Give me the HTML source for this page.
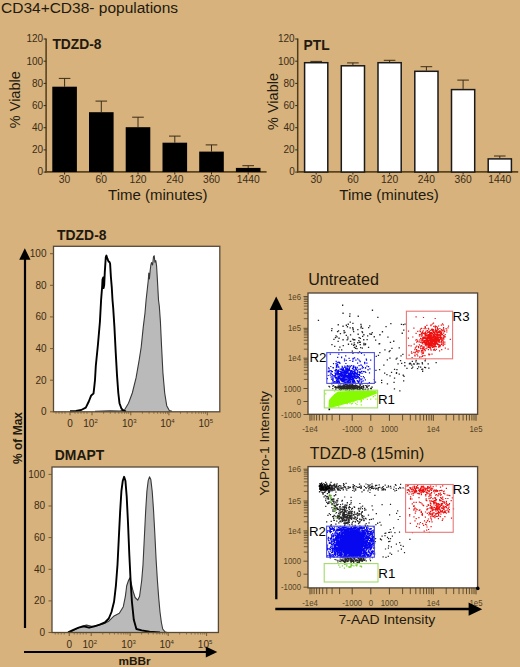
<!DOCTYPE html>
<html><head><meta charset="utf-8"><style>
html,body{margin:0;padding:0;background:#d7b27c;}
body{width:520px;height:667px;overflow:hidden;font-family:"Liberation Sans",sans-serif;}
svg{display:block;}
</style></head><body>
<svg width="520" height="667" viewBox="0 0 520 667">
<rect width="520" height="667" fill="#d7b27c"/>
<text x="1" y="12.6" font-family="Liberation Sans, sans-serif" font-size="15.5" fill="#22190f">CD34+CD38- populations</text>
<line x1="46.1" y1="38.5" x2="46.1" y2="172.6" stroke="#4e3c1c" stroke-width="1.5"/>
<line x1="45.4" y1="171.9" x2="266.6" y2="171.9" stroke="#5a4520" stroke-width="1.7"/>
<line x1="43.6" y1="172.1" x2="46.1" y2="172.1" stroke="#3a2c18" stroke-width="1"/>
<text x="43.1" y="175.4" font-family="Liberation Sans, sans-serif" font-size="10" fill="#3a2c18" text-anchor="end">0</text>
<line x1="43.6" y1="149.9" x2="46.1" y2="149.9" stroke="#3a2c18" stroke-width="1"/>
<text x="43.1" y="153.2" font-family="Liberation Sans, sans-serif" font-size="10" fill="#3a2c18" text-anchor="end">20</text>
<line x1="43.6" y1="127.7" x2="46.1" y2="127.7" stroke="#3a2c18" stroke-width="1"/>
<text x="43.1" y="131.0" font-family="Liberation Sans, sans-serif" font-size="10" fill="#3a2c18" text-anchor="end">40</text>
<line x1="43.6" y1="105.6" x2="46.1" y2="105.6" stroke="#3a2c18" stroke-width="1"/>
<text x="43.1" y="108.9" font-family="Liberation Sans, sans-serif" font-size="10" fill="#3a2c18" text-anchor="end">60</text>
<line x1="43.6" y1="83.4" x2="46.1" y2="83.4" stroke="#3a2c18" stroke-width="1"/>
<text x="43.1" y="86.7" font-family="Liberation Sans, sans-serif" font-size="10" fill="#3a2c18" text-anchor="end">80</text>
<line x1="43.6" y1="61.2" x2="46.1" y2="61.2" stroke="#3a2c18" stroke-width="1"/>
<text x="43.1" y="64.5" font-family="Liberation Sans, sans-serif" font-size="10" fill="#3a2c18" text-anchor="end">100</text>
<line x1="43.6" y1="39.0" x2="46.1" y2="39.0" stroke="#3a2c18" stroke-width="1"/>
<text x="43.1" y="42.3" font-family="Liberation Sans, sans-serif" font-size="10" fill="#3a2c18" text-anchor="end">120</text>
<text x="52.4" y="49" font-family="Liberation Sans, sans-serif" font-size="13.8" font-weight="bold" fill="#22190f">TDZD-8</text>
<line x1="64.6" y1="78.4" x2="64.6" y2="86.7" stroke="#3a2c18" stroke-width="1"/>
<line x1="58.8" y1="78.4" x2="70.4" y2="78.4" stroke="#3a2c18" stroke-width="1"/>
<rect x="52.3" y="86.7" width="24.6" height="85.3" fill="#000"/>
<line x1="64.6" y1="172" x2="64.6" y2="174.5" stroke="#3a2c18" stroke-width="1"/>
<text x="64.6" y="183.4" font-family="Liberation Sans, sans-serif" font-size="10.3" fill="#3a2c18" text-anchor="middle">30</text>
<line x1="101.3" y1="101.1" x2="101.3" y2="112.2" stroke="#3a2c18" stroke-width="1"/>
<line x1="95.5" y1="101.1" x2="107.1" y2="101.1" stroke="#3a2c18" stroke-width="1"/>
<rect x="89.0" y="112.2" width="24.6" height="59.8" fill="#000"/>
<line x1="101.3" y1="172" x2="101.3" y2="174.5" stroke="#3a2c18" stroke-width="1"/>
<text x="101.3" y="183.4" font-family="Liberation Sans, sans-serif" font-size="10.3" fill="#3a2c18" text-anchor="middle">60</text>
<line x1="138.0" y1="117.2" x2="138.0" y2="127.2" stroke="#3a2c18" stroke-width="1"/>
<line x1="132.2" y1="117.2" x2="143.8" y2="117.2" stroke="#3a2c18" stroke-width="1"/>
<rect x="125.7" y="127.2" width="24.6" height="44.8" fill="#000"/>
<line x1="138.0" y1="172" x2="138.0" y2="174.5" stroke="#3a2c18" stroke-width="1"/>
<text x="138.0" y="183.4" font-family="Liberation Sans, sans-serif" font-size="10.3" fill="#3a2c18" text-anchor="middle">120</text>
<line x1="174.8" y1="136.1" x2="174.8" y2="142.7" stroke="#3a2c18" stroke-width="1"/>
<line x1="169.0" y1="136.1" x2="180.6" y2="136.1" stroke="#3a2c18" stroke-width="1"/>
<rect x="162.5" y="142.7" width="24.6" height="29.3" fill="#000"/>
<line x1="174.8" y1="172" x2="174.8" y2="174.5" stroke="#3a2c18" stroke-width="1"/>
<text x="174.8" y="183.4" font-family="Liberation Sans, sans-serif" font-size="10.3" fill="#3a2c18" text-anchor="middle">240</text>
<line x1="211.5" y1="144.9" x2="211.5" y2="151.6" stroke="#3a2c18" stroke-width="1"/>
<line x1="205.7" y1="144.9" x2="217.3" y2="144.9" stroke="#3a2c18" stroke-width="1"/>
<rect x="199.2" y="151.6" width="24.6" height="20.4" fill="#000"/>
<line x1="211.5" y1="172" x2="211.5" y2="174.5" stroke="#3a2c18" stroke-width="1"/>
<text x="211.5" y="183.4" font-family="Liberation Sans, sans-serif" font-size="10.3" fill="#3a2c18" text-anchor="middle">360</text>
<line x1="248.2" y1="165.7" x2="248.2" y2="167.9" stroke="#3a2c18" stroke-width="1"/>
<line x1="242.4" y1="165.7" x2="254.0" y2="165.7" stroke="#3a2c18" stroke-width="1"/>
<rect x="235.9" y="167.9" width="24.6" height="4.1" fill="#000"/>
<line x1="248.2" y1="172" x2="248.2" y2="174.5" stroke="#3a2c18" stroke-width="1"/>
<text x="248.2" y="183.4" font-family="Liberation Sans, sans-serif" font-size="10.3" fill="#3a2c18" text-anchor="middle">1440</text>
<text x="157.8" y="200.3" font-family="Liberation Sans, sans-serif" font-size="15" fill="#22190f" text-anchor="middle">Time (minutes)</text>
<text transform="translate(20.2,99.7) rotate(-90)" x="0" y="0" font-family="Liberation Sans, sans-serif" font-size="14.5" fill="#22190f" text-anchor="middle">% Viable</text>
<line x1="297.7" y1="38.5" x2="297.7" y2="172.6" stroke="#4e3c1c" stroke-width="1.5"/>
<line x1="297.0" y1="171.9" x2="518.2" y2="171.9" stroke="#5a4520" stroke-width="1.7"/>
<line x1="295.2" y1="172.1" x2="297.7" y2="172.1" stroke="#3a2c18" stroke-width="1"/>
<text x="294.7" y="175.4" font-family="Liberation Sans, sans-serif" font-size="10" fill="#3a2c18" text-anchor="end">0</text>
<line x1="295.2" y1="149.9" x2="297.7" y2="149.9" stroke="#3a2c18" stroke-width="1"/>
<text x="294.7" y="153.2" font-family="Liberation Sans, sans-serif" font-size="10" fill="#3a2c18" text-anchor="end">20</text>
<line x1="295.2" y1="127.7" x2="297.7" y2="127.7" stroke="#3a2c18" stroke-width="1"/>
<text x="294.7" y="131.0" font-family="Liberation Sans, sans-serif" font-size="10" fill="#3a2c18" text-anchor="end">40</text>
<line x1="295.2" y1="105.6" x2="297.7" y2="105.6" stroke="#3a2c18" stroke-width="1"/>
<text x="294.7" y="108.9" font-family="Liberation Sans, sans-serif" font-size="10" fill="#3a2c18" text-anchor="end">60</text>
<line x1="295.2" y1="83.4" x2="297.7" y2="83.4" stroke="#3a2c18" stroke-width="1"/>
<text x="294.7" y="86.7" font-family="Liberation Sans, sans-serif" font-size="10" fill="#3a2c18" text-anchor="end">80</text>
<line x1="295.2" y1="61.2" x2="297.7" y2="61.2" stroke="#3a2c18" stroke-width="1"/>
<text x="294.7" y="64.5" font-family="Liberation Sans, sans-serif" font-size="10" fill="#3a2c18" text-anchor="end">100</text>
<line x1="295.2" y1="39.0" x2="297.7" y2="39.0" stroke="#3a2c18" stroke-width="1"/>
<text x="294.7" y="42.3" font-family="Liberation Sans, sans-serif" font-size="10" fill="#3a2c18" text-anchor="end">120</text>
<text x="303.6" y="50.4" font-family="Liberation Sans, sans-serif" font-size="13.8" font-weight="bold" fill="#22190f">PTL</text>
<line x1="316.2" y1="61.4" x2="316.2" y2="62.0" stroke="#3a2c18" stroke-width="1"/>
<line x1="310.4" y1="61.4" x2="322.0" y2="61.4" stroke="#3a2c18" stroke-width="1"/>
<rect x="304.6" y="62.7" width="23.200000000000003" height="109.3" fill="#fff" stroke="#1a1a1a" stroke-width="1.5"/>
<line x1="316.2" y1="172" x2="316.2" y2="174.5" stroke="#3a2c18" stroke-width="1"/>
<text x="316.2" y="183.4" font-family="Liberation Sans, sans-serif" font-size="10.3" fill="#3a2c18" text-anchor="middle">30</text>
<line x1="352.9" y1="62.9" x2="352.9" y2="65.1" stroke="#3a2c18" stroke-width="1"/>
<line x1="347.1" y1="62.9" x2="358.7" y2="62.9" stroke="#3a2c18" stroke-width="1"/>
<rect x="341.3" y="65.8" width="23.200000000000003" height="106.2" fill="#fff" stroke="#1a1a1a" stroke-width="1.5"/>
<line x1="352.9" y1="172" x2="352.9" y2="174.5" stroke="#3a2c18" stroke-width="1"/>
<text x="352.9" y="183.4" font-family="Liberation Sans, sans-serif" font-size="10.3" fill="#3a2c18" text-anchor="middle">60</text>
<line x1="389.6" y1="60.3" x2="389.6" y2="62.0" stroke="#3a2c18" stroke-width="1"/>
<line x1="383.8" y1="60.3" x2="395.4" y2="60.3" stroke="#3a2c18" stroke-width="1"/>
<rect x="378.0" y="62.7" width="23.200000000000003" height="109.3" fill="#fff" stroke="#1a1a1a" stroke-width="1.5"/>
<line x1="389.6" y1="172" x2="389.6" y2="174.5" stroke="#3a2c18" stroke-width="1"/>
<text x="389.6" y="183.4" font-family="Liberation Sans, sans-serif" font-size="10.3" fill="#3a2c18" text-anchor="middle">120</text>
<line x1="426.4" y1="66.7" x2="426.4" y2="70.6" stroke="#3a2c18" stroke-width="1"/>
<line x1="420.6" y1="66.7" x2="432.2" y2="66.7" stroke="#3a2c18" stroke-width="1"/>
<rect x="414.8" y="71.3" width="23.200000000000003" height="100.7" fill="#fff" stroke="#1a1a1a" stroke-width="1.5"/>
<line x1="426.4" y1="172" x2="426.4" y2="174.5" stroke="#3a2c18" stroke-width="1"/>
<text x="426.4" y="183.4" font-family="Liberation Sans, sans-serif" font-size="10.3" fill="#3a2c18" text-anchor="middle">240</text>
<line x1="463.1" y1="80.1" x2="463.1" y2="88.9" stroke="#3a2c18" stroke-width="1"/>
<line x1="457.3" y1="80.1" x2="468.9" y2="80.1" stroke="#3a2c18" stroke-width="1"/>
<rect x="451.5" y="89.6" width="23.200000000000003" height="82.4" fill="#fff" stroke="#1a1a1a" stroke-width="1.5"/>
<line x1="463.1" y1="172" x2="463.1" y2="174.5" stroke="#3a2c18" stroke-width="1"/>
<text x="463.1" y="183.4" font-family="Liberation Sans, sans-serif" font-size="10.3" fill="#3a2c18" text-anchor="middle">360</text>
<line x1="499.8" y1="156.0" x2="499.8" y2="158.2" stroke="#3a2c18" stroke-width="1"/>
<line x1="494.0" y1="156.0" x2="505.6" y2="156.0" stroke="#3a2c18" stroke-width="1"/>
<rect x="488.2" y="158.9" width="23.200000000000003" height="13.1" fill="#fff" stroke="#1a1a1a" stroke-width="1.5"/>
<line x1="499.8" y1="172" x2="499.8" y2="174.5" stroke="#3a2c18" stroke-width="1"/>
<text x="499.8" y="183.4" font-family="Liberation Sans, sans-serif" font-size="10.3" fill="#3a2c18" text-anchor="middle">1440</text>
<text x="389.1" y="200.3" font-family="Liberation Sans, sans-serif" font-size="15" fill="#22190f" text-anchor="middle">Time (minutes)</text>
<text transform="translate(277.6,101.5) rotate(-90)" x="0" y="0" font-family="Liberation Sans, sans-serif" font-size="14.5" fill="#22190f" text-anchor="middle">% Viable</text>
<rect x="53.5" y="246.3" width="166.3" height="165.5" fill="#fff"/>
<polygon points="95.0,411.3 110.0,410.8 120.0,411.0 124.6,409.8 128.5,403.2 132.3,393.0 136.1,377.7 139.2,359.8 141.2,347.0 143.3,326.6 145.0,313.0 146.1,300.0 148.2,281.0 148.8,273.0 149.4,279.0 150.2,270.2 150.9,264.8 151.5,262.6 152.6,265.0 153.5,256.7 154.2,255.8 154.9,262.1 155.8,260.6 156.6,266.2 157.6,283.6 158.5,300.0 159.3,306.0 160.4,321.5 161.6,347.0 162.9,372.6 164.7,393.0 166.7,405.7 169.3,410.6 172.0,411.3 172.0,411.8 95.0,411.8" fill="#bababa" stroke="none"/>
<polyline points="95.0,411.3 110.0,410.8 120.0,411.0 124.6,409.8 128.5,403.2 132.3,393.0 136.1,377.7 139.2,359.8 141.2,347.0 143.3,326.6 145.0,313.0 146.1,300.0 148.2,281.0 148.8,273.0 149.4,279.0 150.2,270.2 150.9,264.8 151.5,262.6 152.6,265.0 153.5,256.7 154.2,255.8 154.9,262.1 155.8,260.6 156.6,266.2 157.6,283.6 158.5,300.0 159.3,306.0 160.4,321.5 161.6,347.0 162.9,372.6 164.7,393.0 166.7,405.7 169.3,410.6 172.0,411.3" fill="none" stroke="#383838" stroke-width="1.1" stroke-linejoin="round"/>
<polyline points="70.0,411.3 76.0,411.0 81.2,410.0 85.8,407.7 88.8,401.5 91.2,395.4 93.5,393.6 94.2,387.7 95.0,380.0 95.8,366.0 97.9,345.0 99.9,322.0 101.1,300.0 102.2,286.0 102.5,279.5 103.2,277.5 103.6,288.0 104.2,285.0 104.8,272.0 105.8,257.0 106.4,255.6 107.4,258.7 108.5,261.4 109.5,262.1 110.1,263.5 110.9,277.0 111.8,287.7 112.5,300.0 113.2,308.0 114.4,326.6 115.7,352.1 117.0,375.1 118.3,393.0 119.5,403.2 121.3,408.3 123.4,410.6 126.0,411.3" fill="none" stroke="#000" stroke-width="1.9" stroke-linejoin="round"/>
<rect x="53.5" y="246.3" width="166.3" height="165.5" fill="none" stroke="#55493a" stroke-width="1.3"/>
<line x1="50.0" y1="411.8" x2="53.5" y2="411.8" stroke="#6a5430" stroke-width="0.9"/>
<text x="46.5" y="415.2" font-family="Liberation Sans, sans-serif" font-size="10" fill="#3a2c18" text-anchor="end">0</text>
<line x1="50.0" y1="380.2" x2="53.5" y2="380.2" stroke="#6a5430" stroke-width="0.9"/>
<text x="46.5" y="383.6" font-family="Liberation Sans, sans-serif" font-size="10" fill="#3a2c18" text-anchor="end">20</text>
<line x1="50.0" y1="348.6" x2="53.5" y2="348.6" stroke="#6a5430" stroke-width="0.9"/>
<text x="46.5" y="352.0" font-family="Liberation Sans, sans-serif" font-size="10" fill="#3a2c18" text-anchor="end">40</text>
<line x1="50.0" y1="316.9" x2="53.5" y2="316.9" stroke="#6a5430" stroke-width="0.9"/>
<text x="46.5" y="320.3" font-family="Liberation Sans, sans-serif" font-size="10" fill="#3a2c18" text-anchor="end">60</text>
<line x1="50.0" y1="285.3" x2="53.5" y2="285.3" stroke="#6a5430" stroke-width="0.9"/>
<text x="46.5" y="288.7" font-family="Liberation Sans, sans-serif" font-size="10" fill="#3a2c18" text-anchor="end">80</text>
<line x1="50.0" y1="253.7" x2="53.5" y2="253.7" stroke="#6a5430" stroke-width="0.9"/>
<text x="46.5" y="257.1" font-family="Liberation Sans, sans-serif" font-size="10" fill="#3a2c18" text-anchor="end">100</text>
<line x1="70.0" y1="411.8" x2="70.0" y2="415.3" stroke="#6a5430" stroke-width="0.9"/>
<line x1="92.0" y1="411.8" x2="92.0" y2="415.3" stroke="#6a5430" stroke-width="0.9"/>
<line x1="103.6" y1="411.8" x2="103.6" y2="413.8" stroke="#6a5430" stroke-width="0.7"/>
<line x1="110.3" y1="411.8" x2="110.3" y2="413.8" stroke="#6a5430" stroke-width="0.7"/>
<line x1="115.1" y1="411.8" x2="115.1" y2="413.8" stroke="#6a5430" stroke-width="0.7"/>
<line x1="118.8" y1="411.8" x2="118.8" y2="413.8" stroke="#6a5430" stroke-width="0.7"/>
<line x1="121.9" y1="411.8" x2="121.9" y2="413.8" stroke="#6a5430" stroke-width="0.7"/>
<line x1="124.5" y1="411.8" x2="124.5" y2="413.8" stroke="#6a5430" stroke-width="0.7"/>
<line x1="126.7" y1="411.8" x2="126.7" y2="413.8" stroke="#6a5430" stroke-width="0.7"/>
<line x1="128.6" y1="411.8" x2="128.6" y2="413.8" stroke="#6a5430" stroke-width="0.7"/>
<line x1="130.8" y1="411.8" x2="130.8" y2="415.3" stroke="#6a5430" stroke-width="0.9"/>
<line x1="142.4" y1="411.8" x2="142.4" y2="413.8" stroke="#6a5430" stroke-width="0.7"/>
<line x1="149.1" y1="411.8" x2="149.1" y2="413.8" stroke="#6a5430" stroke-width="0.7"/>
<line x1="153.9" y1="411.8" x2="153.9" y2="413.8" stroke="#6a5430" stroke-width="0.7"/>
<line x1="157.6" y1="411.8" x2="157.6" y2="413.8" stroke="#6a5430" stroke-width="0.7"/>
<line x1="160.7" y1="411.8" x2="160.7" y2="413.8" stroke="#6a5430" stroke-width="0.7"/>
<line x1="163.3" y1="411.8" x2="163.3" y2="413.8" stroke="#6a5430" stroke-width="0.7"/>
<line x1="165.5" y1="411.8" x2="165.5" y2="413.8" stroke="#6a5430" stroke-width="0.7"/>
<line x1="167.4" y1="411.8" x2="167.4" y2="413.8" stroke="#6a5430" stroke-width="0.7"/>
<line x1="168.9" y1="411.8" x2="168.9" y2="415.3" stroke="#6a5430" stroke-width="0.9"/>
<line x1="180.5" y1="411.8" x2="180.5" y2="413.8" stroke="#6a5430" stroke-width="0.7"/>
<line x1="187.2" y1="411.8" x2="187.2" y2="413.8" stroke="#6a5430" stroke-width="0.7"/>
<line x1="192.0" y1="411.8" x2="192.0" y2="413.8" stroke="#6a5430" stroke-width="0.7"/>
<line x1="195.7" y1="411.8" x2="195.7" y2="413.8" stroke="#6a5430" stroke-width="0.7"/>
<line x1="198.8" y1="411.8" x2="198.8" y2="413.8" stroke="#6a5430" stroke-width="0.7"/>
<line x1="201.4" y1="411.8" x2="201.4" y2="413.8" stroke="#6a5430" stroke-width="0.7"/>
<line x1="203.6" y1="411.8" x2="203.6" y2="413.8" stroke="#6a5430" stroke-width="0.7"/>
<line x1="205.5" y1="411.8" x2="205.5" y2="413.8" stroke="#6a5430" stroke-width="0.7"/>
<line x1="207.3" y1="411.8" x2="207.3" y2="415.3" stroke="#6a5430" stroke-width="0.9"/>
<line x1="56.0" y1="411.8" x2="56.0" y2="413.8" stroke="#6a5430" stroke-width="0.7"/>
<line x1="59.0" y1="411.8" x2="59.0" y2="413.8" stroke="#6a5430" stroke-width="0.7"/>
<line x1="62.0" y1="411.8" x2="62.0" y2="413.8" stroke="#6a5430" stroke-width="0.7"/>
<line x1="65.0" y1="411.8" x2="65.0" y2="413.8" stroke="#6a5430" stroke-width="0.7"/>
<line x1="75.0" y1="411.8" x2="75.0" y2="413.8" stroke="#6a5430" stroke-width="0.7"/>
<line x1="78.0" y1="411.8" x2="78.0" y2="413.8" stroke="#6a5430" stroke-width="0.7"/>
<line x1="81.0" y1="411.8" x2="81.0" y2="413.8" stroke="#6a5430" stroke-width="0.7"/>
<line x1="84.0" y1="411.8" x2="84.0" y2="413.8" stroke="#6a5430" stroke-width="0.7"/>
<line x1="87.0" y1="411.8" x2="87.0" y2="413.8" stroke="#6a5430" stroke-width="0.7"/>
<text x="70.0" y="427.0" font-family="Liberation Sans, sans-serif" font-size="10" fill="#3a2c18" text-anchor="middle">0</text>
<text x="90.5" y="427.0" font-family="Liberation Sans, sans-serif" font-size="10" fill="#3a2c18" text-anchor="middle">10<tspan font-size="6" dy="-4">2</tspan></text>
<text x="129.3" y="427.0" font-family="Liberation Sans, sans-serif" font-size="10" fill="#3a2c18" text-anchor="middle">10<tspan font-size="6" dy="-4">3</tspan></text>
<text x="167.4" y="427.0" font-family="Liberation Sans, sans-serif" font-size="10" fill="#3a2c18" text-anchor="middle">10<tspan font-size="6" dy="-4">4</tspan></text>
<text x="205.8" y="427.0" font-family="Liberation Sans, sans-serif" font-size="10" fill="#3a2c18" text-anchor="middle">10<tspan font-size="6" dy="-4">5</tspan></text>
<text x="57.1" y="240.0" font-family="Liberation Sans, sans-serif" font-size="13.9" font-weight="bold" fill="#22190f">TDZD-8</text>
<rect x="52" y="467" width="166.4" height="165.5" fill="#fff"/>
<polygon points="69.4,632.4 76.0,629.0 81.3,626.4 86.5,625.1 91.8,626.4 97.0,625.6 103.6,623.8 108.8,621.2 114.1,615.9 119.3,613.3 123.3,606.7 125.4,596.2 126.7,585.7 128.5,580.5 129.8,577.9 131.2,583.1 133.0,591.0 135.1,597.5 137.7,600.2 139.6,596.2 141.7,580.5 143.0,564.7 144.3,538.5 145.6,512.2 146.9,491.2 148.2,480.7 149.5,476.8 150.8,479.4 152.2,491.2 153.5,509.6 154.8,533.2 156.1,559.5 157.4,580.5 158.8,598.9 160.0,612.0 161.4,622.5 162.7,629.0 164.8,631.7 167.0,632.4 167.0,632.5 69.4,632.5" fill="#bababa" stroke="none"/>
<polyline points="69.4,632.4 76.0,629.0 81.3,626.4 86.5,625.1 91.8,626.4 97.0,625.6 103.6,623.8 108.8,621.2 114.1,615.9 119.3,613.3 123.3,606.7 125.4,596.2 126.7,585.7 128.5,580.5 129.8,577.9 131.2,583.1 133.0,591.0 135.1,597.5 137.7,600.2 139.6,596.2 141.7,580.5 143.0,564.7 144.3,538.5 145.6,512.2 146.9,491.2 148.2,480.7 149.5,476.8 150.8,479.4 152.2,491.2 153.5,509.6 154.8,533.2 156.1,559.5 157.4,580.5 158.8,598.9 160.0,612.0 161.4,622.5 162.7,629.0 164.8,631.7 167.0,632.4" fill="none" stroke="#383838" stroke-width="1.1" stroke-linejoin="round"/>
<polyline points="68.1,632.4 73.4,629.8 78.6,627.7 83.9,626.4 89.1,627.7 94.4,626.4 99.6,624.6 104.9,622.5 108.8,618.5 111.5,612.0 114.1,601.5 115.9,585.7 117.5,564.7 118.8,538.5 120.1,512.2 121.4,491.2 122.8,480.7 124.1,476.8 125.4,480.7 126.7,496.5 128.0,522.7 129.3,554.2 130.6,580.5 131.9,601.5 133.8,619.8 136.4,629.0 141.7,630.4 149.5,631.7 160.0,632.4" fill="none" stroke="#000" stroke-width="1.9" stroke-linejoin="round"/>
<rect x="52" y="467" width="166.4" height="165.5" fill="none" stroke="#55493a" stroke-width="1.3"/>
<line x1="48.5" y1="632.5" x2="52" y2="632.5" stroke="#6a5430" stroke-width="0.9"/>
<text x="45" y="635.9" font-family="Liberation Sans, sans-serif" font-size="10" fill="#3a2c18" text-anchor="end">0</text>
<line x1="48.5" y1="600.9" x2="52" y2="600.9" stroke="#6a5430" stroke-width="0.9"/>
<text x="45" y="604.3" font-family="Liberation Sans, sans-serif" font-size="10" fill="#3a2c18" text-anchor="end">20</text>
<line x1="48.5" y1="569.3" x2="52" y2="569.3" stroke="#6a5430" stroke-width="0.9"/>
<text x="45" y="572.7" font-family="Liberation Sans, sans-serif" font-size="10" fill="#3a2c18" text-anchor="end">40</text>
<line x1="48.5" y1="537.6" x2="52" y2="537.6" stroke="#6a5430" stroke-width="0.9"/>
<text x="45" y="541.0" font-family="Liberation Sans, sans-serif" font-size="10" fill="#3a2c18" text-anchor="end">60</text>
<line x1="48.5" y1="506.0" x2="52" y2="506.0" stroke="#6a5430" stroke-width="0.9"/>
<text x="45" y="509.4" font-family="Liberation Sans, sans-serif" font-size="10" fill="#3a2c18" text-anchor="end">80</text>
<line x1="48.5" y1="474.4" x2="52" y2="474.4" stroke="#6a5430" stroke-width="0.9"/>
<text x="45" y="477.8" font-family="Liberation Sans, sans-serif" font-size="10" fill="#3a2c18" text-anchor="end">100</text>
<line x1="69.25" y1="632.5" x2="69.25" y2="636.0" stroke="#6a5430" stroke-width="0.9"/>
<line x1="91.2" y1="632.5" x2="91.2" y2="636.0" stroke="#6a5430" stroke-width="0.9"/>
<line x1="102.8" y1="632.5" x2="102.8" y2="634.5" stroke="#6a5430" stroke-width="0.7"/>
<line x1="109.6" y1="632.5" x2="109.6" y2="634.5" stroke="#6a5430" stroke-width="0.7"/>
<line x1="114.4" y1="632.5" x2="114.4" y2="634.5" stroke="#6a5430" stroke-width="0.7"/>
<line x1="118.1" y1="632.5" x2="118.1" y2="634.5" stroke="#6a5430" stroke-width="0.7"/>
<line x1="121.1" y1="632.5" x2="121.1" y2="634.5" stroke="#6a5430" stroke-width="0.7"/>
<line x1="123.7" y1="632.5" x2="123.7" y2="634.5" stroke="#6a5430" stroke-width="0.7"/>
<line x1="125.9" y1="632.5" x2="125.9" y2="634.5" stroke="#6a5430" stroke-width="0.7"/>
<line x1="127.9" y1="632.5" x2="127.9" y2="634.5" stroke="#6a5430" stroke-width="0.7"/>
<line x1="130.1" y1="632.5" x2="130.1" y2="636.0" stroke="#6a5430" stroke-width="0.9"/>
<line x1="141.6" y1="632.5" x2="141.6" y2="634.5" stroke="#6a5430" stroke-width="0.7"/>
<line x1="148.4" y1="632.5" x2="148.4" y2="634.5" stroke="#6a5430" stroke-width="0.7"/>
<line x1="153.2" y1="632.5" x2="153.2" y2="634.5" stroke="#6a5430" stroke-width="0.7"/>
<line x1="156.9" y1="632.5" x2="156.9" y2="634.5" stroke="#6a5430" stroke-width="0.7"/>
<line x1="159.9" y1="632.5" x2="159.9" y2="634.5" stroke="#6a5430" stroke-width="0.7"/>
<line x1="162.5" y1="632.5" x2="162.5" y2="634.5" stroke="#6a5430" stroke-width="0.7"/>
<line x1="164.7" y1="632.5" x2="164.7" y2="634.5" stroke="#6a5430" stroke-width="0.7"/>
<line x1="166.7" y1="632.5" x2="166.7" y2="634.5" stroke="#6a5430" stroke-width="0.7"/>
<line x1="168.2" y1="632.5" x2="168.2" y2="636.0" stroke="#6a5430" stroke-width="0.9"/>
<line x1="179.7" y1="632.5" x2="179.7" y2="634.5" stroke="#6a5430" stroke-width="0.7"/>
<line x1="186.5" y1="632.5" x2="186.5" y2="634.5" stroke="#6a5430" stroke-width="0.7"/>
<line x1="191.3" y1="632.5" x2="191.3" y2="634.5" stroke="#6a5430" stroke-width="0.7"/>
<line x1="195.0" y1="632.5" x2="195.0" y2="634.5" stroke="#6a5430" stroke-width="0.7"/>
<line x1="198.0" y1="632.5" x2="198.0" y2="634.5" stroke="#6a5430" stroke-width="0.7"/>
<line x1="200.6" y1="632.5" x2="200.6" y2="634.5" stroke="#6a5430" stroke-width="0.7"/>
<line x1="202.8" y1="632.5" x2="202.8" y2="634.5" stroke="#6a5430" stroke-width="0.7"/>
<line x1="204.8" y1="632.5" x2="204.8" y2="634.5" stroke="#6a5430" stroke-width="0.7"/>
<line x1="206.6" y1="632.5" x2="206.6" y2="636.0" stroke="#6a5430" stroke-width="0.9"/>
<line x1="55.2" y1="632.5" x2="55.2" y2="634.5" stroke="#6a5430" stroke-width="0.7"/>
<line x1="58.2" y1="632.5" x2="58.2" y2="634.5" stroke="#6a5430" stroke-width="0.7"/>
<line x1="61.2" y1="632.5" x2="61.2" y2="634.5" stroke="#6a5430" stroke-width="0.7"/>
<line x1="64.2" y1="632.5" x2="64.2" y2="634.5" stroke="#6a5430" stroke-width="0.7"/>
<line x1="74.2" y1="632.5" x2="74.2" y2="634.5" stroke="#6a5430" stroke-width="0.7"/>
<line x1="77.2" y1="632.5" x2="77.2" y2="634.5" stroke="#6a5430" stroke-width="0.7"/>
<line x1="80.2" y1="632.5" x2="80.2" y2="634.5" stroke="#6a5430" stroke-width="0.7"/>
<line x1="83.2" y1="632.5" x2="83.2" y2="634.5" stroke="#6a5430" stroke-width="0.7"/>
<line x1="86.2" y1="632.5" x2="86.2" y2="634.5" stroke="#6a5430" stroke-width="0.7"/>
<text x="69.25" y="647.7" font-family="Liberation Sans, sans-serif" font-size="10" fill="#3a2c18" text-anchor="middle">0</text>
<text x="89.8" y="647.7" font-family="Liberation Sans, sans-serif" font-size="10" fill="#3a2c18" text-anchor="middle">10<tspan font-size="6" dy="-4">2</tspan></text>
<text x="128.6" y="647.7" font-family="Liberation Sans, sans-serif" font-size="10" fill="#3a2c18" text-anchor="middle">10<tspan font-size="6" dy="-4">3</tspan></text>
<text x="166.7" y="647.7" font-family="Liberation Sans, sans-serif" font-size="10" fill="#3a2c18" text-anchor="middle">10<tspan font-size="6" dy="-4">4</tspan></text>
<text x="205.1" y="647.7" font-family="Liberation Sans, sans-serif" font-size="10" fill="#3a2c18" text-anchor="middle">10<tspan font-size="6" dy="-4">5</tspan></text>
<text x="54.8" y="459.7" font-family="Liberation Sans, sans-serif" font-size="13.9" font-weight="bold" fill="#22190f">DMAPT</text>
<line x1="25" y1="258" x2="25" y2="628" stroke="#000" stroke-width="2.2"/>
<polygon points="24.8,248.3 19.2,259.8 30.5,259.8" fill="#000"/>
<line x1="24" y1="652" x2="207" y2="652" stroke="#000" stroke-width="2.2"/>
<polygon points="217.3,652 205.8,646.4 205.8,657.4" fill="#000"/>
<text transform="translate(21.9,438) rotate(-90)" font-family="Liberation Sans, sans-serif" font-size="12" font-weight="bold" fill="#22190f" text-anchor="middle">% of Max</text>
<text x="134.6" y="664.7" font-family="Liberation Sans, sans-serif" font-size="11.8" font-weight="bold" fill="#22190f" text-anchor="middle">mBBr</text>
<rect x="308" y="293" width="169.60000000000002" height="121.3" fill="#fff"/>
<path d="M337.5 340.8h1.3v1.3h-1.3zM361.9 331.9h1.3v1.3h-1.3zM336.4 336.3h1.3v1.3h-1.3zM356.3 348.0h1.3v1.3h-1.3zM337.6 324.1h1.3v1.3h-1.3zM358.8 341.7h1.3v1.3h-1.3zM367.9 346.8h1.3v1.3h-1.3zM349.9 334.3h1.3v1.3h-1.3zM379.3 334.1h1.3v1.3h-1.3zM342.4 325.6h1.3v1.3h-1.3zM352.1 338.5h1.3v1.3h-1.3zM347.2 336.4h1.3v1.3h-1.3zM354.0 343.9h1.3v1.3h-1.3zM363.1 339.1h1.3v1.3h-1.3zM331.3 344.0h1.3v1.3h-1.3zM335.4 335.3h1.3v1.3h-1.3zM334.8 337.0h1.3v1.3h-1.3zM342.4 339.1h1.3v1.3h-1.3zM387.3 336.5h1.3v1.3h-1.3zM360.3 323.8h1.3v1.3h-1.3zM347.8 343.6h1.3v1.3h-1.3zM350.0 340.7h1.3v1.3h-1.3zM352.1 326.9h1.3v1.3h-1.3zM357.2 328.9h1.3v1.3h-1.3zM371.6 331.9h1.3v1.3h-1.3zM358.5 337.0h1.3v1.3h-1.3zM361.5 331.0h1.3v1.3h-1.3zM362.0 335.8h1.3v1.3h-1.3zM364.9 343.2h1.3v1.3h-1.3zM352.6 329.2h1.3v1.3h-1.3zM359.4 341.7h1.3v1.3h-1.3zM369.1 333.2h1.3v1.3h-1.3zM357.1 342.1h1.3v1.3h-1.3zM354.1 339.1h1.3v1.3h-1.3zM353.0 331.0h1.3v1.3h-1.3zM339.8 333.0h1.3v1.3h-1.3zM357.5 352.1h1.3v1.3h-1.3zM361.7 347.5h1.3v1.3h-1.3zM359.6 344.0h1.3v1.3h-1.3zM353.0 344.7h1.3v1.3h-1.3zM370.5 333.7h1.3v1.3h-1.3zM353.7 346.7h1.3v1.3h-1.3zM360.6 325.6h1.3v1.3h-1.3zM377.8 354.8h1.3v1.3h-1.3zM352.9 344.5h1.3v1.3h-1.3zM352.4 328.2h1.3v1.3h-1.3zM349.8 340.7h1.3v1.3h-1.3zM363.3 344.1h1.3v1.3h-1.3zM351.7 350.5h1.3v1.3h-1.3zM342.6 344.9h1.3v1.3h-1.3zM363.2 334.1h1.3v1.3h-1.3zM331.3 327.9h1.3v1.3h-1.3zM353.6 342.3h1.3v1.3h-1.3zM368.0 327.0h1.3v1.3h-1.3zM351.0 343.5h1.3v1.3h-1.3zM349.3 313.3h1.3v1.3h-1.3zM362.0 327.8h1.3v1.3h-1.3zM346.5 339.2h1.3v1.3h-1.3zM378.4 343.2h1.3v1.3h-1.3zM352.3 352.6h1.3v1.3h-1.3zM343.5 332.3h1.3v1.3h-1.3zM358.9 351.2h1.3v1.3h-1.3zM358.2 340.0h1.3v1.3h-1.3zM331.0 329.9h1.3v1.3h-1.3zM344.3 331.7h1.3v1.3h-1.3zM357.5 333.6h1.3v1.3h-1.3zM359.7 337.8h1.3v1.3h-1.3zM347.3 338.2h1.3v1.3h-1.3zM355.7 345.6h1.3v1.3h-1.3zM345.7 334.7h1.3v1.3h-1.3zM367.0 335.2h1.3v1.3h-1.3zM345.7 324.6h1.3v1.3h-1.3zM352.9 339.1h1.3v1.3h-1.3zM375.0 339.5h1.3v1.3h-1.3zM342.4 312.6h1.3v1.3h-1.3zM366.5 338.9h1.3v1.3h-1.3zM333.3 338.8h1.3v1.3h-1.3zM363.3 342.7h1.3v1.3h-1.3zM349.1 315.6h1.3v1.3h-1.3zM349.6 321.5h1.3v1.3h-1.3zM357.6 315.6h1.3v1.3h-1.3zM341.0 349.2h1.3v1.3h-1.3zM369.1 325.2h1.3v1.3h-1.3zM334.1 345.8h1.3v1.3h-1.3zM360.4 327.1h1.3v1.3h-1.3zM343.4 330.1h1.3v1.3h-1.3zM337.9 330.2h1.3v1.3h-1.3zM364.8 343.9h1.3v1.3h-1.3zM373.6 336.1h1.3v1.3h-1.3zM349.5 327.2h1.3v1.3h-1.3z" fill="#262626"/>
<path d="M352.3 322.7h1.3v1.3h-1.3zM315.9 356.8h1.3v1.3h-1.3zM386.7 359.2h1.3v1.3h-1.3zM384.3 349.3h1.3v1.3h-1.3zM339.2 346.5h1.3v1.3h-1.3zM346.8 326.1h1.3v1.3h-1.3zM317.8 319.8h1.3v1.3h-1.3zM354.9 347.6h1.3v1.3h-1.3zM381.8 331.1h1.3v1.3h-1.3zM371.8 309.6h1.3v1.3h-1.3zM370.8 333.6h1.3v1.3h-1.3zM338.4 337.6h1.3v1.3h-1.3zM377.2 316.8h1.3v1.3h-1.3zM342.0 304.6h1.3v1.3h-1.3zM338.2 349.2h1.3v1.3h-1.3zM336.9 330.9h1.3v1.3h-1.3zM379.0 342.9h1.3v1.3h-1.3zM360.0 346.9h1.3v1.3h-1.3zM359.5 341.5h1.3v1.3h-1.3zM347.6 323.6h1.3v1.3h-1.3z" fill="#262626"/>
<path d="M375.6 355.7h1.3v1.3h-1.3zM388.6 351.0h1.3v1.3h-1.3zM399.9 360.0h1.3v1.3h-1.3zM379.2 352.0h1.3v1.3h-1.3zM393.9 368.8h1.3v1.3h-1.3zM393.9 377.5h1.3v1.3h-1.3zM399.2 390.3h1.3v1.3h-1.3zM395.5 358.4h1.3v1.3h-1.3zM389.3 357.5h1.3v1.3h-1.3zM375.3 369.8h1.3v1.3h-1.3zM396.4 357.5h1.3v1.3h-1.3zM383.2 364.5h1.3v1.3h-1.3zM395.9 371.9h1.3v1.3h-1.3zM393.4 381.8h1.3v1.3h-1.3zM386.8 383.3h1.3v1.3h-1.3zM402.2 353.7h1.3v1.3h-1.3zM403.0 380.3h1.3v1.3h-1.3zM378.9 369.0h1.3v1.3h-1.3zM393.8 388.2h1.3v1.3h-1.3zM386.3 373.9h1.3v1.3h-1.3z" fill="#262626"/>
<path d="M390.9 371.7h1.3v1.3h-1.3zM404.1 362.0h1.3v1.3h-1.3zM403.4 375.7h1.3v1.3h-1.3zM415.5 359.8h1.3v1.3h-1.3zM398.6 373.4h1.3v1.3h-1.3zM404.2 365.1h1.3v1.3h-1.3zM384.0 372.4h1.3v1.3h-1.3zM402.6 374.6h1.3v1.3h-1.3zM381.0 382.0h1.3v1.3h-1.3zM389.4 375.2h1.3v1.3h-1.3zM374.8 381.5h1.3v1.3h-1.3zM400.4 355.2h1.3v1.3h-1.3zM395.8 372.7h1.3v1.3h-1.3zM381.0 379.7h1.3v1.3h-1.3zM397.4 363.3h1.3v1.3h-1.3zM401.0 362.8h1.3v1.3h-1.3zM396.3 369.0h1.3v1.3h-1.3z" fill="#262626"/>
<path d="M422.0 370.6h1.3v1.3h-1.3zM427.6 363.2h1.3v1.3h-1.3zM413.2 363.0h1.3v1.3h-1.3zM408.8 363.1h1.3v1.3h-1.3zM416.5 363.5h1.3v1.3h-1.3zM427.5 363.2h1.3v1.3h-1.3zM406.3 367.7h1.3v1.3h-1.3zM409.4 362.4h1.3v1.3h-1.3zM416.9 362.8h1.3v1.3h-1.3zM410.0 363.1h1.3v1.3h-1.3zM435.5 361.9h1.3v1.3h-1.3zM416.9 367.9h1.3v1.3h-1.3zM424.0 366.7h1.3v1.3h-1.3zM411.1 364.4h1.3v1.3h-1.3zM422.0 368.5h1.3v1.3h-1.3zM421.8 363.2h1.3v1.3h-1.3zM418.3 363.3h1.3v1.3h-1.3zM420.0 366.4h1.3v1.3h-1.3zM415.3 361.2h1.3v1.3h-1.3zM411.2 367.8h1.3v1.3h-1.3zM428.2 367.5h1.3v1.3h-1.3zM424.9 366.9h1.3v1.3h-1.3zM418.0 366.3h1.3v1.3h-1.3zM409.6 363.3h1.3v1.3h-1.3zM412.1 366.5h1.3v1.3h-1.3zM413.4 363.6h1.3v1.3h-1.3zM421.2 368.7h1.3v1.3h-1.3zM411.7 360.7h1.3v1.3h-1.3zM424.5 360.1h1.3v1.3h-1.3zM421.6 362.0h1.3v1.3h-1.3z" fill="#262626"/>
<path d="M403.1 329.5h1.3v1.3h-1.3zM391.3 347.7h1.3v1.3h-1.3zM389.4 350.0h1.3v1.3h-1.3zM402.8 324.0h1.3v1.3h-1.3zM389.8 341.8h1.3v1.3h-1.3zM390.2 322.9h1.3v1.3h-1.3zM401.6 332.6h1.3v1.3h-1.3zM400.8 323.8h1.3v1.3h-1.3zM393.1 340.6h1.3v1.3h-1.3zM385.4 326.0h1.3v1.3h-1.3zM398.6 347.3h1.3v1.3h-1.3zM404.4 323.5h1.3v1.3h-1.3z" fill="#262626"/>
<path d="M334.8 386.7h1.2v1.2h-1.2zM336.3 386.8h1.2v1.2h-1.2zM351.3 387.3h1.2v1.2h-1.2zM352.0 387.1h1.2v1.2h-1.2zM339.7 386.2h1.2v1.2h-1.2zM345.4 386.4h1.2v1.2h-1.2zM352.4 387.7h1.2v1.2h-1.2zM353.6 386.5h1.2v1.2h-1.2zM370.5 388.2h1.2v1.2h-1.2zM335.1 387.4h1.2v1.2h-1.2zM345.3 388.3h1.2v1.2h-1.2zM340.5 386.6h1.2v1.2h-1.2zM348.8 386.7h1.2v1.2h-1.2zM344.7 384.0h1.2v1.2h-1.2zM354.1 388.3h1.2v1.2h-1.2zM349.4 385.3h1.2v1.2h-1.2zM351.8 387.6h1.2v1.2h-1.2zM348.4 386.8h1.2v1.2h-1.2zM362.7 385.1h1.2v1.2h-1.2zM345.0 383.9h1.2v1.2h-1.2zM343.7 385.7h1.2v1.2h-1.2zM341.4 385.8h1.2v1.2h-1.2zM366.2 386.5h1.2v1.2h-1.2zM349.5 384.2h1.2v1.2h-1.2zM353.6 385.4h1.2v1.2h-1.2zM364.7 384.9h1.2v1.2h-1.2zM344.8 384.4h1.2v1.2h-1.2zM350.9 385.3h1.2v1.2h-1.2zM349.4 386.2h1.2v1.2h-1.2zM344.5 388.2h1.2v1.2h-1.2zM358.4 386.9h1.2v1.2h-1.2zM341.9 385.2h1.2v1.2h-1.2zM345.9 385.6h1.2v1.2h-1.2zM343.7 385.2h1.2v1.2h-1.2zM341.2 386.5h1.2v1.2h-1.2zM362.9 386.8h1.2v1.2h-1.2zM345.4 384.4h1.2v1.2h-1.2zM351.9 386.8h1.2v1.2h-1.2zM339.0 385.2h1.2v1.2h-1.2zM349.6 388.3h1.2v1.2h-1.2zM355.6 387.1h1.2v1.2h-1.2zM347.1 387.3h1.2v1.2h-1.2zM339.8 386.2h1.2v1.2h-1.2zM361.4 386.4h1.2v1.2h-1.2zM362.8 386.7h1.2v1.2h-1.2zM351.3 386.2h1.2v1.2h-1.2zM337.6 385.3h1.2v1.2h-1.2zM369.9 387.8h1.2v1.2h-1.2zM355.5 388.2h1.2v1.2h-1.2zM355.1 388.3h1.2v1.2h-1.2zM347.6 386.5h1.2v1.2h-1.2zM358.9 386.3h1.2v1.2h-1.2zM338.0 386.5h1.2v1.2h-1.2zM345.1 387.7h1.2v1.2h-1.2zM343.5 385.2h1.2v1.2h-1.2zM347.0 389.1h1.2v1.2h-1.2zM349.6 387.0h1.2v1.2h-1.2zM350.1 387.2h1.2v1.2h-1.2zM358.4 388.9h1.2v1.2h-1.2zM335.2 388.8h1.2v1.2h-1.2zM350.0 386.3h1.2v1.2h-1.2zM371.6 386.5h1.2v1.2h-1.2zM367.5 388.3h1.2v1.2h-1.2zM340.7 387.5h1.2v1.2h-1.2zM356.6 386.6h1.2v1.2h-1.2zM329.0 386.3h1.2v1.2h-1.2zM348.3 385.1h1.2v1.2h-1.2zM366.4 386.4h1.2v1.2h-1.2zM346.5 386.4h1.2v1.2h-1.2zM342.9 385.6h1.2v1.2h-1.2zM350.8 387.3h1.2v1.2h-1.2zM345.4 386.7h1.2v1.2h-1.2zM337.5 387.6h1.2v1.2h-1.2zM343.3 387.1h1.2v1.2h-1.2zM341.8 386.0h1.2v1.2h-1.2zM351.9 385.0h1.2v1.2h-1.2zM349.3 385.7h1.2v1.2h-1.2zM364.4 388.9h1.2v1.2h-1.2zM352.7 384.7h1.2v1.2h-1.2zM345.5 387.7h1.2v1.2h-1.2zM345.4 385.0h1.2v1.2h-1.2zM339.3 385.6h1.2v1.2h-1.2zM350.1 385.8h1.2v1.2h-1.2zM366.0 385.2h1.2v1.2h-1.2zM353.1 386.9h1.2v1.2h-1.2zM348.8 388.4h1.2v1.2h-1.2zM347.0 386.3h1.2v1.2h-1.2zM346.6 386.6h1.2v1.2h-1.2zM361.6 388.0h1.2v1.2h-1.2zM337.9 386.1h1.2v1.2h-1.2zM342.8 388.0h1.2v1.2h-1.2zM352.0 388.1h1.2v1.2h-1.2zM349.4 383.9h1.2v1.2h-1.2zM354.1 387.1h1.2v1.2h-1.2zM354.6 384.8h1.2v1.2h-1.2zM350.7 385.8h1.2v1.2h-1.2zM343.8 387.3h1.2v1.2h-1.2zM353.2 385.5h1.2v1.2h-1.2zM344.8 388.5h1.2v1.2h-1.2zM342.2 387.4h1.2v1.2h-1.2zM365.1 388.6h1.2v1.2h-1.2zM353.3 387.1h1.2v1.2h-1.2zM340.5 386.1h1.2v1.2h-1.2zM347.0 385.6h1.2v1.2h-1.2zM350.6 386.2h1.2v1.2h-1.2zM353.0 389.0h1.2v1.2h-1.2zM356.7 387.4h1.2v1.2h-1.2zM347.8 384.5h1.2v1.2h-1.2zM349.0 387.6h1.2v1.2h-1.2zM340.9 388.7h1.2v1.2h-1.2zM347.0 387.4h1.2v1.2h-1.2zM347.0 384.9h1.2v1.2h-1.2zM368.6 385.1h1.2v1.2h-1.2zM358.3 386.0h1.2v1.2h-1.2zM352.5 385.6h1.2v1.2h-1.2zM346.3 388.2h1.2v1.2h-1.2zM367.5 385.5h1.2v1.2h-1.2zM350.1 388.2h1.2v1.2h-1.2zM344.3 387.9h1.2v1.2h-1.2zM342.9 387.7h1.2v1.2h-1.2zM353.9 388.6h1.2v1.2h-1.2zM353.3 385.0h1.2v1.2h-1.2zM356.0 385.1h1.2v1.2h-1.2zM356.8 389.1h1.2v1.2h-1.2zM355.4 386.0h1.2v1.2h-1.2zM360.7 387.1h1.2v1.2h-1.2zM338.8 386.3h1.2v1.2h-1.2zM362.8 386.3h1.2v1.2h-1.2zM351.1 386.3h1.2v1.2h-1.2zM334.8 386.0h1.2v1.2h-1.2zM353.2 387.1h1.2v1.2h-1.2zM361.0 387.9h1.2v1.2h-1.2zM359.2 388.8h1.2v1.2h-1.2zM346.0 385.9h1.2v1.2h-1.2zM352.8 389.3h1.2v1.2h-1.2zM334.8 386.5h1.2v1.2h-1.2zM343.6 387.6h1.2v1.2h-1.2zM363.2 386.4h1.2v1.2h-1.2zM338.8 386.9h1.2v1.2h-1.2zM347.4 384.5h1.2v1.2h-1.2zM358.0 386.0h1.2v1.2h-1.2zM356.1 384.8h1.2v1.2h-1.2zM359.9 384.6h1.2v1.2h-1.2zM359.5 384.1h1.2v1.2h-1.2zM362.4 386.2h1.2v1.2h-1.2zM336.0 386.4h1.2v1.2h-1.2zM353.0 385.3h1.2v1.2h-1.2zM345.6 387.2h1.2v1.2h-1.2zM346.1 387.4h1.2v1.2h-1.2zM352.7 388.3h1.2v1.2h-1.2zM357.2 387.3h1.2v1.2h-1.2zM359.8 388.2h1.2v1.2h-1.2zM350.9 385.9h1.2v1.2h-1.2zM359.2 387.4h1.2v1.2h-1.2zM333.0 385.1h1.2v1.2h-1.2zM354.2 387.0h1.2v1.2h-1.2zM352.5 387.8h1.2v1.2h-1.2zM351.3 389.2h1.2v1.2h-1.2zM344.7 386.2h1.2v1.2h-1.2zM352.9 387.9h1.2v1.2h-1.2zM357.1 389.0h1.2v1.2h-1.2zM345.7 388.6h1.2v1.2h-1.2zM354.2 385.2h1.2v1.2h-1.2zM348.8 389.9h1.2v1.2h-1.2zM357.1 386.1h1.2v1.2h-1.2zM328.4 385.7h1.2v1.2h-1.2zM343.7 386.9h1.2v1.2h-1.2zM370.8 387.9h1.2v1.2h-1.2zM352.8 385.4h1.2v1.2h-1.2zM339.3 386.5h1.2v1.2h-1.2zM346.4 385.9h1.2v1.2h-1.2zM360.2 386.9h1.2v1.2h-1.2zM338.9 388.7h1.2v1.2h-1.2zM347.2 384.8h1.2v1.2h-1.2zM352.9 387.5h1.2v1.2h-1.2zM347.0 387.8h1.2v1.2h-1.2zM357.4 385.5h1.2v1.2h-1.2zM348.8 388.6h1.2v1.2h-1.2zM359.0 388.9h1.2v1.2h-1.2zM366.7 386.8h1.2v1.2h-1.2zM359.5 384.5h1.2v1.2h-1.2zM356.2 387.4h1.2v1.2h-1.2zM349.2 386.1h1.2v1.2h-1.2zM340.0 387.0h1.2v1.2h-1.2zM361.5 386.2h1.2v1.2h-1.2zM354.8 385.8h1.2v1.2h-1.2zM352.3 385.3h1.2v1.2h-1.2zM353.4 386.5h1.2v1.2h-1.2zM352.8 385.9h1.2v1.2h-1.2zM339.4 386.3h1.2v1.2h-1.2zM359.3 389.2h1.2v1.2h-1.2zM347.1 388.0h1.2v1.2h-1.2zM356.8 387.4h1.2v1.2h-1.2zM336.0 387.3h1.2v1.2h-1.2zM341.3 388.6h1.2v1.2h-1.2zM357.1 387.7h1.2v1.2h-1.2zM356.3 384.9h1.2v1.2h-1.2zM358.7 386.9h1.2v1.2h-1.2zM348.4 385.7h1.2v1.2h-1.2zM340.8 386.1h1.2v1.2h-1.2zM351.9 385.8h1.2v1.2h-1.2zM344.4 386.0h1.2v1.2h-1.2zM342.0 388.1h1.2v1.2h-1.2zM347.6 388.1h1.2v1.2h-1.2zM339.6 388.2h1.2v1.2h-1.2zM349.8 387.8h1.2v1.2h-1.2zM349.1 385.5h1.2v1.2h-1.2zM360.9 386.1h1.2v1.2h-1.2zM348.7 385.5h1.2v1.2h-1.2zM351.8 386.2h1.2v1.2h-1.2zM352.5 387.3h1.2v1.2h-1.2zM343.8 384.7h1.2v1.2h-1.2zM353.9 388.2h1.2v1.2h-1.2zM356.3 385.1h1.2v1.2h-1.2zM355.4 387.4h1.2v1.2h-1.2zM352.6 387.4h1.2v1.2h-1.2zM347.1 387.1h1.2v1.2h-1.2zM358.3 386.0h1.2v1.2h-1.2zM337.0 386.6h1.2v1.2h-1.2zM351.8 384.0h1.2v1.2h-1.2zM343.9 387.7h1.2v1.2h-1.2zM348.6 386.9h1.2v1.2h-1.2zM338.7 388.2h1.2v1.2h-1.2zM365.8 386.5h1.2v1.2h-1.2zM343.4 385.1h1.2v1.2h-1.2zM358.0 387.0h1.2v1.2h-1.2zM342.9 388.6h1.2v1.2h-1.2zM356.9 387.7h1.2v1.2h-1.2zM334.2 386.6h1.2v1.2h-1.2zM355.6 385.0h1.2v1.2h-1.2zM358.4 388.9h1.2v1.2h-1.2zM359.3 385.7h1.2v1.2h-1.2zM343.6 388.2h1.2v1.2h-1.2zM358.9 388.6h1.2v1.2h-1.2zM360.8 386.7h1.2v1.2h-1.2zM346.3 384.0h1.2v1.2h-1.2zM345.8 386.1h1.2v1.2h-1.2zM355.8 387.4h1.2v1.2h-1.2zM337.7 385.7h1.2v1.2h-1.2zM340.1 389.8h1.2v1.2h-1.2zM343.5 388.1h1.2v1.2h-1.2zM367.3 389.6h1.2v1.2h-1.2zM362.8 389.2h1.2v1.2h-1.2zM338.9 386.3h1.2v1.2h-1.2zM343.4 386.4h1.2v1.2h-1.2zM355.0 384.9h1.2v1.2h-1.2zM362.0 388.7h1.2v1.2h-1.2zM345.4 389.9h1.2v1.2h-1.2zM350.7 388.8h1.2v1.2h-1.2zM352.8 386.0h1.2v1.2h-1.2zM346.6 386.6h1.2v1.2h-1.2zM355.6 387.0h1.2v1.2h-1.2zM371.2 386.5h1.2v1.2h-1.2zM345.8 385.7h1.2v1.2h-1.2zM343.0 384.6h1.2v1.2h-1.2zM341.1 388.2h1.2v1.2h-1.2zM350.5 386.5h1.2v1.2h-1.2zM353.2 388.4h1.2v1.2h-1.2zM355.5 388.0h1.2v1.2h-1.2zM345.0 386.4h1.2v1.2h-1.2zM343.0 386.7h1.2v1.2h-1.2zM342.6 386.2h1.2v1.2h-1.2zM348.4 386.5h1.2v1.2h-1.2zM347.6 386.1h1.2v1.2h-1.2zM361.8 386.3h1.2v1.2h-1.2zM340.9 387.1h1.2v1.2h-1.2zM340.2 385.2h1.2v1.2h-1.2zM350.8 384.3h1.2v1.2h-1.2zM359.3 384.3h1.2v1.2h-1.2zM341.9 387.7h1.2v1.2h-1.2zM332.1 385.5h1.2v1.2h-1.2zM339.2 386.5h1.2v1.2h-1.2zM332.2 388.1h1.2v1.2h-1.2zM348.7 387.3h1.2v1.2h-1.2zM348.6 384.8h1.2v1.2h-1.2zM350.1 385.5h1.2v1.2h-1.2zM347.1 386.5h1.2v1.2h-1.2zM357.0 388.0h1.2v1.2h-1.2zM341.0 386.8h1.2v1.2h-1.2zM363.1 387.5h1.2v1.2h-1.2zM343.4 386.6h1.2v1.2h-1.2z" fill="#262626"/>
<path d="M343.0 380.2h1.2v1.2h-1.2zM346.3 377.1h1.2v1.2h-1.2zM364.8 367.4h1.2v1.2h-1.2zM337.4 365.5h1.2v1.2h-1.2zM332.5 379.7h1.2v1.2h-1.2zM329.2 370.2h1.2v1.2h-1.2zM358.3 380.7h1.2v1.2h-1.2zM353.5 379.8h1.2v1.2h-1.2zM346.3 374.9h1.2v1.2h-1.2zM346.3 379.6h1.2v1.2h-1.2zM344.6 376.8h1.2v1.2h-1.2zM358.4 368.8h1.2v1.2h-1.2zM339.6 378.1h1.2v1.2h-1.2zM343.8 374.1h1.2v1.2h-1.2zM363.8 377.3h1.2v1.2h-1.2zM342.5 381.0h1.2v1.2h-1.2zM367.4 368.9h1.2v1.2h-1.2zM340.3 375.6h1.2v1.2h-1.2zM350.5 372.8h1.2v1.2h-1.2zM350.2 370.6h1.2v1.2h-1.2zM340.9 375.6h1.2v1.2h-1.2zM366.3 362.6h1.2v1.2h-1.2zM349.6 382.4h1.2v1.2h-1.2zM349.8 375.8h1.2v1.2h-1.2zM344.9 370.3h1.2v1.2h-1.2zM359.9 368.5h1.2v1.2h-1.2zM344.9 372.1h1.2v1.2h-1.2zM339.3 362.8h1.2v1.2h-1.2zM342.8 375.8h1.2v1.2h-1.2zM347.2 379.6h1.2v1.2h-1.2zM344.6 371.5h1.2v1.2h-1.2zM348.6 378.7h1.2v1.2h-1.2zM338.3 366.6h1.2v1.2h-1.2zM337.3 380.8h1.2v1.2h-1.2zM354.5 370.1h1.2v1.2h-1.2zM346.9 379.6h1.2v1.2h-1.2zM357.3 371.4h1.2v1.2h-1.2zM344.0 382.7h1.2v1.2h-1.2zM336.3 377.5h1.2v1.2h-1.2zM343.5 374.7h1.2v1.2h-1.2zM340.4 372.4h1.2v1.2h-1.2zM351.9 377.3h1.2v1.2h-1.2zM346.2 370.9h1.2v1.2h-1.2zM344.1 381.8h1.2v1.2h-1.2zM348.2 374.9h1.2v1.2h-1.2zM332.2 377.2h1.2v1.2h-1.2zM331.3 383.4h1.2v1.2h-1.2zM340.6 375.0h1.2v1.2h-1.2zM334.5 372.3h1.2v1.2h-1.2zM338.1 381.2h1.2v1.2h-1.2zM348.1 368.5h1.2v1.2h-1.2zM329.6 374.6h1.2v1.2h-1.2zM341.9 368.9h1.2v1.2h-1.2zM351.0 374.0h1.2v1.2h-1.2zM346.9 371.8h1.2v1.2h-1.2zM341.2 372.5h1.2v1.2h-1.2zM332.4 378.5h1.2v1.2h-1.2zM349.4 365.5h1.2v1.2h-1.2zM346.9 381.3h1.2v1.2h-1.2zM348.0 382.1h1.2v1.2h-1.2zM343.7 375.0h1.2v1.2h-1.2zM335.0 370.0h1.2v1.2h-1.2zM330.5 370.1h1.2v1.2h-1.2zM348.1 377.9h1.2v1.2h-1.2zM355.9 375.7h1.2v1.2h-1.2zM337.6 377.4h1.2v1.2h-1.2zM362.6 380.3h1.2v1.2h-1.2zM336.3 372.1h1.2v1.2h-1.2zM347.6 371.1h1.2v1.2h-1.2zM350.5 378.8h1.2v1.2h-1.2zM353.1 376.3h1.2v1.2h-1.2zM338.5 370.4h1.2v1.2h-1.2zM345.0 382.3h1.2v1.2h-1.2zM359.4 380.4h1.2v1.2h-1.2zM349.1 378.7h1.2v1.2h-1.2zM353.0 382.1h1.2v1.2h-1.2zM353.3 366.6h1.2v1.2h-1.2zM354.1 377.1h1.2v1.2h-1.2zM342.1 377.9h1.2v1.2h-1.2zM348.5 374.7h1.2v1.2h-1.2zM331.6 375.6h1.2v1.2h-1.2zM350.7 374.7h1.2v1.2h-1.2zM332.5 377.5h1.2v1.2h-1.2zM352.1 376.0h1.2v1.2h-1.2zM349.6 373.1h1.2v1.2h-1.2zM340.4 377.9h1.2v1.2h-1.2zM343.0 376.0h1.2v1.2h-1.2zM373.7 378.9h1.2v1.2h-1.2zM347.2 366.1h1.2v1.2h-1.2zM346.8 379.2h1.2v1.2h-1.2zM340.0 373.7h1.2v1.2h-1.2zM326.8 378.1h1.2v1.2h-1.2zM340.9 378.8h1.2v1.2h-1.2zM357.6 374.1h1.2v1.2h-1.2zM354.4 376.4h1.2v1.2h-1.2zM344.3 373.5h1.2v1.2h-1.2zM338.8 382.1h1.2v1.2h-1.2zM353.5 369.5h1.2v1.2h-1.2zM353.2 371.0h1.2v1.2h-1.2zM333.2 381.6h1.2v1.2h-1.2zM335.1 381.5h1.2v1.2h-1.2zM347.7 380.0h1.2v1.2h-1.2zM350.3 381.4h1.2v1.2h-1.2zM349.0 378.2h1.2v1.2h-1.2zM348.1 381.0h1.2v1.2h-1.2zM342.7 380.6h1.2v1.2h-1.2zM358.8 374.7h1.2v1.2h-1.2zM349.7 372.2h1.2v1.2h-1.2zM343.5 376.4h1.2v1.2h-1.2zM343.1 370.1h1.2v1.2h-1.2zM345.7 376.1h1.2v1.2h-1.2zM348.7 378.9h1.2v1.2h-1.2zM330.9 382.8h1.2v1.2h-1.2zM344.5 370.8h1.2v1.2h-1.2zM342.8 377.4h1.2v1.2h-1.2zM353.4 373.0h1.2v1.2h-1.2zM347.3 366.2h1.2v1.2h-1.2zM347.4 374.4h1.2v1.2h-1.2zM342.3 379.9h1.2v1.2h-1.2zM361.2 380.7h1.2v1.2h-1.2zM343.2 374.8h1.2v1.2h-1.2zM341.1 377.5h1.2v1.2h-1.2zM350.7 375.8h1.2v1.2h-1.2zM344.2 374.2h1.2v1.2h-1.2zM342.6 380.3h1.2v1.2h-1.2zM341.6 374.2h1.2v1.2h-1.2zM344.2 370.9h1.2v1.2h-1.2zM344.1 366.9h1.2v1.2h-1.2zM349.5 378.0h1.2v1.2h-1.2zM339.0 378.0h1.2v1.2h-1.2zM350.1 372.1h1.2v1.2h-1.2zM344.0 379.9h1.2v1.2h-1.2zM346.5 376.5h1.2v1.2h-1.2zM357.9 376.2h1.2v1.2h-1.2zM331.8 371.0h1.2v1.2h-1.2zM353.1 374.3h1.2v1.2h-1.2zM336.9 364.2h1.2v1.2h-1.2zM348.7 383.2h1.2v1.2h-1.2zM335.4 363.1h1.2v1.2h-1.2zM350.2 372.0h1.2v1.2h-1.2zM343.5 373.2h1.2v1.2h-1.2zM338.4 377.4h1.2v1.2h-1.2zM353.8 377.0h1.2v1.2h-1.2zM341.3 380.7h1.2v1.2h-1.2zM345.1 378.2h1.2v1.2h-1.2zM338.1 378.6h1.2v1.2h-1.2zM352.3 382.0h1.2v1.2h-1.2zM346.2 377.4h1.2v1.2h-1.2zM341.1 379.8h1.2v1.2h-1.2zM352.6 380.9h1.2v1.2h-1.2zM342.8 368.3h1.2v1.2h-1.2zM345.4 373.9h1.2v1.2h-1.2zM339.7 378.3h1.2v1.2h-1.2zM354.0 377.2h1.2v1.2h-1.2zM355.4 377.2h1.2v1.2h-1.2zM337.8 371.8h1.2v1.2h-1.2zM343.0 378.7h1.2v1.2h-1.2zM353.8 375.7h1.2v1.2h-1.2zM354.5 370.5h1.2v1.2h-1.2zM345.1 383.1h1.2v1.2h-1.2zM349.7 380.7h1.2v1.2h-1.2zM330.2 365.9h1.2v1.2h-1.2zM338.8 380.5h1.2v1.2h-1.2zM359.7 371.7h1.2v1.2h-1.2zM337.8 369.5h1.2v1.2h-1.2zM338.5 378.0h1.2v1.2h-1.2zM352.1 371.3h1.2v1.2h-1.2zM348.0 374.2h1.2v1.2h-1.2zM352.6 379.9h1.2v1.2h-1.2zM343.1 379.9h1.2v1.2h-1.2zM350.8 374.5h1.2v1.2h-1.2zM348.2 378.7h1.2v1.2h-1.2zM343.4 371.4h1.2v1.2h-1.2zM356.6 375.0h1.2v1.2h-1.2zM341.1 377.5h1.2v1.2h-1.2zM333.7 375.3h1.2v1.2h-1.2zM334.6 372.7h1.2v1.2h-1.2zM331.1 371.1h1.2v1.2h-1.2zM353.5 374.0h1.2v1.2h-1.2zM340.8 383.0h1.2v1.2h-1.2zM341.6 367.1h1.2v1.2h-1.2zM361.4 372.7h1.2v1.2h-1.2zM352.4 381.5h1.2v1.2h-1.2zM335.1 375.4h1.2v1.2h-1.2zM341.2 378.3h1.2v1.2h-1.2zM345.9 368.2h1.2v1.2h-1.2zM346.5 379.2h1.2v1.2h-1.2zM343.6 378.1h1.2v1.2h-1.2zM341.6 374.8h1.2v1.2h-1.2zM349.0 375.8h1.2v1.2h-1.2zM356.6 380.1h1.2v1.2h-1.2zM353.1 378.9h1.2v1.2h-1.2zM347.3 368.8h1.2v1.2h-1.2zM347.9 373.7h1.2v1.2h-1.2zM345.8 381.5h1.2v1.2h-1.2zM348.4 369.7h1.2v1.2h-1.2zM344.6 370.9h1.2v1.2h-1.2zM344.4 370.2h1.2v1.2h-1.2zM338.8 383.0h1.2v1.2h-1.2zM354.8 366.4h1.2v1.2h-1.2zM337.9 372.6h1.2v1.2h-1.2zM342.8 367.6h1.2v1.2h-1.2zM353.4 366.4h1.2v1.2h-1.2zM351.8 378.8h1.2v1.2h-1.2zM343.0 371.5h1.2v1.2h-1.2zM346.6 375.8h1.2v1.2h-1.2zM328.6 368.3h1.2v1.2h-1.2zM350.5 374.5h1.2v1.2h-1.2zM342.6 369.7h1.2v1.2h-1.2zM340.2 370.9h1.2v1.2h-1.2zM369.3 368.3h1.2v1.2h-1.2zM358.8 377.6h1.2v1.2h-1.2zM347.8 376.1h1.2v1.2h-1.2zM350.3 374.9h1.2v1.2h-1.2zM345.1 376.1h1.2v1.2h-1.2zM336.6 373.3h1.2v1.2h-1.2zM340.9 378.4h1.2v1.2h-1.2zM351.1 365.0h1.2v1.2h-1.2zM344.2 380.4h1.2v1.2h-1.2zM335.3 368.7h1.2v1.2h-1.2zM354.4 374.3h1.2v1.2h-1.2zM342.3 368.5h1.2v1.2h-1.2zM347.5 372.1h1.2v1.2h-1.2zM347.8 377.3h1.2v1.2h-1.2zM351.9 373.3h1.2v1.2h-1.2zM341.7 375.2h1.2v1.2h-1.2zM345.3 376.0h1.2v1.2h-1.2zM341.7 373.8h1.2v1.2h-1.2zM341.2 371.9h1.2v1.2h-1.2zM347.4 381.2h1.2v1.2h-1.2zM341.6 378.2h1.2v1.2h-1.2zM348.9 375.6h1.2v1.2h-1.2zM351.7 372.0h1.2v1.2h-1.2zM350.8 376.7h1.2v1.2h-1.2zM337.2 375.6h1.2v1.2h-1.2zM349.0 369.8h1.2v1.2h-1.2zM356.1 377.5h1.2v1.2h-1.2zM339.4 368.6h1.2v1.2h-1.2zM364.0 361.7h1.2v1.2h-1.2zM330.9 378.6h1.2v1.2h-1.2zM345.2 371.6h1.2v1.2h-1.2zM351.1 375.6h1.2v1.2h-1.2zM348.5 376.5h1.2v1.2h-1.2zM337.0 382.1h1.2v1.2h-1.2zM342.2 381.1h1.2v1.2h-1.2zM351.8 375.2h1.2v1.2h-1.2zM347.2 374.8h1.2v1.2h-1.2zM330.7 373.3h1.2v1.2h-1.2zM349.6 366.3h1.2v1.2h-1.2zM333.6 380.9h1.2v1.2h-1.2zM352.8 366.7h1.2v1.2h-1.2zM349.9 374.8h1.2v1.2h-1.2zM354.2 373.3h1.2v1.2h-1.2zM344.2 371.0h1.2v1.2h-1.2zM347.6 374.4h1.2v1.2h-1.2zM340.6 373.2h1.2v1.2h-1.2zM339.8 378.4h1.2v1.2h-1.2zM337.4 366.6h1.2v1.2h-1.2zM338.0 380.9h1.2v1.2h-1.2zM341.8 378.5h1.2v1.2h-1.2zM352.2 372.3h1.2v1.2h-1.2zM352.4 377.8h1.2v1.2h-1.2zM345.7 371.2h1.2v1.2h-1.2zM345.5 368.1h1.2v1.2h-1.2zM343.7 371.9h1.2v1.2h-1.2zM349.7 376.9h1.2v1.2h-1.2zM340.7 379.7h1.2v1.2h-1.2zM356.0 375.4h1.2v1.2h-1.2zM339.9 377.8h1.2v1.2h-1.2zM339.9 383.3h1.2v1.2h-1.2zM347.7 380.5h1.2v1.2h-1.2zM344.5 371.7h1.2v1.2h-1.2zM344.1 383.2h1.2v1.2h-1.2zM353.1 373.4h1.2v1.2h-1.2zM349.2 379.7h1.2v1.2h-1.2zM350.8 374.8h1.2v1.2h-1.2zM340.5 371.0h1.2v1.2h-1.2zM342.4 372.0h1.2v1.2h-1.2zM332.8 367.3h1.2v1.2h-1.2zM353.4 368.9h1.2v1.2h-1.2zM335.0 374.8h1.2v1.2h-1.2zM358.2 381.9h1.2v1.2h-1.2zM342.6 369.4h1.2v1.2h-1.2zM341.5 370.1h1.2v1.2h-1.2zM341.4 377.6h1.2v1.2h-1.2zM337.1 370.8h1.2v1.2h-1.2zM343.8 374.9h1.2v1.2h-1.2zM339.6 370.7h1.2v1.2h-1.2zM336.5 370.9h1.2v1.2h-1.2zM350.4 373.7h1.2v1.2h-1.2zM345.4 370.2h1.2v1.2h-1.2zM343.9 358.5h1.2v1.2h-1.2zM332.0 381.4h1.2v1.2h-1.2zM339.8 375.2h1.2v1.2h-1.2zM352.6 368.3h1.2v1.2h-1.2zM360.8 371.1h1.2v1.2h-1.2zM349.0 368.7h1.2v1.2h-1.2zM349.1 374.9h1.2v1.2h-1.2zM355.2 368.7h1.2v1.2h-1.2zM335.9 376.9h1.2v1.2h-1.2zM349.7 372.3h1.2v1.2h-1.2zM343.7 382.8h1.2v1.2h-1.2zM355.7 378.1h1.2v1.2h-1.2zM348.3 368.8h1.2v1.2h-1.2zM354.9 367.5h1.2v1.2h-1.2zM328.4 371.4h1.2v1.2h-1.2zM347.4 372.0h1.2v1.2h-1.2zM343.4 376.9h1.2v1.2h-1.2zM353.6 376.2h1.2v1.2h-1.2zM356.6 367.2h1.2v1.2h-1.2zM350.0 377.3h1.2v1.2h-1.2zM333.4 381.9h1.2v1.2h-1.2zM332.4 367.0h1.2v1.2h-1.2zM368.7 382.1h1.2v1.2h-1.2zM349.2 382.5h1.2v1.2h-1.2zM355.8 368.8h1.2v1.2h-1.2zM350.1 382.7h1.2v1.2h-1.2zM344.6 375.4h1.2v1.2h-1.2zM342.1 379.0h1.2v1.2h-1.2zM341.3 371.8h1.2v1.2h-1.2zM335.6 369.9h1.2v1.2h-1.2zM347.9 377.6h1.2v1.2h-1.2zM342.7 369.2h1.2v1.2h-1.2zM348.9 377.0h1.2v1.2h-1.2zM356.9 372.3h1.2v1.2h-1.2zM342.5 377.8h1.2v1.2h-1.2zM359.0 374.7h1.2v1.2h-1.2zM345.3 369.8h1.2v1.2h-1.2zM342.8 380.2h1.2v1.2h-1.2zM353.3 381.2h1.2v1.2h-1.2zM332.0 379.6h1.2v1.2h-1.2zM338.1 378.3h1.2v1.2h-1.2zM338.5 382.1h1.2v1.2h-1.2zM347.0 382.2h1.2v1.2h-1.2zM341.8 369.6h1.2v1.2h-1.2zM353.7 372.8h1.2v1.2h-1.2zM345.5 367.5h1.2v1.2h-1.2zM343.1 375.6h1.2v1.2h-1.2zM340.0 377.2h1.2v1.2h-1.2zM342.5 383.2h1.2v1.2h-1.2zM343.0 371.4h1.2v1.2h-1.2zM342.2 376.5h1.2v1.2h-1.2zM351.1 372.4h1.2v1.2h-1.2zM339.2 377.4h1.2v1.2h-1.2zM353.1 365.3h1.2v1.2h-1.2zM337.0 371.3h1.2v1.2h-1.2zM360.7 381.9h1.2v1.2h-1.2zM352.9 377.8h1.2v1.2h-1.2zM336.4 381.3h1.2v1.2h-1.2zM342.2 370.6h1.2v1.2h-1.2zM362.7 367.0h1.2v1.2h-1.2zM357.9 376.1h1.2v1.2h-1.2zM338.1 376.0h1.2v1.2h-1.2zM338.8 376.1h1.2v1.2h-1.2zM340.5 368.4h1.2v1.2h-1.2zM368.9 372.2h1.2v1.2h-1.2zM354.5 374.7h1.2v1.2h-1.2zM351.8 368.0h1.2v1.2h-1.2zM337.1 356.8h1.2v1.2h-1.2zM354.7 377.5h1.2v1.2h-1.2zM335.9 379.7h1.2v1.2h-1.2zM348.1 380.1h1.2v1.2h-1.2zM351.3 379.3h1.2v1.2h-1.2zM345.8 372.7h1.2v1.2h-1.2zM352.1 381.9h1.2v1.2h-1.2zM336.0 368.7h1.2v1.2h-1.2zM344.2 365.6h1.2v1.2h-1.2zM353.0 379.2h1.2v1.2h-1.2zM362.8 376.1h1.2v1.2h-1.2zM363.0 371.0h1.2v1.2h-1.2zM353.8 375.8h1.2v1.2h-1.2zM335.8 373.5h1.2v1.2h-1.2zM357.5 381.2h1.2v1.2h-1.2zM342.8 381.2h1.2v1.2h-1.2zM353.8 380.0h1.2v1.2h-1.2zM348.5 376.7h1.2v1.2h-1.2zM338.9 374.6h1.2v1.2h-1.2zM347.1 370.9h1.2v1.2h-1.2zM343.6 375.9h1.2v1.2h-1.2zM347.9 380.9h1.2v1.2h-1.2zM337.2 372.8h1.2v1.2h-1.2zM348.4 372.9h1.2v1.2h-1.2zM348.9 372.4h1.2v1.2h-1.2zM356.2 373.8h1.2v1.2h-1.2zM336.3 379.2h1.2v1.2h-1.2zM360.4 364.3h1.2v1.2h-1.2zM344.9 375.4h1.2v1.2h-1.2zM354.9 383.4h1.2v1.2h-1.2zM344.7 366.4h1.2v1.2h-1.2zM351.8 380.6h1.2v1.2h-1.2zM350.0 375.5h1.2v1.2h-1.2zM335.7 366.7h1.2v1.2h-1.2zM354.5 376.6h1.2v1.2h-1.2zM351.8 377.0h1.2v1.2h-1.2zM360.5 383.0h1.2v1.2h-1.2zM341.3 380.6h1.2v1.2h-1.2zM335.9 365.5h1.2v1.2h-1.2zM356.4 372.6h1.2v1.2h-1.2zM327.6 374.9h1.2v1.2h-1.2zM340.4 377.9h1.2v1.2h-1.2zM345.6 370.8h1.2v1.2h-1.2zM339.9 379.3h1.2v1.2h-1.2zM338.1 375.8h1.2v1.2h-1.2zM337.6 377.5h1.2v1.2h-1.2zM361.4 378.2h1.2v1.2h-1.2zM355.6 377.5h1.2v1.2h-1.2zM337.8 373.4h1.2v1.2h-1.2zM346.7 377.5h1.2v1.2h-1.2zM340.9 378.4h1.2v1.2h-1.2zM339.9 375.4h1.2v1.2h-1.2zM346.0 368.6h1.2v1.2h-1.2zM354.7 375.3h1.2v1.2h-1.2zM347.0 374.9h1.2v1.2h-1.2zM328.0 367.3h1.2v1.2h-1.2zM338.4 380.6h1.2v1.2h-1.2zM341.1 378.4h1.2v1.2h-1.2zM337.2 370.4h1.2v1.2h-1.2zM342.0 380.9h1.2v1.2h-1.2zM331.8 374.1h1.2v1.2h-1.2zM349.5 375.8h1.2v1.2h-1.2zM345.9 379.4h1.2v1.2h-1.2zM348.5 369.4h1.2v1.2h-1.2zM351.5 370.7h1.2v1.2h-1.2zM343.1 383.1h1.2v1.2h-1.2zM367.0 383.1h1.2v1.2h-1.2zM349.7 370.7h1.2v1.2h-1.2zM348.9 367.3h1.2v1.2h-1.2zM359.5 378.3h1.2v1.2h-1.2zM357.4 377.3h1.2v1.2h-1.2zM327.6 371.0h1.2v1.2h-1.2zM344.8 374.1h1.2v1.2h-1.2zM359.0 371.3h1.2v1.2h-1.2zM345.2 374.7h1.2v1.2h-1.2zM345.3 369.3h1.2v1.2h-1.2zM335.6 360.7h1.2v1.2h-1.2zM348.9 373.9h1.2v1.2h-1.2zM347.8 369.2h1.2v1.2h-1.2zM346.1 369.6h1.2v1.2h-1.2zM337.4 376.9h1.2v1.2h-1.2zM351.5 378.3h1.2v1.2h-1.2zM345.7 372.9h1.2v1.2h-1.2zM358.0 381.9h1.2v1.2h-1.2zM340.6 369.0h1.2v1.2h-1.2zM349.2 376.8h1.2v1.2h-1.2zM328.1 370.4h1.2v1.2h-1.2zM348.1 380.5h1.2v1.2h-1.2zM330.2 372.6h1.2v1.2h-1.2zM358.4 382.8h1.2v1.2h-1.2zM343.9 375.2h1.2v1.2h-1.2zM338.5 377.2h1.2v1.2h-1.2zM337.1 363.8h1.2v1.2h-1.2zM333.0 375.3h1.2v1.2h-1.2zM334.7 381.2h1.2v1.2h-1.2zM357.0 380.6h1.2v1.2h-1.2zM351.7 381.3h1.2v1.2h-1.2zM348.3 379.8h1.2v1.2h-1.2zM350.1 379.4h1.2v1.2h-1.2zM337.4 371.4h1.2v1.2h-1.2zM337.5 379.6h1.2v1.2h-1.2zM350.4 370.7h1.2v1.2h-1.2zM337.6 371.8h1.2v1.2h-1.2zM353.5 374.4h1.2v1.2h-1.2zM344.0 371.2h1.2v1.2h-1.2zM340.2 373.1h1.2v1.2h-1.2zM360.6 379.0h1.2v1.2h-1.2zM336.3 381.1h1.2v1.2h-1.2zM335.3 378.1h1.2v1.2h-1.2zM353.9 371.7h1.2v1.2h-1.2zM339.9 375.3h1.2v1.2h-1.2zM346.1 372.4h1.2v1.2h-1.2zM358.8 376.9h1.2v1.2h-1.2zM336.2 372.1h1.2v1.2h-1.2zM343.6 377.7h1.2v1.2h-1.2zM359.8 372.2h1.2v1.2h-1.2zM347.3 372.7h1.2v1.2h-1.2zM347.3 371.2h1.2v1.2h-1.2zM349.3 381.5h1.2v1.2h-1.2zM342.7 373.2h1.2v1.2h-1.2zM347.0 367.8h1.2v1.2h-1.2zM361.6 367.6h1.2v1.2h-1.2zM343.0 370.1h1.2v1.2h-1.2zM358.9 372.3h1.2v1.2h-1.2zM345.0 370.7h1.2v1.2h-1.2zM346.0 376.1h1.2v1.2h-1.2zM339.7 374.0h1.2v1.2h-1.2zM344.3 379.0h1.2v1.2h-1.2zM352.6 379.7h1.2v1.2h-1.2zM345.0 379.5h1.2v1.2h-1.2zM344.3 381.5h1.2v1.2h-1.2zM349.5 372.7h1.2v1.2h-1.2zM356.6 366.7h1.2v1.2h-1.2zM337.8 370.6h1.2v1.2h-1.2zM344.9 368.2h1.2v1.2h-1.2zM335.8 364.6h1.2v1.2h-1.2zM347.0 370.8h1.2v1.2h-1.2zM364.8 379.3h1.2v1.2h-1.2zM336.3 382.4h1.2v1.2h-1.2zM347.0 381.0h1.2v1.2h-1.2zM336.6 381.5h1.2v1.2h-1.2zM355.5 372.7h1.2v1.2h-1.2zM338.8 372.9h1.2v1.2h-1.2zM361.5 383.3h1.2v1.2h-1.2zM344.2 373.2h1.2v1.2h-1.2zM349.2 373.5h1.2v1.2h-1.2zM342.1 373.9h1.2v1.2h-1.2zM353.3 374.7h1.2v1.2h-1.2zM348.1 373.6h1.2v1.2h-1.2zM344.4 373.2h1.2v1.2h-1.2zM356.9 376.3h1.2v1.2h-1.2zM358.8 374.1h1.2v1.2h-1.2zM355.2 367.4h1.2v1.2h-1.2zM342.6 374.7h1.2v1.2h-1.2zM340.6 374.4h1.2v1.2h-1.2zM338.2 374.1h1.2v1.2h-1.2zM340.4 375.0h1.2v1.2h-1.2zM343.5 369.5h1.2v1.2h-1.2zM342.6 375.2h1.2v1.2h-1.2zM335.2 375.6h1.2v1.2h-1.2zM356.8 373.8h1.2v1.2h-1.2zM350.8 378.5h1.2v1.2h-1.2zM339.2 382.4h1.2v1.2h-1.2zM367.5 369.4h1.2v1.2h-1.2zM364.4 371.1h1.2v1.2h-1.2zM358.5 365.0h1.2v1.2h-1.2zM355.8 375.8h1.2v1.2h-1.2zM335.1 370.5h1.2v1.2h-1.2zM337.1 370.1h1.2v1.2h-1.2zM349.3 374.0h1.2v1.2h-1.2zM350.1 375.5h1.2v1.2h-1.2zM360.5 364.9h1.2v1.2h-1.2zM348.1 375.2h1.2v1.2h-1.2zM352.2 367.6h1.2v1.2h-1.2zM334.9 374.1h1.2v1.2h-1.2zM346.7 365.0h1.2v1.2h-1.2zM349.2 375.0h1.2v1.2h-1.2zM352.3 360.6h1.2v1.2h-1.2zM350.4 370.1h1.2v1.2h-1.2zM342.0 379.4h1.2v1.2h-1.2zM360.5 375.9h1.2v1.2h-1.2zM345.1 382.3h1.2v1.2h-1.2zM338.4 374.2h1.2v1.2h-1.2zM341.7 369.6h1.2v1.2h-1.2zM348.2 377.8h1.2v1.2h-1.2zM345.8 381.3h1.2v1.2h-1.2zM347.6 370.2h1.2v1.2h-1.2zM346.9 383.0h1.2v1.2h-1.2zM345.3 381.7h1.2v1.2h-1.2zM348.5 378.7h1.2v1.2h-1.2zM343.6 379.7h1.2v1.2h-1.2zM344.1 366.9h1.2v1.2h-1.2zM348.7 368.4h1.2v1.2h-1.2zM358.7 379.4h1.2v1.2h-1.2zM346.2 378.9h1.2v1.2h-1.2zM340.5 378.7h1.2v1.2h-1.2zM368.0 366.1h1.2v1.2h-1.2zM342.5 376.9h1.2v1.2h-1.2zM349.7 365.7h1.2v1.2h-1.2zM338.1 383.3h1.2v1.2h-1.2zM340.9 378.1h1.2v1.2h-1.2zM334.4 370.0h1.2v1.2h-1.2zM330.5 376.5h1.2v1.2h-1.2zM356.0 375.6h1.2v1.2h-1.2zM343.7 376.4h1.2v1.2h-1.2zM350.1 373.4h1.2v1.2h-1.2zM365.1 371.9h1.2v1.2h-1.2zM354.5 381.8h1.2v1.2h-1.2zM351.2 373.8h1.2v1.2h-1.2zM354.4 381.2h1.2v1.2h-1.2zM356.1 369.0h1.2v1.2h-1.2zM354.9 373.1h1.2v1.2h-1.2zM343.0 377.0h1.2v1.2h-1.2zM350.9 376.5h1.2v1.2h-1.2zM344.4 376.4h1.2v1.2h-1.2zM344.1 378.3h1.2v1.2h-1.2zM353.5 379.7h1.2v1.2h-1.2zM335.3 373.2h1.2v1.2h-1.2zM346.8 368.3h1.2v1.2h-1.2zM349.3 374.3h1.2v1.2h-1.2zM346.6 377.2h1.2v1.2h-1.2zM354.9 372.0h1.2v1.2h-1.2zM350.1 379.2h1.2v1.2h-1.2zM339.5 373.1h1.2v1.2h-1.2zM352.1 360.8h1.2v1.2h-1.2zM334.8 376.9h1.2v1.2h-1.2zM351.4 369.9h1.2v1.2h-1.2zM347.9 374.8h1.2v1.2h-1.2zM346.7 369.5h1.2v1.2h-1.2zM350.8 376.1h1.2v1.2h-1.2zM352.5 383.0h1.2v1.2h-1.2zM346.4 376.1h1.2v1.2h-1.2zM333.6 375.0h1.2v1.2h-1.2zM340.7 375.8h1.2v1.2h-1.2zM353.2 375.4h1.2v1.2h-1.2zM352.4 376.1h1.2v1.2h-1.2zM340.0 371.4h1.2v1.2h-1.2zM334.3 376.3h1.2v1.2h-1.2zM342.7 379.7h1.2v1.2h-1.2zM354.4 370.2h1.2v1.2h-1.2zM336.8 378.4h1.2v1.2h-1.2zM338.6 376.2h1.2v1.2h-1.2zM351.3 372.9h1.2v1.2h-1.2zM361.3 370.8h1.2v1.2h-1.2z" fill="#0808f0"/>
<path d="M355.3 359.6h1.2v1.2h-1.2zM348.2 365.6h1.2v1.2h-1.2zM348.5 357.7h1.2v1.2h-1.2zM343.9 360.2h1.2v1.2h-1.2zM359.3 360.4h1.2v1.2h-1.2zM365.0 367.2h1.2v1.2h-1.2zM341.2 368.3h1.2v1.2h-1.2zM338.3 361.5h1.2v1.2h-1.2zM364.1 362.1h1.2v1.2h-1.2zM348.1 369.8h1.2v1.2h-1.2zM341.0 357.1h1.2v1.2h-1.2zM361.9 365.8h1.2v1.2h-1.2zM332.9 363.0h1.2v1.2h-1.2zM359.6 361.1h1.2v1.2h-1.2zM345.3 362.9h1.2v1.2h-1.2zM352.7 357.8h1.2v1.2h-1.2zM349.2 375.0h1.2v1.2h-1.2zM337.4 361.8h1.2v1.2h-1.2zM336.3 362.4h1.2v1.2h-1.2zM344.2 373.1h1.2v1.2h-1.2zM339.0 361.9h1.2v1.2h-1.2zM352.8 365.9h1.2v1.2h-1.2zM360.9 352.7h1.2v1.2h-1.2zM352.4 358.5h1.2v1.2h-1.2zM354.0 357.3h1.2v1.2h-1.2zM351.0 375.5h1.2v1.2h-1.2zM364.2 363.0h1.2v1.2h-1.2zM338.3 370.9h1.2v1.2h-1.2zM329.7 353.6h1.2v1.2h-1.2zM365.7 358.5h1.2v1.2h-1.2zM366.4 365.5h1.2v1.2h-1.2zM357.1 358.3h1.2v1.2h-1.2zM357.2 370.5h1.2v1.2h-1.2zM345.6 359.8h1.2v1.2h-1.2zM349.4 359.9h1.2v1.2h-1.2zM363.8 354.4h1.2v1.2h-1.2zM341.0 356.6h1.2v1.2h-1.2zM341.6 365.7h1.2v1.2h-1.2zM357.0 362.5h1.2v1.2h-1.2zM352.4 357.9h1.2v1.2h-1.2zM338.2 353.5h1.2v1.2h-1.2zM345.1 355.2h1.2v1.2h-1.2zM346.1 366.4h1.2v1.2h-1.2zM356.7 370.0h1.2v1.2h-1.2zM336.7 374.0h1.2v1.2h-1.2zM358.4 359.4h1.2v1.2h-1.2zM365.9 359.5h1.2v1.2h-1.2zM370.1 359.6h1.2v1.2h-1.2z" fill="#0808f0"/>
<polygon points="328.5,407.5 329,400 331.5,397 334.5,394 338,391.6 350,391 376.5,390.9 377,393.5 370,396.2 362,399.2 350,402.6 340,405.6 332,407.6" fill="#86fa00"/>
<path d="M347.1 399.5h1.2v1.2h-1.2zM338.3 396.4h1.2v1.2h-1.2zM375.3 398.5h1.2v1.2h-1.2zM338.8 396.1h1.2v1.2h-1.2zM351.7 394.3h1.2v1.2h-1.2zM357.0 401.4h1.2v1.2h-1.2zM352.6 400.1h1.2v1.2h-1.2zM355.6 397.5h1.2v1.2h-1.2zM343.0 400.4h1.2v1.2h-1.2zM368.3 395.4h1.2v1.2h-1.2zM341.5 398.8h1.2v1.2h-1.2zM353.2 401.0h1.2v1.2h-1.2zM357.9 396.5h1.2v1.2h-1.2zM335.3 399.2h1.2v1.2h-1.2zM353.2 392.6h1.2v1.2h-1.2zM334.1 390.6h1.2v1.2h-1.2zM359.5 395.5h1.2v1.2h-1.2zM344.3 396.6h1.2v1.2h-1.2zM352.4 395.8h1.2v1.2h-1.2zM360.9 400.6h1.2v1.2h-1.2zM349.3 402.5h1.2v1.2h-1.2zM350.5 394.0h1.2v1.2h-1.2zM353.8 392.0h1.2v1.2h-1.2zM348.4 393.3h1.2v1.2h-1.2zM346.8 397.7h1.2v1.2h-1.2zM355.1 396.2h1.2v1.2h-1.2zM360.6 398.2h1.2v1.2h-1.2zM347.6 393.5h1.2v1.2h-1.2zM360.8 399.7h1.2v1.2h-1.2zM334.2 394.4h1.2v1.2h-1.2zM337.7 399.9h1.2v1.2h-1.2zM345.1 392.6h1.2v1.2h-1.2zM370.1 398.6h1.2v1.2h-1.2zM354.8 397.8h1.2v1.2h-1.2zM349.8 397.1h1.2v1.2h-1.2zM362.7 398.5h1.2v1.2h-1.2zM346.4 397.3h1.2v1.2h-1.2zM374.5 395.0h1.2v1.2h-1.2zM336.1 397.4h1.2v1.2h-1.2zM338.2 406.2h1.2v1.2h-1.2zM359.5 399.0h1.2v1.2h-1.2zM356.4 403.9h1.2v1.2h-1.2zM339.7 396.8h1.2v1.2h-1.2zM331.8 401.3h1.2v1.2h-1.2zM351.0 403.2h1.2v1.2h-1.2zM348.6 393.3h1.2v1.2h-1.2zM343.4 399.8h1.2v1.2h-1.2zM342.0 397.9h1.2v1.2h-1.2zM343.2 394.5h1.2v1.2h-1.2zM345.2 402.7h1.2v1.2h-1.2zM338.9 398.1h1.2v1.2h-1.2zM361.6 394.4h1.2v1.2h-1.2zM333.8 402.3h1.2v1.2h-1.2zM372.8 396.1h1.2v1.2h-1.2zM337.4 400.0h1.2v1.2h-1.2zM351.4 394.1h1.2v1.2h-1.2zM342.0 392.7h1.2v1.2h-1.2zM336.0 399.0h1.2v1.2h-1.2zM355.1 402.9h1.2v1.2h-1.2zM341.7 401.6h1.2v1.2h-1.2zM364.4 397.4h1.2v1.2h-1.2zM353.0 394.3h1.2v1.2h-1.2zM345.6 395.4h1.2v1.2h-1.2zM360.7 404.3h1.2v1.2h-1.2zM366.8 398.7h1.2v1.2h-1.2zM361.9 391.0h1.2v1.2h-1.2zM339.6 400.0h1.2v1.2h-1.2zM347.2 391.2h1.2v1.2h-1.2zM351.7 392.4h1.2v1.2h-1.2zM351.8 402.5h1.2v1.2h-1.2zM338.1 395.4h1.2v1.2h-1.2zM358.5 396.8h1.2v1.2h-1.2zM354.0 394.0h1.2v1.2h-1.2zM349.6 401.5h1.2v1.2h-1.2zM338.2 396.3h1.2v1.2h-1.2zM360.4 401.3h1.2v1.2h-1.2zM365.9 393.8h1.2v1.2h-1.2zM346.7 403.1h1.2v1.2h-1.2zM346.1 397.9h1.2v1.2h-1.2zM341.5 394.6h1.2v1.2h-1.2zM325.1 393.3h1.2v1.2h-1.2zM339.8 401.7h1.2v1.2h-1.2zM361.0 398.3h1.2v1.2h-1.2z" fill="#86fa00"/>
<path d="M428.7 331.3h1.2v1.2h-1.2zM434.8 334.2h1.2v1.2h-1.2zM431.2 343.2h1.2v1.2h-1.2zM430.7 338.2h1.2v1.2h-1.2zM425.8 343.7h1.2v1.2h-1.2zM435.1 342.0h1.2v1.2h-1.2zM441.7 330.1h1.2v1.2h-1.2zM432.0 341.6h1.2v1.2h-1.2zM433.9 339.9h1.2v1.2h-1.2zM434.7 330.6h1.2v1.2h-1.2zM431.4 344.3h1.2v1.2h-1.2zM431.5 337.4h1.2v1.2h-1.2zM437.0 329.5h1.2v1.2h-1.2zM434.3 346.1h1.2v1.2h-1.2zM430.3 334.2h1.2v1.2h-1.2zM435.0 336.1h1.2v1.2h-1.2zM426.9 339.2h1.2v1.2h-1.2zM421.7 341.8h1.2v1.2h-1.2zM424.6 335.6h1.2v1.2h-1.2zM436.3 338.2h1.2v1.2h-1.2zM433.4 345.4h1.2v1.2h-1.2zM441.1 349.0h1.2v1.2h-1.2zM428.5 343.0h1.2v1.2h-1.2zM421.8 342.4h1.2v1.2h-1.2zM439.8 334.7h1.2v1.2h-1.2zM434.7 342.6h1.2v1.2h-1.2zM430.9 335.1h1.2v1.2h-1.2zM441.0 331.7h1.2v1.2h-1.2zM432.8 343.2h1.2v1.2h-1.2zM433.3 346.4h1.2v1.2h-1.2zM440.9 340.7h1.2v1.2h-1.2zM442.6 342.2h1.2v1.2h-1.2zM424.4 336.7h1.2v1.2h-1.2zM433.5 339.3h1.2v1.2h-1.2zM421.5 350.0h1.2v1.2h-1.2zM422.3 332.6h1.2v1.2h-1.2zM434.6 339.4h1.2v1.2h-1.2zM441.2 339.5h1.2v1.2h-1.2zM434.1 342.1h1.2v1.2h-1.2zM427.4 331.8h1.2v1.2h-1.2zM429.0 343.5h1.2v1.2h-1.2zM430.1 344.7h1.2v1.2h-1.2zM428.5 342.2h1.2v1.2h-1.2zM432.0 342.7h1.2v1.2h-1.2zM431.9 339.4h1.2v1.2h-1.2zM429.0 344.7h1.2v1.2h-1.2zM431.7 340.9h1.2v1.2h-1.2zM435.8 333.9h1.2v1.2h-1.2zM426.8 338.2h1.2v1.2h-1.2zM439.6 333.0h1.2v1.2h-1.2zM425.7 333.4h1.2v1.2h-1.2zM429.5 333.0h1.2v1.2h-1.2zM426.9 341.1h1.2v1.2h-1.2zM425.3 338.4h1.2v1.2h-1.2zM424.7 337.4h1.2v1.2h-1.2zM435.0 328.2h1.2v1.2h-1.2zM432.2 339.5h1.2v1.2h-1.2zM431.5 339.7h1.2v1.2h-1.2zM434.4 331.8h1.2v1.2h-1.2zM431.1 341.7h1.2v1.2h-1.2zM439.7 331.5h1.2v1.2h-1.2zM428.3 331.5h1.2v1.2h-1.2zM431.8 333.0h1.2v1.2h-1.2zM425.9 342.3h1.2v1.2h-1.2zM445.5 328.0h1.2v1.2h-1.2zM441.9 333.8h1.2v1.2h-1.2zM436.0 340.2h1.2v1.2h-1.2zM439.4 337.4h1.2v1.2h-1.2zM426.9 338.1h1.2v1.2h-1.2zM436.7 333.9h1.2v1.2h-1.2zM434.4 338.4h1.2v1.2h-1.2zM433.0 338.5h1.2v1.2h-1.2zM435.6 342.5h1.2v1.2h-1.2zM430.1 336.6h1.2v1.2h-1.2zM418.9 334.0h1.2v1.2h-1.2zM422.7 341.8h1.2v1.2h-1.2zM425.4 334.9h1.2v1.2h-1.2zM435.1 343.4h1.2v1.2h-1.2zM439.3 334.1h1.2v1.2h-1.2zM433.4 343.8h1.2v1.2h-1.2zM426.8 337.3h1.2v1.2h-1.2zM424.5 335.2h1.2v1.2h-1.2zM436.2 338.9h1.2v1.2h-1.2zM429.7 335.6h1.2v1.2h-1.2zM441.1 342.2h1.2v1.2h-1.2zM424.4 349.4h1.2v1.2h-1.2zM429.4 337.7h1.2v1.2h-1.2zM428.9 335.5h1.2v1.2h-1.2zM435.8 331.1h1.2v1.2h-1.2zM432.1 336.8h1.2v1.2h-1.2zM442.5 340.4h1.2v1.2h-1.2zM434.6 341.1h1.2v1.2h-1.2zM435.5 339.1h1.2v1.2h-1.2zM417.1 340.6h1.2v1.2h-1.2zM430.0 342.0h1.2v1.2h-1.2zM433.8 335.7h1.2v1.2h-1.2zM426.5 333.3h1.2v1.2h-1.2zM433.6 337.9h1.2v1.2h-1.2zM426.6 336.6h1.2v1.2h-1.2zM434.0 335.1h1.2v1.2h-1.2zM431.2 335.4h1.2v1.2h-1.2zM416.2 338.9h1.2v1.2h-1.2zM432.3 342.5h1.2v1.2h-1.2zM439.8 334.8h1.2v1.2h-1.2zM435.5 339.8h1.2v1.2h-1.2zM432.4 342.6h1.2v1.2h-1.2zM437.2 332.1h1.2v1.2h-1.2zM440.9 337.6h1.2v1.2h-1.2zM427.9 335.0h1.2v1.2h-1.2zM430.6 332.8h1.2v1.2h-1.2zM438.5 340.6h1.2v1.2h-1.2zM426.5 342.6h1.2v1.2h-1.2zM433.4 338.9h1.2v1.2h-1.2zM437.7 338.0h1.2v1.2h-1.2zM430.4 341.0h1.2v1.2h-1.2zM420.9 332.4h1.2v1.2h-1.2zM435.0 343.8h1.2v1.2h-1.2zM421.8 338.5h1.2v1.2h-1.2zM427.9 337.0h1.2v1.2h-1.2zM435.6 346.0h1.2v1.2h-1.2zM442.6 343.2h1.2v1.2h-1.2zM435.8 339.2h1.2v1.2h-1.2zM420.7 340.4h1.2v1.2h-1.2zM424.7 332.8h1.2v1.2h-1.2zM432.7 330.5h1.2v1.2h-1.2zM442.6 341.5h1.2v1.2h-1.2zM434.1 340.9h1.2v1.2h-1.2zM433.4 338.8h1.2v1.2h-1.2zM436.2 335.1h1.2v1.2h-1.2zM433.6 339.3h1.2v1.2h-1.2zM436.6 332.9h1.2v1.2h-1.2zM433.4 337.8h1.2v1.2h-1.2zM435.7 341.2h1.2v1.2h-1.2zM433.1 340.8h1.2v1.2h-1.2zM434.6 345.3h1.2v1.2h-1.2zM433.8 341.1h1.2v1.2h-1.2zM426.3 337.4h1.2v1.2h-1.2zM436.6 343.7h1.2v1.2h-1.2zM426.1 338.3h1.2v1.2h-1.2zM430.3 338.7h1.2v1.2h-1.2zM429.1 336.3h1.2v1.2h-1.2zM431.6 339.1h1.2v1.2h-1.2zM438.1 334.2h1.2v1.2h-1.2zM426.2 342.4h1.2v1.2h-1.2zM435.0 337.5h1.2v1.2h-1.2zM425.0 343.7h1.2v1.2h-1.2zM425.5 344.1h1.2v1.2h-1.2zM433.5 337.7h1.2v1.2h-1.2zM430.9 342.6h1.2v1.2h-1.2zM432.0 329.7h1.2v1.2h-1.2zM427.7 327.7h1.2v1.2h-1.2zM434.4 343.1h1.2v1.2h-1.2zM438.2 331.7h1.2v1.2h-1.2zM444.7 347.6h1.2v1.2h-1.2zM431.3 328.5h1.2v1.2h-1.2zM426.7 343.7h1.2v1.2h-1.2zM444.4 335.8h1.2v1.2h-1.2zM420.8 333.6h1.2v1.2h-1.2zM443.5 338.4h1.2v1.2h-1.2zM423.5 328.0h1.2v1.2h-1.2zM435.8 342.5h1.2v1.2h-1.2zM429.1 337.5h1.2v1.2h-1.2zM432.4 336.7h1.2v1.2h-1.2zM428.6 335.6h1.2v1.2h-1.2zM428.4 344.6h1.2v1.2h-1.2zM434.4 343.6h1.2v1.2h-1.2zM443.0 327.0h1.2v1.2h-1.2zM431.5 343.3h1.2v1.2h-1.2zM430.7 335.5h1.2v1.2h-1.2zM434.3 335.8h1.2v1.2h-1.2zM426.9 336.9h1.2v1.2h-1.2zM432.3 338.5h1.2v1.2h-1.2zM437.4 338.6h1.2v1.2h-1.2zM429.1 353.7h1.2v1.2h-1.2zM430.6 337.1h1.2v1.2h-1.2zM431.1 334.9h1.2v1.2h-1.2zM422.5 339.4h1.2v1.2h-1.2zM440.7 329.3h1.2v1.2h-1.2zM427.4 340.6h1.2v1.2h-1.2zM427.8 341.1h1.2v1.2h-1.2zM431.6 332.9h1.2v1.2h-1.2zM430.6 335.9h1.2v1.2h-1.2zM435.2 325.7h1.2v1.2h-1.2zM434.4 345.1h1.2v1.2h-1.2zM432.8 339.6h1.2v1.2h-1.2zM428.7 340.1h1.2v1.2h-1.2zM431.1 332.0h1.2v1.2h-1.2zM424.8 326.8h1.2v1.2h-1.2zM434.5 339.3h1.2v1.2h-1.2zM438.5 339.7h1.2v1.2h-1.2zM436.1 331.7h1.2v1.2h-1.2zM420.7 335.6h1.2v1.2h-1.2zM430.0 340.3h1.2v1.2h-1.2zM431.1 337.6h1.2v1.2h-1.2zM432.2 339.7h1.2v1.2h-1.2zM433.1 340.0h1.2v1.2h-1.2zM428.9 338.0h1.2v1.2h-1.2zM423.1 332.9h1.2v1.2h-1.2zM430.3 340.6h1.2v1.2h-1.2zM427.4 331.4h1.2v1.2h-1.2zM437.7 334.3h1.2v1.2h-1.2zM421.6 333.6h1.2v1.2h-1.2zM424.8 326.3h1.2v1.2h-1.2zM429.6 346.9h1.2v1.2h-1.2zM427.5 334.3h1.2v1.2h-1.2zM438.8 338.9h1.2v1.2h-1.2zM431.3 345.3h1.2v1.2h-1.2zM424.8 338.1h1.2v1.2h-1.2zM435.0 339.5h1.2v1.2h-1.2zM424.9 333.8h1.2v1.2h-1.2zM442.6 338.0h1.2v1.2h-1.2zM430.4 343.8h1.2v1.2h-1.2zM421.2 338.2h1.2v1.2h-1.2zM421.4 345.4h1.2v1.2h-1.2zM426.0 339.0h1.2v1.2h-1.2zM426.4 339.1h1.2v1.2h-1.2zM433.8 338.5h1.2v1.2h-1.2zM430.0 339.7h1.2v1.2h-1.2zM430.5 335.9h1.2v1.2h-1.2zM435.7 342.7h1.2v1.2h-1.2zM423.8 333.4h1.2v1.2h-1.2zM427.3 339.9h1.2v1.2h-1.2zM423.5 346.2h1.2v1.2h-1.2zM432.2 339.2h1.2v1.2h-1.2zM437.2 334.7h1.2v1.2h-1.2zM434.2 340.5h1.2v1.2h-1.2zM439.7 333.2h1.2v1.2h-1.2zM440.3 341.5h1.2v1.2h-1.2zM433.5 343.8h1.2v1.2h-1.2zM430.5 337.5h1.2v1.2h-1.2zM437.0 336.7h1.2v1.2h-1.2zM438.5 345.3h1.2v1.2h-1.2zM433.3 339.4h1.2v1.2h-1.2zM428.1 333.9h1.2v1.2h-1.2zM440.6 333.3h1.2v1.2h-1.2zM432.5 340.0h1.2v1.2h-1.2zM426.6 335.1h1.2v1.2h-1.2zM427.8 349.1h1.2v1.2h-1.2zM434.2 345.4h1.2v1.2h-1.2zM444.2 343.6h1.2v1.2h-1.2zM439.9 336.3h1.2v1.2h-1.2zM427.9 345.8h1.2v1.2h-1.2zM440.8 333.4h1.2v1.2h-1.2zM438.9 340.0h1.2v1.2h-1.2zM436.8 343.3h1.2v1.2h-1.2zM443.4 335.4h1.2v1.2h-1.2zM432.1 344.8h1.2v1.2h-1.2zM430.5 341.3h1.2v1.2h-1.2zM431.6 330.1h1.2v1.2h-1.2zM428.8 343.0h1.2v1.2h-1.2zM428.8 330.9h1.2v1.2h-1.2zM429.1 339.1h1.2v1.2h-1.2zM435.0 340.2h1.2v1.2h-1.2zM435.2 333.3h1.2v1.2h-1.2zM428.5 334.7h1.2v1.2h-1.2zM429.5 340.8h1.2v1.2h-1.2zM440.1 337.4h1.2v1.2h-1.2zM438.5 344.1h1.2v1.2h-1.2zM425.2 334.5h1.2v1.2h-1.2zM433.0 331.7h1.2v1.2h-1.2zM443.3 329.2h1.2v1.2h-1.2zM424.8 342.5h1.2v1.2h-1.2zM427.7 342.1h1.2v1.2h-1.2zM426.2 343.9h1.2v1.2h-1.2zM428.6 342.2h1.2v1.2h-1.2zM438.1 331.1h1.2v1.2h-1.2zM426.8 329.9h1.2v1.2h-1.2zM425.5 343.2h1.2v1.2h-1.2zM432.0 342.9h1.2v1.2h-1.2zM440.7 343.8h1.2v1.2h-1.2zM436.5 336.5h1.2v1.2h-1.2zM429.8 340.2h1.2v1.2h-1.2zM437.4 344.1h1.2v1.2h-1.2zM434.0 337.2h1.2v1.2h-1.2zM431.7 346.9h1.2v1.2h-1.2zM433.9 348.6h1.2v1.2h-1.2zM427.9 343.0h1.2v1.2h-1.2zM433.5 342.5h1.2v1.2h-1.2zM427.7 340.3h1.2v1.2h-1.2zM431.8 337.3h1.2v1.2h-1.2zM425.0 331.6h1.2v1.2h-1.2zM430.2 341.4h1.2v1.2h-1.2zM433.8 339.9h1.2v1.2h-1.2zM434.1 331.9h1.2v1.2h-1.2zM438.6 339.0h1.2v1.2h-1.2zM427.7 336.0h1.2v1.2h-1.2zM438.1 339.6h1.2v1.2h-1.2zM422.3 349.2h1.2v1.2h-1.2zM423.4 347.2h1.2v1.2h-1.2zM437.3 333.7h1.2v1.2h-1.2zM439.7 345.0h1.2v1.2h-1.2zM438.5 341.9h1.2v1.2h-1.2zM434.2 339.8h1.2v1.2h-1.2zM429.0 340.1h1.2v1.2h-1.2zM439.9 338.2h1.2v1.2h-1.2zM444.0 331.0h1.2v1.2h-1.2zM432.4 331.3h1.2v1.2h-1.2zM421.7 340.0h1.2v1.2h-1.2zM430.3 335.9h1.2v1.2h-1.2zM425.9 337.5h1.2v1.2h-1.2zM422.6 337.7h1.2v1.2h-1.2zM429.1 332.5h1.2v1.2h-1.2zM434.7 329.4h1.2v1.2h-1.2zM434.8 340.0h1.2v1.2h-1.2zM435.4 339.4h1.2v1.2h-1.2zM437.0 337.4h1.2v1.2h-1.2zM425.8 340.6h1.2v1.2h-1.2zM427.5 336.9h1.2v1.2h-1.2zM433.0 334.1h1.2v1.2h-1.2zM438.1 331.1h1.2v1.2h-1.2zM439.6 338.5h1.2v1.2h-1.2zM442.4 344.2h1.2v1.2h-1.2zM436.3 340.2h1.2v1.2h-1.2zM432.9 331.9h1.2v1.2h-1.2zM428.9 334.0h1.2v1.2h-1.2zM428.0 338.1h1.2v1.2h-1.2zM427.5 339.4h1.2v1.2h-1.2zM430.7 336.4h1.2v1.2h-1.2zM434.6 341.0h1.2v1.2h-1.2zM424.2 337.1h1.2v1.2h-1.2zM449.7 338.8h1.2v1.2h-1.2zM435.0 334.3h1.2v1.2h-1.2zM438.1 346.4h1.2v1.2h-1.2zM435.7 338.0h1.2v1.2h-1.2zM432.4 329.3h1.2v1.2h-1.2zM435.8 337.2h1.2v1.2h-1.2zM434.6 340.6h1.2v1.2h-1.2zM433.5 349.2h1.2v1.2h-1.2zM437.7 335.5h1.2v1.2h-1.2zM435.9 341.8h1.2v1.2h-1.2zM432.5 345.7h1.2v1.2h-1.2zM430.1 330.0h1.2v1.2h-1.2zM425.9 340.6h1.2v1.2h-1.2zM426.3 339.5h1.2v1.2h-1.2zM423.2 340.6h1.2v1.2h-1.2zM430.7 334.2h1.2v1.2h-1.2zM428.9 337.4h1.2v1.2h-1.2zM437.7 339.9h1.2v1.2h-1.2zM431.0 339.5h1.2v1.2h-1.2zM437.5 341.0h1.2v1.2h-1.2zM442.7 335.1h1.2v1.2h-1.2zM437.1 339.3h1.2v1.2h-1.2zM428.5 341.7h1.2v1.2h-1.2zM437.2 343.6h1.2v1.2h-1.2zM435.1 334.3h1.2v1.2h-1.2zM433.3 340.6h1.2v1.2h-1.2zM442.2 339.3h1.2v1.2h-1.2zM433.2 346.5h1.2v1.2h-1.2zM432.6 336.5h1.2v1.2h-1.2zM434.0 342.5h1.2v1.2h-1.2zM433.2 330.4h1.2v1.2h-1.2zM429.9 343.7h1.2v1.2h-1.2zM427.8 343.0h1.2v1.2h-1.2zM433.3 334.8h1.2v1.2h-1.2zM437.0 328.1h1.2v1.2h-1.2zM419.8 331.0h1.2v1.2h-1.2zM435.4 337.3h1.2v1.2h-1.2zM436.0 338.3h1.2v1.2h-1.2zM433.0 336.1h1.2v1.2h-1.2zM429.9 343.6h1.2v1.2h-1.2zM436.8 332.1h1.2v1.2h-1.2zM435.7 348.7h1.2v1.2h-1.2zM436.8 334.0h1.2v1.2h-1.2zM436.7 339.8h1.2v1.2h-1.2zM430.4 343.5h1.2v1.2h-1.2zM439.5 336.1h1.2v1.2h-1.2zM433.0 336.8h1.2v1.2h-1.2zM432.3 346.6h1.2v1.2h-1.2zM429.7 341.5h1.2v1.2h-1.2zM433.8 339.1h1.2v1.2h-1.2zM425.6 341.8h1.2v1.2h-1.2zM425.7 342.3h1.2v1.2h-1.2zM431.7 339.4h1.2v1.2h-1.2zM429.5 334.5h1.2v1.2h-1.2zM426.2 338.8h1.2v1.2h-1.2zM431.8 340.1h1.2v1.2h-1.2zM430.5 342.5h1.2v1.2h-1.2zM433.1 339.3h1.2v1.2h-1.2zM430.8 338.6h1.2v1.2h-1.2zM436.1 335.2h1.2v1.2h-1.2z" fill="#ee1010"/>
<path d="M424.6 343.2h1.2v1.2h-1.2zM417.9 346.0h1.2v1.2h-1.2zM422.7 348.4h1.2v1.2h-1.2zM429.3 333.7h1.2v1.2h-1.2zM436.2 325.9h1.2v1.2h-1.2zM420.2 341.7h1.2v1.2h-1.2zM431.4 333.3h1.2v1.2h-1.2zM415.4 346.5h1.2v1.2h-1.2zM430.8 338.9h1.2v1.2h-1.2zM418.6 350.3h1.2v1.2h-1.2zM416.0 349.1h1.2v1.2h-1.2zM426.3 336.4h1.2v1.2h-1.2zM422.4 346.3h1.2v1.2h-1.2zM418.9 339.4h1.2v1.2h-1.2zM433.9 337.2h1.2v1.2h-1.2zM432.3 335.4h1.2v1.2h-1.2zM437.1 331.4h1.2v1.2h-1.2zM425.4 344.3h1.2v1.2h-1.2zM439.1 331.8h1.2v1.2h-1.2zM424.6 350.0h1.2v1.2h-1.2zM414.5 355.4h1.2v1.2h-1.2zM420.7 345.1h1.2v1.2h-1.2zM447.4 327.3h1.2v1.2h-1.2zM436.0 337.4h1.2v1.2h-1.2zM422.1 338.2h1.2v1.2h-1.2zM427.0 345.4h1.2v1.2h-1.2zM417.1 355.2h1.2v1.2h-1.2zM433.7 335.4h1.2v1.2h-1.2zM420.5 356.2h1.2v1.2h-1.2zM437.2 334.5h1.2v1.2h-1.2zM446.2 329.5h1.2v1.2h-1.2zM426.1 335.0h1.2v1.2h-1.2zM426.5 347.2h1.2v1.2h-1.2zM428.3 343.8h1.2v1.2h-1.2zM420.9 349.9h1.2v1.2h-1.2zM430.6 345.8h1.2v1.2h-1.2zM442.8 324.4h1.2v1.2h-1.2zM433.7 333.6h1.2v1.2h-1.2zM437.4 329.1h1.2v1.2h-1.2zM421.9 355.7h1.2v1.2h-1.2zM437.5 333.8h1.2v1.2h-1.2zM422.6 337.3h1.2v1.2h-1.2zM427.7 342.1h1.2v1.2h-1.2zM421.6 348.1h1.2v1.2h-1.2zM431.9 335.5h1.2v1.2h-1.2zM423.3 338.0h1.2v1.2h-1.2zM421.4 351.5h1.2v1.2h-1.2zM420.8 351.3h1.2v1.2h-1.2zM421.5 334.7h1.2v1.2h-1.2zM440.6 338.9h1.2v1.2h-1.2zM429.1 333.2h1.2v1.2h-1.2zM422.3 347.0h1.2v1.2h-1.2zM437.7 340.3h1.2v1.2h-1.2zM434.7 326.8h1.2v1.2h-1.2zM443.0 332.5h1.2v1.2h-1.2zM439.0 330.4h1.2v1.2h-1.2zM424.2 332.4h1.2v1.2h-1.2zM429.6 339.6h1.2v1.2h-1.2zM426.3 324.8h1.2v1.2h-1.2zM434.1 333.6h1.2v1.2h-1.2zM430.4 332.5h1.2v1.2h-1.2zM428.3 344.8h1.2v1.2h-1.2zM427.6 345.4h1.2v1.2h-1.2zM420.4 345.5h1.2v1.2h-1.2zM420.1 348.1h1.2v1.2h-1.2zM422.4 343.4h1.2v1.2h-1.2zM425.8 345.4h1.2v1.2h-1.2zM427.9 342.0h1.2v1.2h-1.2zM424.8 344.5h1.2v1.2h-1.2zM423.2 341.7h1.2v1.2h-1.2zM431.7 342.8h1.2v1.2h-1.2zM424.5 340.1h1.2v1.2h-1.2zM424.7 332.1h1.2v1.2h-1.2zM435.5 337.0h1.2v1.2h-1.2zM440.7 324.6h1.2v1.2h-1.2zM437.3 340.3h1.2v1.2h-1.2zM428.3 337.5h1.2v1.2h-1.2zM435.6 330.5h1.2v1.2h-1.2zM438.2 331.6h1.2v1.2h-1.2zM431.2 341.1h1.2v1.2h-1.2zM418.8 344.3h1.2v1.2h-1.2zM442.7 330.3h1.2v1.2h-1.2zM440.1 331.0h1.2v1.2h-1.2zM440.4 337.4h1.2v1.2h-1.2zM424.9 358.6h1.2v1.2h-1.2zM416.2 345.6h1.2v1.2h-1.2zM414.5 352.4h1.2v1.2h-1.2zM439.3 327.9h1.2v1.2h-1.2zM432.5 344.5h1.2v1.2h-1.2zM437.0 342.5h1.2v1.2h-1.2zM428.5 344.0h1.2v1.2h-1.2zM424.3 343.0h1.2v1.2h-1.2zM419.0 356.6h1.2v1.2h-1.2zM423.7 341.3h1.2v1.2h-1.2zM430.5 349.5h1.2v1.2h-1.2zM439.5 335.3h1.2v1.2h-1.2zM416.4 353.7h1.2v1.2h-1.2zM421.8 331.5h1.2v1.2h-1.2zM422.0 350.1h1.2v1.2h-1.2zM423.0 351.4h1.2v1.2h-1.2zM417.4 352.1h1.2v1.2h-1.2zM424.7 341.6h1.2v1.2h-1.2zM422.7 352.7h1.2v1.2h-1.2zM443.4 335.2h1.2v1.2h-1.2zM416.8 340.6h1.2v1.2h-1.2zM433.0 339.2h1.2v1.2h-1.2zM447.9 325.6h1.2v1.2h-1.2zM432.2 342.4h1.2v1.2h-1.2zM441.1 333.7h1.2v1.2h-1.2zM418.2 350.1h1.2v1.2h-1.2zM414.3 354.4h1.2v1.2h-1.2zM420.4 339.2h1.2v1.2h-1.2zM415.0 351.4h1.2v1.2h-1.2zM426.7 340.1h1.2v1.2h-1.2zM435.6 338.8h1.2v1.2h-1.2zM440.3 335.1h1.2v1.2h-1.2zM425.6 330.4h1.2v1.2h-1.2zM432.6 340.3h1.2v1.2h-1.2zM425.4 348.0h1.2v1.2h-1.2zM414.7 347.5h1.2v1.2h-1.2zM439.4 330.6h1.2v1.2h-1.2zM443.1 336.7h1.2v1.2h-1.2zM438.6 331.8h1.2v1.2h-1.2zM424.3 355.0h1.2v1.2h-1.2zM427.6 339.8h1.2v1.2h-1.2zM432.3 340.4h1.2v1.2h-1.2zM424.4 333.4h1.2v1.2h-1.2zM438.0 337.1h1.2v1.2h-1.2zM416.7 350.6h1.2v1.2h-1.2zM433.2 325.7h1.2v1.2h-1.2zM434.0 337.8h1.2v1.2h-1.2zM436.6 331.2h1.2v1.2h-1.2zM430.2 348.4h1.2v1.2h-1.2zM430.0 342.3h1.2v1.2h-1.2zM433.1 334.8h1.2v1.2h-1.2zM441.2 329.0h1.2v1.2h-1.2zM419.9 346.4h1.2v1.2h-1.2zM436.7 336.2h1.2v1.2h-1.2zM416.3 349.8h1.2v1.2h-1.2zM430.1 345.2h1.2v1.2h-1.2zM434.7 325.6h1.2v1.2h-1.2zM424.5 343.6h1.2v1.2h-1.2zM430.3 333.1h1.2v1.2h-1.2zM416.2 350.9h1.2v1.2h-1.2zM421.3 353.4h1.2v1.2h-1.2zM420.5 345.2h1.2v1.2h-1.2zM434.0 332.3h1.2v1.2h-1.2zM424.4 342.3h1.2v1.2h-1.2zM429.9 337.4h1.2v1.2h-1.2zM411.3 352.8h1.2v1.2h-1.2zM435.6 329.5h1.2v1.2h-1.2zM410.9 351.2h1.2v1.2h-1.2zM439.0 334.6h1.2v1.2h-1.2zM422.4 355.1h1.2v1.2h-1.2zM437.1 333.7h1.2v1.2h-1.2zM429.1 346.4h1.2v1.2h-1.2zM437.6 328.5h1.2v1.2h-1.2zM427.9 346.8h1.2v1.2h-1.2zM425.3 342.8h1.2v1.2h-1.2zM430.9 341.8h1.2v1.2h-1.2zM428.8 346.5h1.2v1.2h-1.2zM423.0 347.4h1.2v1.2h-1.2zM430.0 341.4h1.2v1.2h-1.2zM438.9 341.2h1.2v1.2h-1.2zM414.3 355.4h1.2v1.2h-1.2zM441.9 323.2h1.2v1.2h-1.2zM435.5 337.0h1.2v1.2h-1.2zM427.2 344.0h1.2v1.2h-1.2zM428.9 346.8h1.2v1.2h-1.2zM435.9 330.1h1.2v1.2h-1.2zM411.5 356.9h1.2v1.2h-1.2zM430.8 332.1h1.2v1.2h-1.2zM423.3 337.2h1.2v1.2h-1.2zM425.4 339.5h1.2v1.2h-1.2zM408.5 354.5h1.2v1.2h-1.2zM437.0 336.9h1.2v1.2h-1.2zM424.8 342.4h1.2v1.2h-1.2zM437.3 336.7h1.2v1.2h-1.2zM422.1 350.1h1.2v1.2h-1.2zM413.3 351.7h1.2v1.2h-1.2zM425.6 334.9h1.2v1.2h-1.2zM423.6 340.0h1.2v1.2h-1.2zM424.9 340.0h1.2v1.2h-1.2zM422.6 330.2h1.2v1.2h-1.2zM422.7 336.9h1.2v1.2h-1.2zM418.2 350.5h1.2v1.2h-1.2zM432.5 333.5h1.2v1.2h-1.2zM444.0 330.5h1.2v1.2h-1.2zM436.7 327.0h1.2v1.2h-1.2zM422.2 352.6h1.2v1.2h-1.2zM426.8 331.5h1.2v1.2h-1.2zM425.0 337.4h1.2v1.2h-1.2zM424.1 336.8h1.2v1.2h-1.2zM434.2 344.2h1.2v1.2h-1.2zM421.6 342.3h1.2v1.2h-1.2zM429.2 347.1h1.2v1.2h-1.2zM428.1 353.5h1.2v1.2h-1.2zM418.0 347.1h1.2v1.2h-1.2z" fill="#ee1010"/>
<path d="M447.5 348.5h1.2v1.2h-1.2zM439.1 330.5h1.2v1.2h-1.2zM421.1 327.7h1.2v1.2h-1.2zM434.3 345.8h1.2v1.2h-1.2zM408.3 345.0h1.2v1.2h-1.2zM439.3 346.0h1.2v1.2h-1.2zM415.3 339.5h1.2v1.2h-1.2zM432.9 322.6h1.2v1.2h-1.2zM421.9 331.9h1.2v1.2h-1.2zM407.9 330.5h1.2v1.2h-1.2zM444.2 341.6h1.2v1.2h-1.2zM420.0 337.7h1.2v1.2h-1.2zM433.3 343.7h1.2v1.2h-1.2zM418.4 341.4h1.2v1.2h-1.2zM422.0 331.8h1.2v1.2h-1.2zM419.9 328.5h1.2v1.2h-1.2zM434.6 317.9h1.2v1.2h-1.2zM419.5 334.1h1.2v1.2h-1.2zM428.5 354.4h1.2v1.2h-1.2zM413.6 343.5h1.2v1.2h-1.2zM418.7 341.2h1.2v1.2h-1.2zM417.2 330.7h1.2v1.2h-1.2zM415.5 332.8h1.2v1.2h-1.2zM446.2 331.4h1.2v1.2h-1.2zM432.6 337.4h1.2v1.2h-1.2zM432.7 329.0h1.2v1.2h-1.2zM435.7 338.3h1.2v1.2h-1.2zM407.8 337.6h1.2v1.2h-1.2zM435.6 337.8h1.2v1.2h-1.2zM432.6 337.3h1.2v1.2h-1.2zM423.9 348.7h1.2v1.2h-1.2zM444.6 333.9h1.2v1.2h-1.2zM438.0 325.4h1.2v1.2h-1.2zM442.9 328.2h1.2v1.2h-1.2zM429.7 347.6h1.2v1.2h-1.2zM423.7 337.7h1.2v1.2h-1.2zM440.2 331.2h1.2v1.2h-1.2zM432.9 349.2h1.2v1.2h-1.2zM432.0 328.7h1.2v1.2h-1.2zM424.9 334.5h1.2v1.2h-1.2zM429.4 344.1h1.2v1.2h-1.2zM412.2 336.4h1.2v1.2h-1.2zM431.4 353.6h1.2v1.2h-1.2zM413.3 327.6h1.2v1.2h-1.2zM438.9 336.7h1.2v1.2h-1.2zM441.1 336.7h1.2v1.2h-1.2zM422.1 336.6h1.2v1.2h-1.2zM442.6 345.1h1.2v1.2h-1.2zM431.3 338.8h1.2v1.2h-1.2zM440.9 343.9h1.2v1.2h-1.2zM431.9 345.1h1.2v1.2h-1.2zM430.3 325.1h1.2v1.2h-1.2zM439.0 350.3h1.2v1.2h-1.2zM444.3 336.5h1.2v1.2h-1.2zM416.1 341.6h1.2v1.2h-1.2zM422.9 316.9h1.2v1.2h-1.2zM430.8 328.9h1.2v1.2h-1.2zM430.0 331.9h1.2v1.2h-1.2zM438.1 346.4h1.2v1.2h-1.2zM434.6 349.9h1.2v1.2h-1.2zM410.5 345.2h1.2v1.2h-1.2zM440.4 332.9h1.2v1.2h-1.2zM430.5 324.3h1.2v1.2h-1.2zM424.4 340.3h1.2v1.2h-1.2zM415.5 316.2h1.2v1.2h-1.2zM425.3 328.1h1.2v1.2h-1.2zM418.8 335.4h1.2v1.2h-1.2zM414.3 349.0h1.2v1.2h-1.2zM441.6 337.5h1.2v1.2h-1.2zM422.8 336.5h1.2v1.2h-1.2zM428.1 328.6h1.2v1.2h-1.2zM422.2 341.7h1.2v1.2h-1.2zM419.4 330.3h1.2v1.2h-1.2zM424.3 326.4h1.2v1.2h-1.2zM431.9 323.4h1.2v1.2h-1.2zM439.1 344.8h1.2v1.2h-1.2zM428.8 346.3h1.2v1.2h-1.2zM440.9 333.0h1.2v1.2h-1.2zM428.6 330.6h1.2v1.2h-1.2zM425.2 333.0h1.2v1.2h-1.2zM430.0 342.7h1.2v1.2h-1.2z" fill="#ee1010"/>
<rect x="326.8" y="352.6" width="47.599999999999966" height="30.799999999999955" fill="none" stroke="#5050e0" stroke-width="1.1"/>
<text x="309.4" y="361.8" font-family="Liberation Sans, sans-serif" font-size="13.3" fill="#000">R2</text>
<rect x="324.3" y="390.2" width="53.30000000000001" height="17.69999999999999" fill="none" stroke="#a0dc68" stroke-width="1.1"/>
<text x="378.0" y="403.6" font-family="Liberation Sans, sans-serif" font-size="13.3" fill="#000">R1</text>
<rect x="328.5" y="408.6" width="1.6" height="1.6" fill="#111"/>
<rect x="406.4" y="311.2" width="46.200000000000045" height="47.60000000000002" fill="none" stroke="#e87878" stroke-width="1.1"/>
<text x="452.6" y="321.2" font-family="Liberation Sans, sans-serif" font-size="13.3" fill="#000">R3</text>
<rect x="308" y="293" width="169.60000000000002" height="121.30000000000001" fill="none" stroke="#54473a" stroke-width="1.35"/>
<line x1="303.5" y1="414.5" x2="308" y2="414.5" stroke="#544428" stroke-width="0.9"/>
<text transform="translate(301.0,417.5) scale(0.92,1)" font-family="Liberation Sans, sans-serif" font-size="8.5" fill="#544428" text-anchor="end">-1000</text>
<line x1="303.5" y1="401.5" x2="308" y2="401.5" stroke="#544428" stroke-width="0.9"/>
<text transform="translate(301.0,404.5) scale(0.92,1)" font-family="Liberation Sans, sans-serif" font-size="8.5" fill="#544428" text-anchor="end">0</text>
<line x1="303.5" y1="388.5" x2="308" y2="388.5" stroke="#544428" stroke-width="0.9"/>
<text transform="translate(301.0,391.5) scale(0.92,1)" font-family="Liberation Sans, sans-serif" font-size="8.5" fill="#544428" text-anchor="end">1000</text>
<line x1="303.5" y1="358.2" x2="308" y2="358.2" stroke="#544428" stroke-width="0.9"/>
<text transform="translate(301.0,361.2) scale(0.92,1)" font-family="Liberation Sans, sans-serif" font-size="8.5" fill="#544428" text-anchor="end">1e4</text>
<line x1="303.5" y1="328.3" x2="308" y2="328.3" stroke="#544428" stroke-width="0.9"/>
<text transform="translate(301.0,331.3) scale(0.92,1)" font-family="Liberation Sans, sans-serif" font-size="8.5" fill="#544428" text-anchor="end">1e5</text>
<line x1="303.5" y1="296.5" x2="308" y2="296.5" stroke="#544428" stroke-width="0.9"/>
<text transform="translate(301.0,299.5) scale(0.92,1)" font-family="Liberation Sans, sans-serif" font-size="8.5" fill="#544428" text-anchor="end">1e6</text>
<line x1="303.8" y1="379.4" x2="308" y2="379.4" stroke="#544428" stroke-width="0.8"/>
<line x1="303.8" y1="374.0" x2="308" y2="374.0" stroke="#544428" stroke-width="0.8"/>
<line x1="303.8" y1="370.3" x2="308" y2="370.3" stroke="#544428" stroke-width="0.8"/>
<line x1="303.8" y1="367.3" x2="308" y2="367.3" stroke="#544428" stroke-width="0.8"/>
<line x1="303.8" y1="364.9" x2="308" y2="364.9" stroke="#544428" stroke-width="0.8"/>
<line x1="303.8" y1="362.9" x2="308" y2="362.9" stroke="#544428" stroke-width="0.8"/>
<line x1="303.8" y1="361.1" x2="308" y2="361.1" stroke="#544428" stroke-width="0.8"/>
<line x1="303.8" y1="359.6" x2="308" y2="359.6" stroke="#544428" stroke-width="0.8"/>
<line x1="303.8" y1="349.2" x2="308" y2="349.2" stroke="#544428" stroke-width="0.8"/>
<line x1="303.8" y1="343.9" x2="308" y2="343.9" stroke="#544428" stroke-width="0.8"/>
<line x1="303.8" y1="340.2" x2="308" y2="340.2" stroke="#544428" stroke-width="0.8"/>
<line x1="303.8" y1="337.3" x2="308" y2="337.3" stroke="#544428" stroke-width="0.8"/>
<line x1="303.8" y1="334.9" x2="308" y2="334.9" stroke="#544428" stroke-width="0.8"/>
<line x1="303.8" y1="332.9" x2="308" y2="332.9" stroke="#544428" stroke-width="0.8"/>
<line x1="303.8" y1="331.2" x2="308" y2="331.2" stroke="#544428" stroke-width="0.8"/>
<line x1="303.8" y1="329.7" x2="308" y2="329.7" stroke="#544428" stroke-width="0.8"/>
<line x1="303.8" y1="318.7" x2="308" y2="318.7" stroke="#544428" stroke-width="0.8"/>
<line x1="303.8" y1="313.1" x2="308" y2="313.1" stroke="#544428" stroke-width="0.8"/>
<line x1="303.8" y1="309.2" x2="308" y2="309.2" stroke="#544428" stroke-width="0.8"/>
<line x1="303.8" y1="306.1" x2="308" y2="306.1" stroke="#544428" stroke-width="0.8"/>
<line x1="303.8" y1="303.6" x2="308" y2="303.6" stroke="#544428" stroke-width="0.8"/>
<line x1="303.8" y1="301.4" x2="308" y2="301.4" stroke="#544428" stroke-width="0.8"/>
<line x1="303.8" y1="299.6" x2="308" y2="299.6" stroke="#544428" stroke-width="0.8"/>
<line x1="303.8" y1="298.0" x2="308" y2="298.0" stroke="#544428" stroke-width="0.8"/>
<line x1="310.0" y1="414.3" x2="310.0" y2="420.8" stroke="#544428" stroke-width="1"/>
<text transform="translate(310.0,432.1) scale(0.92,1)" font-family="Liberation Sans, sans-serif" font-size="8.5" fill="#544428" text-anchor="middle">-1e4</text>
<line x1="352.2" y1="414.3" x2="352.2" y2="420.8" stroke="#544428" stroke-width="1"/>
<text transform="translate(352.2,432.1) scale(0.92,1)" font-family="Liberation Sans, sans-serif" font-size="8.5" fill="#544428" text-anchor="middle">-1000</text>
<line x1="370.8" y1="414.3" x2="370.8" y2="420.8" stroke="#544428" stroke-width="1"/>
<text transform="translate(370.8,432.1) scale(0.92,1)" font-family="Liberation Sans, sans-serif" font-size="8.5" fill="#544428" text-anchor="middle">0</text>
<line x1="389.4" y1="414.3" x2="389.4" y2="420.8" stroke="#544428" stroke-width="1"/>
<text transform="translate(389.4,432.1) scale(0.92,1)" font-family="Liberation Sans, sans-serif" font-size="8.5" fill="#544428" text-anchor="middle">1000</text>
<line x1="433.3" y1="414.3" x2="433.3" y2="420.8" stroke="#544428" stroke-width="1"/>
<text transform="translate(433.3,432.1) scale(0.92,1)" font-family="Liberation Sans, sans-serif" font-size="8.5" fill="#544428" text-anchor="middle">1e4</text>
<line x1="476.0" y1="414.3" x2="476.0" y2="420.8" stroke="#544428" stroke-width="1"/>
<text transform="translate(476.0,432.1) scale(0.92,1)" font-family="Liberation Sans, sans-serif" font-size="8.5" fill="#544428" text-anchor="middle">1e5</text>
<line x1="339.6" y1="414.3" x2="339.6" y2="420.5" stroke="#544428" stroke-width="0.9"/>
<line x1="332.1" y1="414.3" x2="332.1" y2="420.5" stroke="#544428" stroke-width="0.9"/>
<line x1="326.8" y1="414.3" x2="326.8" y2="420.5" stroke="#544428" stroke-width="0.9"/>
<line x1="322.7" y1="414.3" x2="322.7" y2="420.5" stroke="#544428" stroke-width="0.9"/>
<line x1="319.4" y1="414.3" x2="319.4" y2="420.5" stroke="#544428" stroke-width="0.9"/>
<line x1="316.6" y1="414.3" x2="316.6" y2="420.5" stroke="#544428" stroke-width="0.9"/>
<line x1="314.1" y1="414.3" x2="314.1" y2="420.5" stroke="#544428" stroke-width="0.9"/>
<line x1="311.9" y1="414.3" x2="311.9" y2="420.5" stroke="#544428" stroke-width="0.9"/>
<line x1="402.6" y1="414.3" x2="402.6" y2="420.5" stroke="#544428" stroke-width="0.9"/>
<line x1="410.3" y1="414.3" x2="410.3" y2="420.5" stroke="#544428" stroke-width="0.9"/>
<line x1="415.8" y1="414.3" x2="415.8" y2="420.5" stroke="#544428" stroke-width="0.9"/>
<line x1="420.1" y1="414.3" x2="420.1" y2="420.5" stroke="#544428" stroke-width="0.9"/>
<line x1="423.6" y1="414.3" x2="423.6" y2="420.5" stroke="#544428" stroke-width="0.9"/>
<line x1="426.5" y1="414.3" x2="426.5" y2="420.5" stroke="#544428" stroke-width="0.9"/>
<line x1="429.0" y1="414.3" x2="429.0" y2="420.5" stroke="#544428" stroke-width="0.9"/>
<line x1="431.3" y1="414.3" x2="431.3" y2="420.5" stroke="#544428" stroke-width="0.9"/>
<line x1="446.2" y1="414.3" x2="446.2" y2="420.5" stroke="#544428" stroke-width="0.9"/>
<line x1="453.7" y1="414.3" x2="453.7" y2="420.5" stroke="#544428" stroke-width="0.9"/>
<line x1="459.0" y1="414.3" x2="459.0" y2="420.5" stroke="#544428" stroke-width="0.9"/>
<line x1="463.1" y1="414.3" x2="463.1" y2="420.5" stroke="#544428" stroke-width="0.9"/>
<line x1="466.5" y1="414.3" x2="466.5" y2="420.5" stroke="#544428" stroke-width="0.9"/>
<line x1="469.4" y1="414.3" x2="469.4" y2="420.5" stroke="#544428" stroke-width="0.9"/>
<line x1="471.9" y1="414.3" x2="471.9" y2="420.5" stroke="#544428" stroke-width="0.9"/>
<line x1="474.0" y1="414.3" x2="474.0" y2="420.5" stroke="#544428" stroke-width="0.9"/>
<text x="308.2" y="285.0" font-family="Liberation Sans, sans-serif" font-size="16.1" fill="#22190f">Untreated</text>
<rect x="308" y="466.6" width="169.60000000000002" height="121.3" fill="#fff"/>
<path d="M334.5 486.6h1.3v1.3h-1.3zM339.4 487.3h1.3v1.3h-1.3zM326.9 486.5h1.3v1.3h-1.3zM328.3 486.3h1.3v1.3h-1.3zM329.3 490.5h1.3v1.3h-1.3zM328.6 485.5h1.3v1.3h-1.3zM321.2 485.5h1.3v1.3h-1.3zM329.0 487.7h1.3v1.3h-1.3zM331.2 489.3h1.3v1.3h-1.3zM321.6 485.7h1.3v1.3h-1.3zM322.1 485.1h1.3v1.3h-1.3zM323.6 485.4h1.3v1.3h-1.3zM332.7 484.9h1.3v1.3h-1.3zM342.9 483.0h1.3v1.3h-1.3zM333.7 484.0h1.3v1.3h-1.3zM324.7 484.6h1.3v1.3h-1.3zM328.0 487.9h1.3v1.3h-1.3zM325.2 485.7h1.3v1.3h-1.3zM321.3 485.4h1.3v1.3h-1.3zM322.2 485.7h1.3v1.3h-1.3zM328.4 488.7h1.3v1.3h-1.3zM323.2 483.1h1.3v1.3h-1.3zM325.5 488.6h1.3v1.3h-1.3zM321.0 487.7h1.3v1.3h-1.3zM320.1 484.5h1.3v1.3h-1.3zM329.4 483.4h1.3v1.3h-1.3zM325.1 481.7h1.3v1.3h-1.3zM320.8 487.7h1.3v1.3h-1.3zM324.5 485.6h1.3v1.3h-1.3zM331.5 485.2h1.3v1.3h-1.3zM320.1 486.2h1.3v1.3h-1.3zM327.3 487.2h1.3v1.3h-1.3zM326.6 489.2h1.3v1.3h-1.3zM331.6 486.7h1.3v1.3h-1.3zM343.4 483.9h1.3v1.3h-1.3zM329.4 485.4h1.3v1.3h-1.3zM342.3 487.5h1.3v1.3h-1.3zM333.4 487.7h1.3v1.3h-1.3zM337.7 485.9h1.3v1.3h-1.3zM333.9 483.6h1.3v1.3h-1.3zM331.6 489.1h1.3v1.3h-1.3zM333.7 488.1h1.3v1.3h-1.3zM325.5 489.9h1.3v1.3h-1.3zM331.4 488.2h1.3v1.3h-1.3zM336.6 487.9h1.3v1.3h-1.3zM318.5 485.4h1.3v1.3h-1.3zM326.4 484.4h1.3v1.3h-1.3zM331.1 486.1h1.3v1.3h-1.3zM325.7 489.4h1.3v1.3h-1.3zM327.1 486.4h1.3v1.3h-1.3zM335.4 486.2h1.3v1.3h-1.3zM331.3 490.3h1.3v1.3h-1.3zM322.9 486.5h1.3v1.3h-1.3zM320.3 487.4h1.3v1.3h-1.3zM322.5 489.1h1.3v1.3h-1.3zM331.2 488.2h1.3v1.3h-1.3zM329.2 487.3h1.3v1.3h-1.3zM320.0 485.2h1.3v1.3h-1.3zM324.6 491.2h1.3v1.3h-1.3zM320.2 490.2h1.3v1.3h-1.3zM328.6 491.9h1.3v1.3h-1.3zM326.2 485.9h1.3v1.3h-1.3zM327.5 485.8h1.3v1.3h-1.3zM322.9 488.3h1.3v1.3h-1.3zM324.6 488.6h1.3v1.3h-1.3zM331.8 488.7h1.3v1.3h-1.3zM338.4 489.0h1.3v1.3h-1.3zM321.3 489.5h1.3v1.3h-1.3zM336.0 484.9h1.3v1.3h-1.3zM336.4 483.3h1.3v1.3h-1.3zM334.5 486.1h1.3v1.3h-1.3zM325.8 486.6h1.3v1.3h-1.3zM323.9 488.3h1.3v1.3h-1.3zM327.4 486.8h1.3v1.3h-1.3zM328.1 486.2h1.3v1.3h-1.3zM320.9 488.1h1.3v1.3h-1.3zM333.4 484.6h1.3v1.3h-1.3zM334.2 489.4h1.3v1.3h-1.3zM328.9 489.8h1.3v1.3h-1.3zM322.7 487.5h1.3v1.3h-1.3zM321.5 491.7h1.3v1.3h-1.3zM325.0 488.2h1.3v1.3h-1.3zM330.7 486.7h1.3v1.3h-1.3zM322.6 489.8h1.3v1.3h-1.3zM326.6 486.2h1.3v1.3h-1.3zM332.2 487.4h1.3v1.3h-1.3zM326.5 488.2h1.3v1.3h-1.3zM327.2 488.0h1.3v1.3h-1.3zM336.4 487.4h1.3v1.3h-1.3zM328.2 485.8h1.3v1.3h-1.3zM337.4 488.8h1.3v1.3h-1.3zM331.4 487.5h1.3v1.3h-1.3zM322.1 487.1h1.3v1.3h-1.3zM329.8 484.7h1.3v1.3h-1.3zM321.3 486.7h1.3v1.3h-1.3zM340.8 487.6h1.3v1.3h-1.3zM333.9 488.3h1.3v1.3h-1.3zM324.1 486.7h1.3v1.3h-1.3zM342.6 489.1h1.3v1.3h-1.3zM358.9 483.4h1.3v1.3h-1.3zM321.6 485.6h1.3v1.3h-1.3zM332.7 489.5h1.3v1.3h-1.3zM333.6 487.4h1.3v1.3h-1.3zM337.0 489.2h1.3v1.3h-1.3zM322.3 487.2h1.3v1.3h-1.3zM329.7 484.6h1.3v1.3h-1.3zM326.2 488.9h1.3v1.3h-1.3zM330.5 487.0h1.3v1.3h-1.3zM345.4 488.2h1.3v1.3h-1.3zM334.3 485.3h1.3v1.3h-1.3zM336.1 486.1h1.3v1.3h-1.3zM326.6 486.1h1.3v1.3h-1.3zM319.1 488.1h1.3v1.3h-1.3zM319.4 488.6h1.3v1.3h-1.3zM322.4 489.4h1.3v1.3h-1.3zM330.1 489.2h1.3v1.3h-1.3zM320.3 488.1h1.3v1.3h-1.3zM332.9 487.5h1.3v1.3h-1.3zM327.1 485.8h1.3v1.3h-1.3zM319.2 484.9h1.3v1.3h-1.3zM330.4 481.8h1.3v1.3h-1.3zM322.7 488.3h1.3v1.3h-1.3zM328.0 486.5h1.3v1.3h-1.3zM322.5 487.3h1.3v1.3h-1.3zM333.4 485.2h1.3v1.3h-1.3zM327.0 486.2h1.3v1.3h-1.3zM319.3 483.1h1.3v1.3h-1.3zM321.9 485.5h1.3v1.3h-1.3zM320.8 486.9h1.3v1.3h-1.3zM330.0 488.2h1.3v1.3h-1.3zM330.3 484.7h1.3v1.3h-1.3zM337.4 487.7h1.3v1.3h-1.3zM332.9 484.5h1.3v1.3h-1.3zM335.3 491.5h1.3v1.3h-1.3z" fill="#262626"/>
<path d="M384.8 489.2h1.2v1.2h-1.2zM352.5 487.3h1.2v1.2h-1.2zM368.0 488.3h1.2v1.2h-1.2zM374.3 487.5h1.2v1.2h-1.2zM342.9 484.7h1.2v1.2h-1.2zM369.3 491.9h1.2v1.2h-1.2zM340.6 488.0h1.2v1.2h-1.2zM321.4 487.7h1.2v1.2h-1.2zM368.4 485.3h1.2v1.2h-1.2zM369.5 484.3h1.2v1.2h-1.2zM394.3 490.2h1.2v1.2h-1.2zM339.2 485.0h1.2v1.2h-1.2zM395.5 487.9h1.2v1.2h-1.2zM368.4 486.0h1.2v1.2h-1.2zM400.1 487.5h1.2v1.2h-1.2zM395.4 484.7h1.2v1.2h-1.2zM371.6 487.8h1.2v1.2h-1.2zM400.0 483.7h1.2v1.2h-1.2zM363.8 485.7h1.2v1.2h-1.2zM370.0 486.7h1.2v1.2h-1.2zM382.4 488.6h1.2v1.2h-1.2zM377.8 486.9h1.2v1.2h-1.2zM395.9 489.8h1.2v1.2h-1.2zM371.8 485.4h1.2v1.2h-1.2zM358.4 486.7h1.2v1.2h-1.2zM367.3 484.1h1.2v1.2h-1.2zM394.8 484.1h1.2v1.2h-1.2zM338.3 487.5h1.2v1.2h-1.2zM335.6 484.3h1.2v1.2h-1.2zM361.4 491.2h1.2v1.2h-1.2zM390.0 485.7h1.2v1.2h-1.2zM325.0 485.9h1.2v1.2h-1.2zM371.1 485.8h1.2v1.2h-1.2zM353.9 485.1h1.2v1.2h-1.2zM375.1 488.6h1.2v1.2h-1.2zM338.2 489.5h1.2v1.2h-1.2zM345.0 486.4h1.2v1.2h-1.2zM371.4 483.2h1.2v1.2h-1.2zM372.4 486.3h1.2v1.2h-1.2zM363.5 489.2h1.2v1.2h-1.2zM353.7 490.6h1.2v1.2h-1.2zM371.4 487.3h1.2v1.2h-1.2zM360.8 487.2h1.2v1.2h-1.2zM340.3 485.5h1.2v1.2h-1.2zM404.8 488.1h1.2v1.2h-1.2zM344.7 486.8h1.2v1.2h-1.2zM372.9 488.1h1.2v1.2h-1.2zM341.5 487.2h1.2v1.2h-1.2zM331.4 485.5h1.2v1.2h-1.2zM363.3 489.7h1.2v1.2h-1.2zM367.4 490.3h1.2v1.2h-1.2zM381.5 489.6h1.2v1.2h-1.2zM365.4 483.4h1.2v1.2h-1.2zM355.1 488.2h1.2v1.2h-1.2zM359.0 486.3h1.2v1.2h-1.2zM375.9 487.8h1.2v1.2h-1.2zM352.7 485.4h1.2v1.2h-1.2zM343.2 486.6h1.2v1.2h-1.2zM365.8 487.6h1.2v1.2h-1.2zM368.9 487.2h1.2v1.2h-1.2zM399.1 486.8h1.2v1.2h-1.2zM375.1 484.8h1.2v1.2h-1.2zM382.0 486.8h1.2v1.2h-1.2zM327.3 487.5h1.2v1.2h-1.2zM346.2 489.6h1.2v1.2h-1.2zM380.7 487.4h1.2v1.2h-1.2zM357.1 486.8h1.2v1.2h-1.2zM376.1 484.7h1.2v1.2h-1.2zM378.6 484.2h1.2v1.2h-1.2zM353.2 486.5h1.2v1.2h-1.2zM377.7 487.6h1.2v1.2h-1.2zM347.4 487.7h1.2v1.2h-1.2zM379.1 486.8h1.2v1.2h-1.2zM370.9 486.0h1.2v1.2h-1.2zM377.6 489.6h1.2v1.2h-1.2zM343.9 486.0h1.2v1.2h-1.2zM360.3 487.9h1.2v1.2h-1.2zM360.3 485.2h1.2v1.2h-1.2zM325.3 484.8h1.2v1.2h-1.2zM398.0 488.0h1.2v1.2h-1.2zM328.1 490.7h1.2v1.2h-1.2zM355.6 486.1h1.2v1.2h-1.2zM365.0 487.1h1.2v1.2h-1.2zM358.6 486.9h1.2v1.2h-1.2zM393.1 488.8h1.2v1.2h-1.2zM349.8 486.7h1.2v1.2h-1.2zM347.6 486.1h1.2v1.2h-1.2zM367.1 486.4h1.2v1.2h-1.2zM387.8 485.2h1.2v1.2h-1.2zM381.6 488.5h1.2v1.2h-1.2zM360.7 486.4h1.2v1.2h-1.2zM388.1 486.3h1.2v1.2h-1.2zM360.1 487.4h1.2v1.2h-1.2zM377.3 488.2h1.2v1.2h-1.2zM329.0 486.2h1.2v1.2h-1.2zM383.1 488.1h1.2v1.2h-1.2zM352.4 486.1h1.2v1.2h-1.2zM406.8 484.3h1.2v1.2h-1.2zM382.7 485.9h1.2v1.2h-1.2zM355.1 489.5h1.2v1.2h-1.2zM338.6 485.1h1.2v1.2h-1.2zM349.3 486.5h1.2v1.2h-1.2zM370.9 487.8h1.2v1.2h-1.2zM386.3 486.7h1.2v1.2h-1.2zM399.5 487.1h1.2v1.2h-1.2zM353.4 488.3h1.2v1.2h-1.2zM390.4 487.6h1.2v1.2h-1.2zM402.5 487.2h1.2v1.2h-1.2zM348.4 487.2h1.2v1.2h-1.2zM339.7 489.7h1.2v1.2h-1.2zM374.9 485.2h1.2v1.2h-1.2zM368.3 485.1h1.2v1.2h-1.2zM384.5 488.8h1.2v1.2h-1.2zM369.6 489.3h1.2v1.2h-1.2zM384.6 484.5h1.2v1.2h-1.2zM352.6 483.9h1.2v1.2h-1.2zM345.5 482.8h1.2v1.2h-1.2zM333.4 485.4h1.2v1.2h-1.2zM334.7 486.2h1.2v1.2h-1.2zM393.6 486.4h1.2v1.2h-1.2zM383.0 489.2h1.2v1.2h-1.2zM352.1 489.9h1.2v1.2h-1.2z" fill="#262626"/>
<path d="M323.4 486.9h1.4v1.4h-1.4zM324.4 489.4h1.4v1.4h-1.4zM320.5 488.6h1.4v1.4h-1.4zM322.3 487.2h1.4v1.4h-1.4zM321.0 482.5h1.4v1.4h-1.4zM326.4 488.4h1.4v1.4h-1.4zM320.9 485.4h1.4v1.4h-1.4zM320.5 486.9h1.4v1.4h-1.4zM328.6 486.8h1.4v1.4h-1.4zM319.3 488.3h1.4v1.4h-1.4zM321.3 484.2h1.4v1.4h-1.4zM324.5 487.0h1.4v1.4h-1.4zM323.9 488.3h1.4v1.4h-1.4zM325.9 483.3h1.4v1.4h-1.4zM323.9 489.1h1.4v1.4h-1.4zM326.6 485.2h1.4v1.4h-1.4zM319.0 485.0h1.4v1.4h-1.4zM324.5 486.6h1.4v1.4h-1.4zM325.5 486.7h1.4v1.4h-1.4zM320.4 485.0h1.4v1.4h-1.4zM322.9 488.5h1.4v1.4h-1.4zM327.2 485.2h1.4v1.4h-1.4zM324.6 486.9h1.4v1.4h-1.4zM320.6 484.9h1.4v1.4h-1.4zM327.4 486.2h1.4v1.4h-1.4zM323.3 487.8h1.4v1.4h-1.4zM324.4 488.2h1.4v1.4h-1.4zM321.5 486.3h1.4v1.4h-1.4zM324.1 487.6h1.4v1.4h-1.4zM321.7 484.0h1.4v1.4h-1.4zM325.6 488.5h1.4v1.4h-1.4zM325.8 486.8h1.4v1.4h-1.4zM319.0 486.3h1.4v1.4h-1.4zM328.5 487.5h1.4v1.4h-1.4zM324.1 484.1h1.4v1.4h-1.4zM321.9 488.7h1.4v1.4h-1.4zM324.3 486.8h1.4v1.4h-1.4zM326.6 488.3h1.4v1.4h-1.4zM324.9 486.7h1.4v1.4h-1.4zM324.5 488.9h1.4v1.4h-1.4zM324.3 484.8h1.4v1.4h-1.4zM323.1 486.5h1.4v1.4h-1.4zM324.5 489.3h1.4v1.4h-1.4zM323.3 486.2h1.4v1.4h-1.4zM325.3 487.8h1.4v1.4h-1.4zM321.6 487.8h1.4v1.4h-1.4zM324.0 487.6h1.4v1.4h-1.4zM319.7 483.5h1.4v1.4h-1.4zM319.8 484.0h1.4v1.4h-1.4zM325.9 488.8h1.4v1.4h-1.4zM320.3 489.6h1.4v1.4h-1.4zM320.7 485.6h1.4v1.4h-1.4zM328.9 484.7h1.4v1.4h-1.4zM325.2 488.5h1.4v1.4h-1.4zM326.3 488.2h1.4v1.4h-1.4zM324.1 489.8h1.4v1.4h-1.4zM323.3 487.2h1.4v1.4h-1.4zM324.5 486.4h1.4v1.4h-1.4zM323.1 489.2h1.4v1.4h-1.4zM327.5 488.1h1.4v1.4h-1.4z" fill="#000"/>
<path d="M345.2 516.8h1.3v1.3h-1.3zM326.9 496.0h1.3v1.3h-1.3zM328.2 502.6h1.3v1.3h-1.3zM343.2 511.8h1.3v1.3h-1.3zM335.4 507.8h1.3v1.3h-1.3zM334.9 505.9h1.3v1.3h-1.3zM337.4 503.7h1.3v1.3h-1.3zM339.0 517.7h1.3v1.3h-1.3zM327.0 502.9h1.3v1.3h-1.3zM324.6 495.0h1.3v1.3h-1.3zM331.3 503.3h1.3v1.3h-1.3zM341.3 511.1h1.3v1.3h-1.3zM334.7 505.3h1.3v1.3h-1.3zM342.4 512.8h1.3v1.3h-1.3zM328.4 501.1h1.3v1.3h-1.3zM347.4 513.4h1.3v1.3h-1.3zM328.0 491.6h1.3v1.3h-1.3zM338.9 506.3h1.3v1.3h-1.3zM330.1 494.9h1.3v1.3h-1.3zM336.3 507.1h1.3v1.3h-1.3zM325.7 496.2h1.3v1.3h-1.3zM337.0 500.3h1.3v1.3h-1.3zM336.1 520.5h1.3v1.3h-1.3zM344.7 519.8h1.3v1.3h-1.3zM322.2 492.1h1.3v1.3h-1.3zM350.9 518.4h1.3v1.3h-1.3zM336.2 500.0h1.3v1.3h-1.3zM328.0 498.4h1.3v1.3h-1.3zM342.8 513.0h1.3v1.3h-1.3zM327.8 490.8h1.3v1.3h-1.3zM338.8 515.3h1.3v1.3h-1.3zM343.6 506.8h1.3v1.3h-1.3zM336.2 504.0h1.3v1.3h-1.3zM333.4 504.5h1.3v1.3h-1.3zM344.3 505.5h1.3v1.3h-1.3zM342.3 517.4h1.3v1.3h-1.3zM332.3 498.9h1.3v1.3h-1.3zM323.4 496.3h1.3v1.3h-1.3zM325.2 498.3h1.3v1.3h-1.3zM333.2 519.5h1.3v1.3h-1.3zM331.7 499.7h1.3v1.3h-1.3zM343.4 519.4h1.3v1.3h-1.3zM344.9 516.3h1.3v1.3h-1.3zM348.0 518.4h1.3v1.3h-1.3zM342.2 513.3h1.3v1.3h-1.3zM332.3 509.2h1.3v1.3h-1.3zM344.1 516.0h1.3v1.3h-1.3zM338.0 508.7h1.3v1.3h-1.3zM329.8 488.8h1.3v1.3h-1.3zM339.7 516.7h1.3v1.3h-1.3zM348.1 519.3h1.3v1.3h-1.3zM333.0 515.7h1.3v1.3h-1.3zM341.6 511.1h1.3v1.3h-1.3zM334.2 508.5h1.3v1.3h-1.3zM350.0 515.2h1.3v1.3h-1.3zM349.9 517.6h1.3v1.3h-1.3zM345.0 516.5h1.3v1.3h-1.3zM342.9 511.4h1.3v1.3h-1.3zM334.5 505.6h1.3v1.3h-1.3zM333.6 514.7h1.3v1.3h-1.3zM338.1 512.9h1.3v1.3h-1.3zM324.2 489.7h1.3v1.3h-1.3zM333.5 508.1h1.3v1.3h-1.3zM347.6 520.2h1.3v1.3h-1.3zM341.9 518.7h1.3v1.3h-1.3zM334.1 510.4h1.3v1.3h-1.3zM322.3 493.5h1.3v1.3h-1.3zM333.4 501.3h1.3v1.3h-1.3zM342.2 513.2h1.3v1.3h-1.3zM335.5 508.3h1.3v1.3h-1.3zM318.9 491.1h1.3v1.3h-1.3zM333.4 504.6h1.3v1.3h-1.3zM332.3 500.5h1.3v1.3h-1.3zM344.2 509.1h1.3v1.3h-1.3zM343.9 507.5h1.3v1.3h-1.3zM325.1 505.8h1.3v1.3h-1.3zM342.8 517.8h1.3v1.3h-1.3zM336.4 504.8h1.3v1.3h-1.3zM327.7 497.2h1.3v1.3h-1.3zM340.0 512.1h1.3v1.3h-1.3zM333.2 500.4h1.3v1.3h-1.3zM339.3 520.7h1.3v1.3h-1.3zM326.1 501.8h1.3v1.3h-1.3zM332.0 498.6h1.3v1.3h-1.3zM343.7 513.3h1.3v1.3h-1.3zM344.7 523.0h1.3v1.3h-1.3zM342.4 519.9h1.3v1.3h-1.3zM334.4 506.2h1.3v1.3h-1.3zM331.5 503.1h1.3v1.3h-1.3zM342.7 514.6h1.3v1.3h-1.3zM343.4 508.3h1.3v1.3h-1.3zM340.5 511.5h1.3v1.3h-1.3zM341.6 509.0h1.3v1.3h-1.3zM326.8 492.9h1.3v1.3h-1.3zM331.4 503.9h1.3v1.3h-1.3zM333.2 498.4h1.3v1.3h-1.3zM348.3 520.9h1.3v1.3h-1.3zM330.8 498.6h1.3v1.3h-1.3zM323.7 491.8h1.3v1.3h-1.3zM347.3 518.3h1.3v1.3h-1.3zM348.9 512.9h1.3v1.3h-1.3zM346.9 516.9h1.3v1.3h-1.3zM337.3 515.6h1.3v1.3h-1.3zM345.0 519.9h1.3v1.3h-1.3zM339.9 504.0h1.3v1.3h-1.3zM342.2 506.2h1.3v1.3h-1.3zM328.8 494.9h1.3v1.3h-1.3zM327.9 489.6h1.3v1.3h-1.3zM347.2 518.2h1.3v1.3h-1.3zM333.9 505.9h1.3v1.3h-1.3zM338.6 512.2h1.3v1.3h-1.3zM327.2 498.1h1.3v1.3h-1.3zM342.3 508.9h1.3v1.3h-1.3zM339.0 517.9h1.3v1.3h-1.3zM338.4 516.8h1.3v1.3h-1.3zM345.3 516.9h1.3v1.3h-1.3zM323.7 487.5h1.3v1.3h-1.3zM333.6 495.1h1.3v1.3h-1.3zM332.3 500.6h1.3v1.3h-1.3zM343.9 516.5h1.3v1.3h-1.3zM335.0 494.1h1.3v1.3h-1.3zM326.9 492.9h1.3v1.3h-1.3zM342.0 520.7h1.3v1.3h-1.3zM332.9 498.2h1.3v1.3h-1.3zM352.5 520.8h1.3v1.3h-1.3zM323.5 485.3h1.3v1.3h-1.3zM330.2 501.5h1.3v1.3h-1.3zM328.8 491.1h1.3v1.3h-1.3zM345.3 517.1h1.3v1.3h-1.3zM331.4 499.4h1.3v1.3h-1.3zM322.6 493.2h1.3v1.3h-1.3zM345.8 516.6h1.3v1.3h-1.3zM338.4 518.5h1.3v1.3h-1.3zM344.1 514.1h1.3v1.3h-1.3zM331.3 506.9h1.3v1.3h-1.3zM337.6 515.5h1.3v1.3h-1.3zM342.8 516.0h1.3v1.3h-1.3zM327.6 502.6h1.3v1.3h-1.3zM341.3 500.5h1.3v1.3h-1.3zM337.3 517.1h1.3v1.3h-1.3z" fill="#262626"/>
<path d="M358.9 510.8h1.2v1.2h-1.2zM348.4 511.0h1.2v1.2h-1.2zM333.0 501.3h1.2v1.2h-1.2zM354.6 513.8h1.2v1.2h-1.2zM345.7 516.2h1.2v1.2h-1.2zM329.9 514.0h1.2v1.2h-1.2zM361.9 515.1h1.2v1.2h-1.2zM336.4 501.6h1.2v1.2h-1.2zM338.6 510.4h1.2v1.2h-1.2zM354.9 521.2h1.2v1.2h-1.2zM336.6 499.4h1.2v1.2h-1.2zM339.4 509.7h1.2v1.2h-1.2zM351.6 515.2h1.2v1.2h-1.2zM349.7 515.7h1.2v1.2h-1.2zM350.3 503.2h1.2v1.2h-1.2zM348.1 514.7h1.2v1.2h-1.2zM337.5 498.1h1.2v1.2h-1.2zM341.4 507.6h1.2v1.2h-1.2zM336.9 517.2h1.2v1.2h-1.2zM326.2 495.7h1.2v1.2h-1.2zM345.1 510.3h1.2v1.2h-1.2zM351.7 522.0h1.2v1.2h-1.2zM349.3 516.4h1.2v1.2h-1.2zM359.0 521.7h1.2v1.2h-1.2zM364.0 509.5h1.2v1.2h-1.2zM349.2 516.3h1.2v1.2h-1.2zM348.7 509.1h1.2v1.2h-1.2zM335.6 516.1h1.2v1.2h-1.2zM345.9 517.2h1.2v1.2h-1.2zM360.4 506.6h1.2v1.2h-1.2zM350.5 500.1h1.2v1.2h-1.2zM346.0 505.1h1.2v1.2h-1.2zM342.8 516.0h1.2v1.2h-1.2zM365.6 518.4h1.2v1.2h-1.2zM344.4 504.6h1.2v1.2h-1.2zM330.9 499.2h1.2v1.2h-1.2zM356.5 517.3h1.2v1.2h-1.2zM341.2 508.9h1.2v1.2h-1.2zM350.2 516.1h1.2v1.2h-1.2zM348.9 519.5h1.2v1.2h-1.2zM356.8 520.0h1.2v1.2h-1.2zM360.7 519.8h1.2v1.2h-1.2zM359.1 522.0h1.2v1.2h-1.2zM349.6 516.0h1.2v1.2h-1.2zM342.6 513.4h1.2v1.2h-1.2zM339.8 508.6h1.2v1.2h-1.2zM350.6 511.2h1.2v1.2h-1.2zM346.6 509.9h1.2v1.2h-1.2zM325.1 500.0h1.2v1.2h-1.2zM349.0 503.9h1.2v1.2h-1.2zM328.7 513.1h1.2v1.2h-1.2zM339.6 506.0h1.2v1.2h-1.2zM344.0 509.6h1.2v1.2h-1.2zM348.7 521.9h1.2v1.2h-1.2zM346.4 504.4h1.2v1.2h-1.2zM363.2 517.7h1.2v1.2h-1.2zM353.5 506.3h1.2v1.2h-1.2zM362.8 519.4h1.2v1.2h-1.2zM358.2 522.4h1.2v1.2h-1.2zM337.0 508.1h1.2v1.2h-1.2zM343.8 512.0h1.2v1.2h-1.2zM353.0 514.4h1.2v1.2h-1.2zM339.8 511.4h1.2v1.2h-1.2zM353.1 517.6h1.2v1.2h-1.2zM335.6 503.3h1.2v1.2h-1.2zM351.5 515.4h1.2v1.2h-1.2zM334.2 505.4h1.2v1.2h-1.2zM335.0 501.5h1.2v1.2h-1.2zM348.8 506.9h1.2v1.2h-1.2zM365.6 523.1h1.2v1.2h-1.2zM340.0 520.6h1.2v1.2h-1.2zM351.7 510.8h1.2v1.2h-1.2zM342.0 503.6h1.2v1.2h-1.2zM358.2 507.7h1.2v1.2h-1.2zM345.2 506.2h1.2v1.2h-1.2zM350.5 496.7h1.2v1.2h-1.2zM359.3 525.2h1.2v1.2h-1.2zM327.5 496.3h1.2v1.2h-1.2zM342.4 514.5h1.2v1.2h-1.2zM348.8 505.8h1.2v1.2h-1.2zM345.8 508.0h1.2v1.2h-1.2zM336.9 508.9h1.2v1.2h-1.2zM361.7 517.3h1.2v1.2h-1.2zM343.5 506.4h1.2v1.2h-1.2zM363.3 515.8h1.2v1.2h-1.2zM333.7 519.9h1.2v1.2h-1.2zM348.7 507.1h1.2v1.2h-1.2zM341.8 499.8h1.2v1.2h-1.2zM349.6 506.9h1.2v1.2h-1.2zM333.5 502.8h1.2v1.2h-1.2z" fill="#262626"/>
<path d="M351.2 513.0h1.3v1.3h-1.3zM360.5 513.1h1.3v1.3h-1.3zM344.1 510.7h1.3v1.3h-1.3zM352.1 525.5h1.3v1.3h-1.3zM350.6 517.6h1.3v1.3h-1.3zM344.9 522.5h1.3v1.3h-1.3zM345.8 515.4h1.3v1.3h-1.3zM343.2 506.2h1.3v1.3h-1.3zM350.8 518.5h1.3v1.3h-1.3zM332.4 510.6h1.3v1.3h-1.3zM337.7 515.8h1.3v1.3h-1.3zM338.2 522.3h1.3v1.3h-1.3zM360.5 513.8h1.3v1.3h-1.3zM348.7 511.3h1.3v1.3h-1.3zM361.7 511.1h1.3v1.3h-1.3zM340.5 517.7h1.3v1.3h-1.3zM346.5 516.2h1.3v1.3h-1.3zM338.5 517.2h1.3v1.3h-1.3zM342.4 515.2h1.3v1.3h-1.3zM358.5 514.1h1.3v1.3h-1.3zM352.7 513.9h1.3v1.3h-1.3zM358.6 513.1h1.3v1.3h-1.3zM338.8 516.2h1.3v1.3h-1.3zM361.0 515.3h1.3v1.3h-1.3zM339.7 516.8h1.3v1.3h-1.3zM341.3 519.3h1.3v1.3h-1.3zM341.6 519.6h1.3v1.3h-1.3zM357.4 520.7h1.3v1.3h-1.3zM363.6 519.5h1.3v1.3h-1.3zM367.0 525.3h1.3v1.3h-1.3zM345.7 522.4h1.3v1.3h-1.3zM341.1 516.5h1.3v1.3h-1.3zM347.6 513.0h1.3v1.3h-1.3zM351.6 517.2h1.3v1.3h-1.3zM368.4 522.3h1.3v1.3h-1.3zM346.0 513.7h1.3v1.3h-1.3zM343.1 513.6h1.3v1.3h-1.3zM341.0 517.8h1.3v1.3h-1.3zM335.0 515.8h1.3v1.3h-1.3zM353.4 514.2h1.3v1.3h-1.3zM337.3 514.7h1.3v1.3h-1.3zM357.0 513.1h1.3v1.3h-1.3zM364.0 507.7h1.3v1.3h-1.3zM340.4 521.3h1.3v1.3h-1.3zM361.9 516.5h1.3v1.3h-1.3zM332.0 516.0h1.3v1.3h-1.3zM339.4 513.6h1.3v1.3h-1.3zM344.7 514.1h1.3v1.3h-1.3zM348.0 518.5h1.3v1.3h-1.3zM345.6 507.0h1.3v1.3h-1.3zM346.7 502.1h1.3v1.3h-1.3zM349.2 515.1h1.3v1.3h-1.3zM365.0 525.7h1.3v1.3h-1.3zM350.6 514.8h1.3v1.3h-1.3zM347.6 516.8h1.3v1.3h-1.3zM342.6 517.3h1.3v1.3h-1.3zM356.8 512.2h1.3v1.3h-1.3zM359.0 518.5h1.3v1.3h-1.3zM370.7 518.8h1.3v1.3h-1.3zM361.1 511.8h1.3v1.3h-1.3zM372.6 518.2h1.3v1.3h-1.3zM350.1 510.4h1.3v1.3h-1.3zM354.6 521.0h1.3v1.3h-1.3zM348.4 514.9h1.3v1.3h-1.3zM344.2 519.9h1.3v1.3h-1.3zM343.6 513.5h1.3v1.3h-1.3zM351.4 512.5h1.3v1.3h-1.3zM357.9 508.1h1.3v1.3h-1.3zM354.5 524.8h1.3v1.3h-1.3zM344.2 519.0h1.3v1.3h-1.3zM356.8 515.1h1.3v1.3h-1.3zM346.3 516.6h1.3v1.3h-1.3zM375.7 512.9h1.3v1.3h-1.3zM346.9 515.1h1.3v1.3h-1.3zM343.1 512.2h1.3v1.3h-1.3zM342.1 518.7h1.3v1.3h-1.3zM335.8 511.9h1.3v1.3h-1.3zM348.3 511.9h1.3v1.3h-1.3zM340.9 516.4h1.3v1.3h-1.3zM343.0 512.7h1.3v1.3h-1.3zM350.8 513.1h1.3v1.3h-1.3zM346.0 519.7h1.3v1.3h-1.3zM355.7 519.0h1.3v1.3h-1.3zM359.4 518.7h1.3v1.3h-1.3zM377.0 522.6h1.3v1.3h-1.3zM364.6 524.4h1.3v1.3h-1.3zM344.3 521.5h1.3v1.3h-1.3zM341.8 514.4h1.3v1.3h-1.3zM354.3 518.3h1.3v1.3h-1.3zM342.1 509.4h1.3v1.3h-1.3zM356.6 517.8h1.3v1.3h-1.3zM350.1 512.5h1.3v1.3h-1.3zM341.0 517.5h1.3v1.3h-1.3zM330.2 525.0h1.3v1.3h-1.3zM348.9 524.3h1.3v1.3h-1.3zM358.2 514.4h1.3v1.3h-1.3zM353.8 511.2h1.3v1.3h-1.3zM339.6 525.8h1.3v1.3h-1.3zM343.4 513.2h1.3v1.3h-1.3zM353.4 518.0h1.3v1.3h-1.3zM358.4 510.2h1.3v1.3h-1.3zM346.2 511.4h1.3v1.3h-1.3zM349.0 516.2h1.3v1.3h-1.3zM339.4 507.5h1.3v1.3h-1.3zM335.2 523.4h1.3v1.3h-1.3zM345.0 511.3h1.3v1.3h-1.3zM350.5 511.2h1.3v1.3h-1.3zM357.9 523.0h1.3v1.3h-1.3zM349.1 514.4h1.3v1.3h-1.3zM330.6 520.7h1.3v1.3h-1.3zM368.9 519.0h1.3v1.3h-1.3zM343.4 522.6h1.3v1.3h-1.3zM344.9 510.6h1.3v1.3h-1.3zM347.6 521.4h1.3v1.3h-1.3zM330.6 524.0h1.3v1.3h-1.3zM364.9 517.7h1.3v1.3h-1.3zM343.9 509.4h1.3v1.3h-1.3zM354.1 516.2h1.3v1.3h-1.3zM361.1 518.9h1.3v1.3h-1.3zM330.7 525.7h1.3v1.3h-1.3zM343.9 515.0h1.3v1.3h-1.3zM359.4 520.7h1.3v1.3h-1.3zM338.4 515.8h1.3v1.3h-1.3zM345.9 517.0h1.3v1.3h-1.3zM347.4 521.8h1.3v1.3h-1.3zM355.9 513.5h1.3v1.3h-1.3zM344.4 523.0h1.3v1.3h-1.3zM365.2 509.2h1.3v1.3h-1.3zM367.8 514.5h1.3v1.3h-1.3zM346.9 515.3h1.3v1.3h-1.3zM354.7 516.7h1.3v1.3h-1.3zM348.4 512.4h1.3v1.3h-1.3zM363.3 520.0h1.3v1.3h-1.3zM346.1 518.7h1.3v1.3h-1.3zM347.3 523.1h1.3v1.3h-1.3zM351.7 507.8h1.3v1.3h-1.3zM354.5 516.6h1.3v1.3h-1.3zM351.3 523.6h1.3v1.3h-1.3zM346.1 521.7h1.3v1.3h-1.3zM349.0 517.4h1.3v1.3h-1.3zM343.8 517.3h1.3v1.3h-1.3zM345.8 522.6h1.3v1.3h-1.3zM326.0 521.3h1.3v1.3h-1.3zM348.1 511.7h1.3v1.3h-1.3zM356.6 517.7h1.3v1.3h-1.3zM354.4 525.9h1.3v1.3h-1.3zM351.0 508.4h1.3v1.3h-1.3zM333.0 517.6h1.3v1.3h-1.3zM347.9 507.2h1.3v1.3h-1.3zM327.3 514.7h1.3v1.3h-1.3zM344.0 524.6h1.3v1.3h-1.3zM337.3 515.2h1.3v1.3h-1.3zM359.7 508.3h1.3v1.3h-1.3z" fill="#262626"/>
<path d="M371.5 505.3h1.2v1.2h-1.2zM347.0 522.0h1.2v1.2h-1.2zM399.3 515.9h1.2v1.2h-1.2zM374.3 494.7h1.2v1.2h-1.2zM359.3 502.9h1.2v1.2h-1.2zM345.2 504.4h1.2v1.2h-1.2zM362.0 505.6h1.2v1.2h-1.2zM344.1 496.4h1.2v1.2h-1.2zM397.1 510.3h1.2v1.2h-1.2zM354.0 506.8h1.2v1.2h-1.2zM361.8 508.0h1.2v1.2h-1.2zM350.6 516.6h1.2v1.2h-1.2zM396.0 512.7h1.2v1.2h-1.2zM397.6 518.9h1.2v1.2h-1.2zM372.2 509.2h1.2v1.2h-1.2zM381.5 504.1h1.2v1.2h-1.2zM344.6 506.9h1.2v1.2h-1.2zM389.0 514.3h1.2v1.2h-1.2zM342.4 519.3h1.2v1.2h-1.2zM342.8 509.1h1.2v1.2h-1.2zM350.6 501.9h1.2v1.2h-1.2zM353.9 512.3h1.2v1.2h-1.2z" fill="#262626"/>
<path d="M335.6 510.1h1.0v1.0h-1.0zM329.9 495.6h1.0v1.0h-1.0zM330.4 498.0h1.0v1.0h-1.0zM330.8 496.7h1.0v1.0h-1.0zM333.0 504.8h1.0v1.0h-1.0zM334.1 506.4h1.0v1.0h-1.0zM335.7 515.9h1.0v1.0h-1.0zM332.9 509.2h1.0v1.0h-1.0zM333.6 506.8h1.0v1.0h-1.0zM338.6 516.9h1.0v1.0h-1.0zM334.7 509.6h1.0v1.0h-1.0zM331.2 497.7h1.0v1.0h-1.0zM329.1 493.9h1.0v1.0h-1.0zM331.7 500.2h1.0v1.0h-1.0zM335.4 516.0h1.0v1.0h-1.0zM330.6 502.5h1.0v1.0h-1.0zM335.1 513.0h1.0v1.0h-1.0zM330.4 500.1h1.0v1.0h-1.0zM329.8 498.0h1.0v1.0h-1.0zM334.1 509.0h1.0v1.0h-1.0zM335.7 518.0h1.0v1.0h-1.0zM329.2 495.3h1.0v1.0h-1.0zM334.3 509.5h1.0v1.0h-1.0zM330.1 495.7h1.0v1.0h-1.0zM331.0 501.9h1.0v1.0h-1.0zM332.9 506.9h1.0v1.0h-1.0zM329.7 497.0h1.0v1.0h-1.0zM334.5 510.5h1.0v1.0h-1.0zM330.3 494.5h1.0v1.0h-1.0zM328.3 495.8h1.0v1.0h-1.0z" fill="#70c040"/>
<ellipse cx="352" cy="542" rx="11" ry="12" fill="#0808f0"/>
<path d="M364.3 542.4h1.3v1.3h-1.3zM345.4 539.1h1.3v1.3h-1.3zM364.7 541.0h1.3v1.3h-1.3zM363.5 554.3h1.3v1.3h-1.3zM367.1 544.7h1.3v1.3h-1.3zM359.1 529.7h1.3v1.3h-1.3zM355.3 542.5h1.3v1.3h-1.3zM353.4 537.6h1.3v1.3h-1.3zM352.8 540.9h1.3v1.3h-1.3zM348.3 548.1h1.3v1.3h-1.3zM354.6 553.4h1.3v1.3h-1.3zM355.4 556.7h1.3v1.3h-1.3zM340.1 537.7h1.3v1.3h-1.3zM352.4 529.2h1.3v1.3h-1.3zM345.3 543.9h1.3v1.3h-1.3zM356.0 528.6h1.3v1.3h-1.3zM334.7 545.7h1.3v1.3h-1.3zM356.6 550.1h1.3v1.3h-1.3zM346.0 536.3h1.3v1.3h-1.3zM341.3 529.4h1.3v1.3h-1.3zM359.0 533.5h1.3v1.3h-1.3zM337.5 536.2h1.3v1.3h-1.3zM351.5 545.1h1.3v1.3h-1.3zM356.8 553.1h1.3v1.3h-1.3zM338.0 527.1h1.3v1.3h-1.3zM350.8 548.0h1.3v1.3h-1.3zM346.0 544.9h1.3v1.3h-1.3zM350.8 553.6h1.3v1.3h-1.3zM349.5 537.7h1.3v1.3h-1.3zM357.0 552.0h1.3v1.3h-1.3zM345.0 541.2h1.3v1.3h-1.3zM344.3 531.1h1.3v1.3h-1.3zM348.4 538.9h1.3v1.3h-1.3zM343.2 540.9h1.3v1.3h-1.3zM350.8 545.9h1.3v1.3h-1.3zM346.0 528.4h1.3v1.3h-1.3zM350.3 549.2h1.3v1.3h-1.3zM364.8 541.4h1.3v1.3h-1.3zM348.9 534.9h1.3v1.3h-1.3zM367.1 536.4h1.3v1.3h-1.3zM346.4 541.7h1.3v1.3h-1.3zM349.3 542.9h1.3v1.3h-1.3zM357.0 546.4h1.3v1.3h-1.3zM357.1 550.9h1.3v1.3h-1.3zM348.4 541.4h1.3v1.3h-1.3zM347.8 540.5h1.3v1.3h-1.3zM347.6 550.0h1.3v1.3h-1.3zM362.8 541.8h1.3v1.3h-1.3zM348.6 550.5h1.3v1.3h-1.3zM349.6 547.7h1.3v1.3h-1.3zM345.0 556.0h1.3v1.3h-1.3zM346.9 547.8h1.3v1.3h-1.3zM369.4 546.2h1.3v1.3h-1.3zM349.0 549.6h1.3v1.3h-1.3zM347.7 540.8h1.3v1.3h-1.3zM360.7 527.5h1.3v1.3h-1.3zM360.1 542.9h1.3v1.3h-1.3zM357.6 532.2h1.3v1.3h-1.3zM353.1 548.1h1.3v1.3h-1.3zM350.9 540.1h1.3v1.3h-1.3zM358.7 542.9h1.3v1.3h-1.3zM363.2 551.9h1.3v1.3h-1.3zM350.3 539.8h1.3v1.3h-1.3zM359.0 537.0h1.3v1.3h-1.3zM338.4 554.6h1.3v1.3h-1.3zM337.3 538.2h1.3v1.3h-1.3zM365.2 547.0h1.3v1.3h-1.3zM363.1 557.0h1.3v1.3h-1.3zM353.8 527.7h1.3v1.3h-1.3zM359.5 528.1h1.3v1.3h-1.3zM350.4 543.2h1.3v1.3h-1.3zM355.3 542.0h1.3v1.3h-1.3zM365.1 545.6h1.3v1.3h-1.3zM362.9 541.5h1.3v1.3h-1.3zM352.0 543.9h1.3v1.3h-1.3zM356.8 550.1h1.3v1.3h-1.3zM346.7 548.4h1.3v1.3h-1.3zM358.4 541.1h1.3v1.3h-1.3zM349.4 536.3h1.3v1.3h-1.3zM339.5 544.8h1.3v1.3h-1.3zM353.0 528.0h1.3v1.3h-1.3zM356.2 544.3h1.3v1.3h-1.3zM352.5 556.8h1.3v1.3h-1.3zM356.2 547.1h1.3v1.3h-1.3zM366.4 547.9h1.3v1.3h-1.3zM341.3 554.0h1.3v1.3h-1.3zM359.1 554.3h1.3v1.3h-1.3zM349.9 552.6h1.3v1.3h-1.3zM329.8 528.8h1.3v1.3h-1.3zM357.7 543.9h1.3v1.3h-1.3zM350.1 538.1h1.3v1.3h-1.3zM341.4 542.3h1.3v1.3h-1.3zM357.5 536.5h1.3v1.3h-1.3zM360.0 537.1h1.3v1.3h-1.3zM334.8 552.5h1.3v1.3h-1.3zM351.8 535.6h1.3v1.3h-1.3zM340.6 549.5h1.3v1.3h-1.3zM342.2 528.8h1.3v1.3h-1.3zM343.6 548.2h1.3v1.3h-1.3zM358.0 554.6h1.3v1.3h-1.3zM368.6 546.6h1.3v1.3h-1.3zM355.9 533.6h1.3v1.3h-1.3zM357.4 546.0h1.3v1.3h-1.3zM352.3 539.9h1.3v1.3h-1.3zM364.9 542.7h1.3v1.3h-1.3zM338.7 545.6h1.3v1.3h-1.3zM340.1 544.9h1.3v1.3h-1.3zM356.0 548.0h1.3v1.3h-1.3zM354.8 549.5h1.3v1.3h-1.3zM343.7 539.9h1.3v1.3h-1.3zM350.9 546.8h1.3v1.3h-1.3zM372.4 551.3h1.3v1.3h-1.3zM340.8 546.1h1.3v1.3h-1.3zM369.8 543.4h1.3v1.3h-1.3zM359.8 544.2h1.3v1.3h-1.3zM340.0 543.0h1.3v1.3h-1.3zM347.6 529.5h1.3v1.3h-1.3zM350.3 538.5h1.3v1.3h-1.3zM349.2 549.7h1.3v1.3h-1.3zM340.6 543.2h1.3v1.3h-1.3zM355.8 545.3h1.3v1.3h-1.3zM354.8 543.3h1.3v1.3h-1.3zM345.7 538.3h1.3v1.3h-1.3zM342.1 534.5h1.3v1.3h-1.3zM350.8 550.5h1.3v1.3h-1.3zM359.0 544.1h1.3v1.3h-1.3zM362.1 536.7h1.3v1.3h-1.3zM349.9 530.5h1.3v1.3h-1.3zM350.5 551.3h1.3v1.3h-1.3zM342.5 541.5h1.3v1.3h-1.3zM349.1 541.8h1.3v1.3h-1.3zM347.5 545.2h1.3v1.3h-1.3zM338.7 543.7h1.3v1.3h-1.3zM369.6 531.2h1.3v1.3h-1.3zM360.4 535.3h1.3v1.3h-1.3zM359.0 548.6h1.3v1.3h-1.3zM369.3 548.9h1.3v1.3h-1.3zM347.2 530.1h1.3v1.3h-1.3zM333.7 548.3h1.3v1.3h-1.3zM360.5 537.7h1.3v1.3h-1.3zM340.7 539.4h1.3v1.3h-1.3zM368.3 530.6h1.3v1.3h-1.3zM343.3 547.6h1.3v1.3h-1.3zM345.1 555.5h1.3v1.3h-1.3zM344.1 530.0h1.3v1.3h-1.3zM336.0 540.0h1.3v1.3h-1.3zM363.5 542.4h1.3v1.3h-1.3zM345.6 526.8h1.3v1.3h-1.3zM354.5 535.4h1.3v1.3h-1.3zM337.3 529.3h1.3v1.3h-1.3zM353.7 548.1h1.3v1.3h-1.3zM354.1 554.1h1.3v1.3h-1.3zM359.1 536.2h1.3v1.3h-1.3zM369.6 534.3h1.3v1.3h-1.3zM354.0 542.7h1.3v1.3h-1.3zM363.9 541.8h1.3v1.3h-1.3zM350.9 543.7h1.3v1.3h-1.3zM339.0 550.7h1.3v1.3h-1.3zM347.8 533.3h1.3v1.3h-1.3zM356.9 552.9h1.3v1.3h-1.3zM360.1 532.7h1.3v1.3h-1.3zM344.3 540.3h1.3v1.3h-1.3zM356.2 547.9h1.3v1.3h-1.3zM347.5 552.7h1.3v1.3h-1.3zM359.3 539.2h1.3v1.3h-1.3zM358.6 539.2h1.3v1.3h-1.3zM348.2 551.9h1.3v1.3h-1.3zM355.8 543.6h1.3v1.3h-1.3zM344.0 539.6h1.3v1.3h-1.3zM338.1 543.5h1.3v1.3h-1.3zM341.9 528.3h1.3v1.3h-1.3zM364.6 552.6h1.3v1.3h-1.3zM356.7 542.8h1.3v1.3h-1.3zM351.3 547.3h1.3v1.3h-1.3zM355.9 548.0h1.3v1.3h-1.3zM338.2 541.9h1.3v1.3h-1.3zM351.3 528.6h1.3v1.3h-1.3zM361.8 547.2h1.3v1.3h-1.3zM355.0 552.8h1.3v1.3h-1.3zM358.4 541.1h1.3v1.3h-1.3zM345.4 553.9h1.3v1.3h-1.3zM346.7 534.8h1.3v1.3h-1.3zM341.8 549.2h1.3v1.3h-1.3zM354.5 540.6h1.3v1.3h-1.3zM361.8 533.9h1.3v1.3h-1.3zM360.5 537.0h1.3v1.3h-1.3zM350.2 540.2h1.3v1.3h-1.3zM354.1 556.3h1.3v1.3h-1.3zM345.4 552.6h1.3v1.3h-1.3zM364.9 540.6h1.3v1.3h-1.3zM344.9 530.7h1.3v1.3h-1.3zM349.8 543.5h1.3v1.3h-1.3zM341.8 546.7h1.3v1.3h-1.3zM354.5 552.2h1.3v1.3h-1.3zM373.9 552.5h1.3v1.3h-1.3zM342.9 540.9h1.3v1.3h-1.3zM338.1 538.0h1.3v1.3h-1.3zM336.8 553.7h1.3v1.3h-1.3zM328.7 548.3h1.3v1.3h-1.3zM353.2 526.7h1.3v1.3h-1.3zM360.0 555.3h1.3v1.3h-1.3zM370.6 539.6h1.3v1.3h-1.3zM359.8 544.2h1.3v1.3h-1.3zM367.0 542.2h1.3v1.3h-1.3zM363.6 532.0h1.3v1.3h-1.3zM344.7 531.3h1.3v1.3h-1.3zM349.9 529.5h1.3v1.3h-1.3zM353.4 536.5h1.3v1.3h-1.3zM337.0 544.6h1.3v1.3h-1.3zM363.8 547.4h1.3v1.3h-1.3zM355.4 539.8h1.3v1.3h-1.3zM342.3 531.7h1.3v1.3h-1.3zM340.3 543.7h1.3v1.3h-1.3zM343.9 536.6h1.3v1.3h-1.3zM355.5 530.0h1.3v1.3h-1.3zM339.9 546.8h1.3v1.3h-1.3zM358.1 527.6h1.3v1.3h-1.3zM351.5 542.3h1.3v1.3h-1.3zM354.7 544.9h1.3v1.3h-1.3zM347.3 541.8h1.3v1.3h-1.3zM334.1 544.8h1.3v1.3h-1.3zM331.6 549.4h1.3v1.3h-1.3zM343.8 550.9h1.3v1.3h-1.3zM351.0 547.3h1.3v1.3h-1.3zM346.7 539.6h1.3v1.3h-1.3zM356.7 548.6h1.3v1.3h-1.3zM353.1 549.3h1.3v1.3h-1.3zM365.1 539.5h1.3v1.3h-1.3zM347.2 535.6h1.3v1.3h-1.3zM373.5 539.6h1.3v1.3h-1.3zM347.0 536.2h1.3v1.3h-1.3zM342.7 543.4h1.3v1.3h-1.3zM353.1 532.0h1.3v1.3h-1.3zM370.4 552.8h1.3v1.3h-1.3zM348.3 547.4h1.3v1.3h-1.3zM349.8 537.0h1.3v1.3h-1.3zM342.5 535.3h1.3v1.3h-1.3zM350.3 538.8h1.3v1.3h-1.3zM363.7 533.5h1.3v1.3h-1.3zM359.5 526.6h1.3v1.3h-1.3zM355.9 549.6h1.3v1.3h-1.3zM364.5 537.8h1.3v1.3h-1.3zM340.3 540.6h1.3v1.3h-1.3zM356.4 546.5h1.3v1.3h-1.3zM353.0 540.1h1.3v1.3h-1.3zM355.6 553.6h1.3v1.3h-1.3zM352.4 551.8h1.3v1.3h-1.3zM366.9 544.4h1.3v1.3h-1.3zM359.2 545.7h1.3v1.3h-1.3zM364.5 551.2h1.3v1.3h-1.3zM354.2 554.5h1.3v1.3h-1.3zM364.8 544.7h1.3v1.3h-1.3zM354.5 549.9h1.3v1.3h-1.3zM354.0 539.4h1.3v1.3h-1.3zM339.4 542.7h1.3v1.3h-1.3zM349.9 547.9h1.3v1.3h-1.3zM348.9 542.0h1.3v1.3h-1.3zM360.1 542.5h1.3v1.3h-1.3zM345.7 547.4h1.3v1.3h-1.3zM348.8 532.0h1.3v1.3h-1.3zM340.6 533.6h1.3v1.3h-1.3zM336.5 536.2h1.3v1.3h-1.3zM347.6 540.6h1.3v1.3h-1.3zM358.0 531.4h1.3v1.3h-1.3zM368.3 546.0h1.3v1.3h-1.3zM341.2 547.6h1.3v1.3h-1.3zM370.6 528.0h1.3v1.3h-1.3zM352.9 531.2h1.3v1.3h-1.3zM335.9 548.8h1.3v1.3h-1.3zM360.8 535.3h1.3v1.3h-1.3zM347.5 529.7h1.3v1.3h-1.3zM344.6 539.8h1.3v1.3h-1.3zM349.9 549.5h1.3v1.3h-1.3zM353.9 541.8h1.3v1.3h-1.3zM352.9 548.6h1.3v1.3h-1.3zM357.8 528.3h1.3v1.3h-1.3zM349.7 546.4h1.3v1.3h-1.3zM343.4 527.3h1.3v1.3h-1.3zM341.0 529.7h1.3v1.3h-1.3zM349.4 540.6h1.3v1.3h-1.3zM356.6 550.5h1.3v1.3h-1.3zM354.6 536.0h1.3v1.3h-1.3zM367.9 532.4h1.3v1.3h-1.3zM370.9 531.2h1.3v1.3h-1.3zM356.8 545.4h1.3v1.3h-1.3zM353.7 536.2h1.3v1.3h-1.3zM340.8 556.4h1.3v1.3h-1.3zM356.6 533.2h1.3v1.3h-1.3zM337.7 550.0h1.3v1.3h-1.3zM366.3 541.6h1.3v1.3h-1.3zM347.1 548.1h1.3v1.3h-1.3zM357.1 554.7h1.3v1.3h-1.3zM350.1 535.0h1.3v1.3h-1.3zM351.0 528.4h1.3v1.3h-1.3zM340.0 536.6h1.3v1.3h-1.3zM349.9 542.9h1.3v1.3h-1.3zM336.5 538.5h1.3v1.3h-1.3zM347.8 537.3h1.3v1.3h-1.3zM358.4 534.0h1.3v1.3h-1.3zM354.4 543.8h1.3v1.3h-1.3zM366.5 546.6h1.3v1.3h-1.3zM336.8 542.7h1.3v1.3h-1.3zM345.1 554.0h1.3v1.3h-1.3zM357.4 545.8h1.3v1.3h-1.3zM350.7 534.8h1.3v1.3h-1.3zM363.0 551.5h1.3v1.3h-1.3zM363.7 531.3h1.3v1.3h-1.3zM357.6 542.3h1.3v1.3h-1.3zM340.2 535.9h1.3v1.3h-1.3zM352.9 539.9h1.3v1.3h-1.3zM348.6 539.3h1.3v1.3h-1.3zM351.6 537.7h1.3v1.3h-1.3zM333.5 543.4h1.3v1.3h-1.3zM370.2 540.3h1.3v1.3h-1.3zM353.3 533.8h1.3v1.3h-1.3zM343.1 532.4h1.3v1.3h-1.3zM337.4 542.5h1.3v1.3h-1.3zM341.9 545.3h1.3v1.3h-1.3zM352.7 527.6h1.3v1.3h-1.3zM353.1 537.4h1.3v1.3h-1.3zM339.2 541.7h1.3v1.3h-1.3zM352.0 543.4h1.3v1.3h-1.3zM344.0 553.5h1.3v1.3h-1.3zM343.7 548.5h1.3v1.3h-1.3zM341.0 530.4h1.3v1.3h-1.3zM359.6 536.4h1.3v1.3h-1.3zM340.0 542.4h1.3v1.3h-1.3zM364.1 540.9h1.3v1.3h-1.3zM369.3 545.1h1.3v1.3h-1.3zM360.9 549.6h1.3v1.3h-1.3zM348.6 539.1h1.3v1.3h-1.3zM337.3 534.7h1.3v1.3h-1.3zM343.9 552.2h1.3v1.3h-1.3zM346.7 545.5h1.3v1.3h-1.3zM342.9 532.5h1.3v1.3h-1.3zM351.9 531.9h1.3v1.3h-1.3zM342.5 539.8h1.3v1.3h-1.3zM373.5 551.0h1.3v1.3h-1.3zM360.4 546.7h1.3v1.3h-1.3zM356.9 535.1h1.3v1.3h-1.3zM353.4 540.9h1.3v1.3h-1.3zM358.2 550.8h1.3v1.3h-1.3zM339.2 528.6h1.3v1.3h-1.3zM367.0 530.8h1.3v1.3h-1.3zM362.8 545.2h1.3v1.3h-1.3zM350.2 543.8h1.3v1.3h-1.3zM361.0 540.3h1.3v1.3h-1.3zM368.7 542.0h1.3v1.3h-1.3zM365.5 544.8h1.3v1.3h-1.3zM353.9 549.7h1.3v1.3h-1.3zM350.0 535.3h1.3v1.3h-1.3zM350.8 542.9h1.3v1.3h-1.3zM347.6 549.7h1.3v1.3h-1.3zM355.1 545.0h1.3v1.3h-1.3zM347.9 544.3h1.3v1.3h-1.3zM359.0 539.0h1.3v1.3h-1.3zM348.9 544.7h1.3v1.3h-1.3zM354.1 536.0h1.3v1.3h-1.3zM360.5 546.4h1.3v1.3h-1.3zM371.5 530.3h1.3v1.3h-1.3zM338.0 544.7h1.3v1.3h-1.3zM371.8 551.6h1.3v1.3h-1.3zM351.7 534.5h1.3v1.3h-1.3zM354.8 537.0h1.3v1.3h-1.3zM342.9 542.9h1.3v1.3h-1.3zM344.2 538.9h1.3v1.3h-1.3zM343.7 539.9h1.3v1.3h-1.3zM356.6 542.5h1.3v1.3h-1.3zM354.3 531.4h1.3v1.3h-1.3zM336.1 540.9h1.3v1.3h-1.3zM351.3 548.5h1.3v1.3h-1.3zM336.8 551.1h1.3v1.3h-1.3zM350.2 531.0h1.3v1.3h-1.3zM345.2 537.2h1.3v1.3h-1.3zM365.7 537.4h1.3v1.3h-1.3zM354.8 532.9h1.3v1.3h-1.3zM337.0 534.5h1.3v1.3h-1.3zM334.1 538.6h1.3v1.3h-1.3zM346.3 553.0h1.3v1.3h-1.3zM358.1 550.0h1.3v1.3h-1.3zM353.5 540.4h1.3v1.3h-1.3zM356.5 553.6h1.3v1.3h-1.3zM342.7 529.2h1.3v1.3h-1.3zM345.0 527.3h1.3v1.3h-1.3zM346.7 538.5h1.3v1.3h-1.3zM343.3 539.8h1.3v1.3h-1.3zM364.0 542.4h1.3v1.3h-1.3zM363.1 540.2h1.3v1.3h-1.3zM352.4 528.1h1.3v1.3h-1.3zM364.4 544.9h1.3v1.3h-1.3zM366.8 540.9h1.3v1.3h-1.3zM359.6 531.2h1.3v1.3h-1.3zM338.9 544.5h1.3v1.3h-1.3zM345.5 551.1h1.3v1.3h-1.3zM344.5 536.5h1.3v1.3h-1.3zM348.8 539.9h1.3v1.3h-1.3zM354.9 538.6h1.3v1.3h-1.3zM366.0 527.9h1.3v1.3h-1.3zM356.8 553.9h1.3v1.3h-1.3zM367.6 548.3h1.3v1.3h-1.3zM353.2 535.3h1.3v1.3h-1.3zM347.2 543.5h1.3v1.3h-1.3zM343.4 528.6h1.3v1.3h-1.3zM364.9 547.1h1.3v1.3h-1.3zM356.3 537.7h1.3v1.3h-1.3zM358.5 537.6h1.3v1.3h-1.3zM355.9 542.4h1.3v1.3h-1.3zM351.8 535.5h1.3v1.3h-1.3zM358.6 533.7h1.3v1.3h-1.3zM368.3 551.2h1.3v1.3h-1.3zM348.9 546.7h1.3v1.3h-1.3zM360.4 542.2h1.3v1.3h-1.3zM339.6 544.8h1.3v1.3h-1.3zM347.7 540.0h1.3v1.3h-1.3zM373.4 542.4h1.3v1.3h-1.3zM336.5 549.3h1.3v1.3h-1.3zM362.6 533.8h1.3v1.3h-1.3zM351.1 534.9h1.3v1.3h-1.3zM354.5 553.7h1.3v1.3h-1.3zM353.2 556.1h1.3v1.3h-1.3zM349.0 551.1h1.3v1.3h-1.3zM342.8 549.5h1.3v1.3h-1.3zM369.0 552.0h1.3v1.3h-1.3zM368.5 551.6h1.3v1.3h-1.3zM352.0 549.3h1.3v1.3h-1.3zM361.0 544.4h1.3v1.3h-1.3zM361.1 539.4h1.3v1.3h-1.3zM343.0 556.4h1.3v1.3h-1.3zM371.7 537.9h1.3v1.3h-1.3zM369.2 546.4h1.3v1.3h-1.3zM347.1 539.7h1.3v1.3h-1.3zM345.3 530.2h1.3v1.3h-1.3zM333.6 543.5h1.3v1.3h-1.3zM355.7 550.8h1.3v1.3h-1.3zM336.4 526.3h1.3v1.3h-1.3zM373.4 540.8h1.3v1.3h-1.3zM350.6 552.4h1.3v1.3h-1.3zM340.0 540.3h1.3v1.3h-1.3zM360.3 546.6h1.3v1.3h-1.3zM360.8 537.9h1.3v1.3h-1.3zM367.6 527.5h1.3v1.3h-1.3zM328.2 540.0h1.3v1.3h-1.3zM352.9 541.8h1.3v1.3h-1.3zM329.6 528.6h1.3v1.3h-1.3zM347.8 550.8h1.3v1.3h-1.3zM338.5 536.8h1.3v1.3h-1.3zM333.1 529.8h1.3v1.3h-1.3zM338.3 540.7h1.3v1.3h-1.3zM342.5 544.9h1.3v1.3h-1.3zM366.4 539.2h1.3v1.3h-1.3zM347.0 542.2h1.3v1.3h-1.3zM349.5 539.7h1.3v1.3h-1.3zM344.4 543.2h1.3v1.3h-1.3zM345.7 546.4h1.3v1.3h-1.3zM353.3 552.6h1.3v1.3h-1.3zM357.3 547.2h1.3v1.3h-1.3zM350.6 537.5h1.3v1.3h-1.3zM357.7 533.5h1.3v1.3h-1.3zM344.3 548.7h1.3v1.3h-1.3zM358.1 542.0h1.3v1.3h-1.3zM362.8 537.5h1.3v1.3h-1.3zM338.6 547.3h1.3v1.3h-1.3zM356.6 545.1h1.3v1.3h-1.3zM361.1 531.2h1.3v1.3h-1.3zM348.6 552.5h1.3v1.3h-1.3zM353.6 549.6h1.3v1.3h-1.3zM338.1 540.9h1.3v1.3h-1.3zM340.1 539.2h1.3v1.3h-1.3zM353.0 534.5h1.3v1.3h-1.3zM337.0 548.0h1.3v1.3h-1.3zM357.7 537.1h1.3v1.3h-1.3zM344.2 550.9h1.3v1.3h-1.3zM350.1 553.9h1.3v1.3h-1.3zM358.6 539.3h1.3v1.3h-1.3zM341.8 542.6h1.3v1.3h-1.3zM361.3 550.5h1.3v1.3h-1.3zM357.3 533.9h1.3v1.3h-1.3zM358.9 552.8h1.3v1.3h-1.3zM352.8 530.1h1.3v1.3h-1.3zM347.7 555.0h1.3v1.3h-1.3zM343.4 554.7h1.3v1.3h-1.3zM352.3 536.9h1.3v1.3h-1.3zM349.6 556.7h1.3v1.3h-1.3zM348.1 543.3h1.3v1.3h-1.3zM354.5 543.4h1.3v1.3h-1.3zM342.5 539.9h1.3v1.3h-1.3zM373.8 547.1h1.3v1.3h-1.3zM360.4 545.7h1.3v1.3h-1.3zM354.0 527.0h1.3v1.3h-1.3zM333.0 548.1h1.3v1.3h-1.3zM338.1 548.8h1.3v1.3h-1.3zM355.0 541.0h1.3v1.3h-1.3zM338.7 536.5h1.3v1.3h-1.3zM365.4 539.2h1.3v1.3h-1.3zM351.1 547.4h1.3v1.3h-1.3zM345.5 540.0h1.3v1.3h-1.3zM354.4 548.2h1.3v1.3h-1.3zM345.5 531.6h1.3v1.3h-1.3zM359.3 537.1h1.3v1.3h-1.3zM352.1 531.7h1.3v1.3h-1.3zM355.0 551.0h1.3v1.3h-1.3zM339.8 543.8h1.3v1.3h-1.3zM338.0 533.7h1.3v1.3h-1.3zM360.5 553.7h1.3v1.3h-1.3zM356.3 532.8h1.3v1.3h-1.3zM350.5 549.6h1.3v1.3h-1.3zM347.3 538.8h1.3v1.3h-1.3zM353.6 550.2h1.3v1.3h-1.3zM345.0 526.7h1.3v1.3h-1.3zM345.8 540.5h1.3v1.3h-1.3zM349.2 544.8h1.3v1.3h-1.3zM363.2 541.8h1.3v1.3h-1.3zM355.6 535.6h1.3v1.3h-1.3zM350.6 547.5h1.3v1.3h-1.3zM339.3 551.9h1.3v1.3h-1.3zM342.7 539.2h1.3v1.3h-1.3zM357.3 547.8h1.3v1.3h-1.3zM352.3 535.8h1.3v1.3h-1.3zM371.5 541.0h1.3v1.3h-1.3zM351.9 542.7h1.3v1.3h-1.3zM352.9 539.4h1.3v1.3h-1.3zM345.5 531.7h1.3v1.3h-1.3zM339.7 548.9h1.3v1.3h-1.3zM368.9 543.8h1.3v1.3h-1.3zM353.1 539.7h1.3v1.3h-1.3zM353.4 547.3h1.3v1.3h-1.3zM358.4 541.5h1.3v1.3h-1.3zM352.5 543.1h1.3v1.3h-1.3zM358.4 548.0h1.3v1.3h-1.3zM368.6 537.8h1.3v1.3h-1.3zM355.9 551.1h1.3v1.3h-1.3zM345.6 540.2h1.3v1.3h-1.3zM357.9 544.3h1.3v1.3h-1.3zM350.6 544.6h1.3v1.3h-1.3zM340.5 543.9h1.3v1.3h-1.3zM332.7 535.7h1.3v1.3h-1.3zM331.5 554.0h1.3v1.3h-1.3zM359.6 539.8h1.3v1.3h-1.3zM328.4 530.2h1.3v1.3h-1.3zM335.8 541.9h1.3v1.3h-1.3zM360.2 547.7h1.3v1.3h-1.3zM347.6 536.4h1.3v1.3h-1.3zM361.9 540.1h1.3v1.3h-1.3zM334.9 534.9h1.3v1.3h-1.3zM345.2 556.4h1.3v1.3h-1.3zM347.5 550.3h1.3v1.3h-1.3zM341.6 536.6h1.3v1.3h-1.3zM338.1 544.2h1.3v1.3h-1.3zM351.8 536.4h1.3v1.3h-1.3zM352.8 547.0h1.3v1.3h-1.3zM344.4 541.2h1.3v1.3h-1.3zM358.0 539.1h1.3v1.3h-1.3zM334.5 547.5h1.3v1.3h-1.3zM350.6 546.0h1.3v1.3h-1.3zM356.5 549.0h1.3v1.3h-1.3zM342.0 542.3h1.3v1.3h-1.3zM350.1 546.5h1.3v1.3h-1.3zM334.1 541.4h1.3v1.3h-1.3zM344.3 535.4h1.3v1.3h-1.3zM345.9 548.0h1.3v1.3h-1.3zM361.3 548.4h1.3v1.3h-1.3zM333.2 538.2h1.3v1.3h-1.3zM353.8 543.2h1.3v1.3h-1.3zM359.8 536.8h1.3v1.3h-1.3zM350.3 548.1h1.3v1.3h-1.3zM353.2 533.7h1.3v1.3h-1.3zM351.0 542.0h1.3v1.3h-1.3zM341.7 536.6h1.3v1.3h-1.3zM353.2 548.3h1.3v1.3h-1.3zM371.6 532.5h1.3v1.3h-1.3zM348.1 550.1h1.3v1.3h-1.3zM346.4 549.8h1.3v1.3h-1.3zM361.4 543.0h1.3v1.3h-1.3zM337.7 537.9h1.3v1.3h-1.3zM343.1 555.8h1.3v1.3h-1.3zM346.1 544.5h1.3v1.3h-1.3zM357.6 538.4h1.3v1.3h-1.3zM360.0 556.7h1.3v1.3h-1.3zM353.2 532.9h1.3v1.3h-1.3zM356.5 539.3h1.3v1.3h-1.3zM330.3 538.8h1.3v1.3h-1.3zM339.1 550.4h1.3v1.3h-1.3zM335.0 543.4h1.3v1.3h-1.3zM351.9 535.1h1.3v1.3h-1.3zM340.8 527.4h1.3v1.3h-1.3zM351.3 535.7h1.3v1.3h-1.3zM349.8 541.5h1.3v1.3h-1.3zM366.4 539.4h1.3v1.3h-1.3zM351.9 555.6h1.3v1.3h-1.3zM346.4 553.8h1.3v1.3h-1.3zM366.8 540.4h1.3v1.3h-1.3zM339.2 539.2h1.3v1.3h-1.3zM353.1 544.1h1.3v1.3h-1.3zM354.8 536.3h1.3v1.3h-1.3zM346.6 537.3h1.3v1.3h-1.3zM353.0 541.3h1.3v1.3h-1.3zM354.5 526.5h1.3v1.3h-1.3zM349.6 536.6h1.3v1.3h-1.3zM341.3 555.3h1.3v1.3h-1.3zM353.3 547.9h1.3v1.3h-1.3zM345.1 542.8h1.3v1.3h-1.3zM351.0 547.8h1.3v1.3h-1.3zM352.7 546.5h1.3v1.3h-1.3zM343.4 546.7h1.3v1.3h-1.3zM355.7 546.8h1.3v1.3h-1.3zM348.2 544.2h1.3v1.3h-1.3zM350.6 544.9h1.3v1.3h-1.3zM351.1 536.9h1.3v1.3h-1.3zM345.9 543.0h1.3v1.3h-1.3zM350.2 537.9h1.3v1.3h-1.3zM353.6 547.7h1.3v1.3h-1.3zM354.8 539.2h1.3v1.3h-1.3zM357.1 532.9h1.3v1.3h-1.3zM343.0 546.6h1.3v1.3h-1.3zM344.6 532.6h1.3v1.3h-1.3zM348.4 531.7h1.3v1.3h-1.3zM359.3 530.7h1.3v1.3h-1.3zM350.1 552.4h1.3v1.3h-1.3zM361.7 544.9h1.3v1.3h-1.3zM338.6 547.9h1.3v1.3h-1.3zM364.0 551.0h1.3v1.3h-1.3zM357.2 548.0h1.3v1.3h-1.3zM349.9 545.6h1.3v1.3h-1.3zM355.2 542.0h1.3v1.3h-1.3zM364.6 533.3h1.3v1.3h-1.3zM364.2 536.3h1.3v1.3h-1.3zM340.6 538.8h1.3v1.3h-1.3zM342.5 539.3h1.3v1.3h-1.3zM357.7 553.9h1.3v1.3h-1.3zM363.5 534.6h1.3v1.3h-1.3zM355.3 554.3h1.3v1.3h-1.3zM351.8 532.3h1.3v1.3h-1.3zM347.6 543.6h1.3v1.3h-1.3zM346.1 532.9h1.3v1.3h-1.3zM366.8 555.2h1.3v1.3h-1.3zM353.2 548.3h1.3v1.3h-1.3zM343.7 540.6h1.3v1.3h-1.3zM345.8 551.5h1.3v1.3h-1.3zM364.2 536.3h1.3v1.3h-1.3zM333.5 549.8h1.3v1.3h-1.3zM372.5 532.1h1.3v1.3h-1.3zM370.3 544.9h1.3v1.3h-1.3zM354.1 526.4h1.3v1.3h-1.3zM349.3 527.5h1.3v1.3h-1.3zM353.6 534.9h1.3v1.3h-1.3zM344.9 540.7h1.3v1.3h-1.3zM352.9 556.0h1.3v1.3h-1.3zM352.4 543.0h1.3v1.3h-1.3zM340.8 532.7h1.3v1.3h-1.3zM353.6 540.7h1.3v1.3h-1.3zM349.5 546.7h1.3v1.3h-1.3zM367.8 532.7h1.3v1.3h-1.3zM358.3 551.2h1.3v1.3h-1.3zM346.0 529.1h1.3v1.3h-1.3zM338.5 543.3h1.3v1.3h-1.3zM352.4 545.5h1.3v1.3h-1.3zM358.4 552.0h1.3v1.3h-1.3zM351.1 543.6h1.3v1.3h-1.3zM342.1 530.3h1.3v1.3h-1.3zM351.1 531.1h1.3v1.3h-1.3zM365.1 534.4h1.3v1.3h-1.3zM368.6 534.8h1.3v1.3h-1.3zM349.8 552.5h1.3v1.3h-1.3zM355.5 555.6h1.3v1.3h-1.3zM342.6 549.2h1.3v1.3h-1.3zM347.1 546.6h1.3v1.3h-1.3zM337.2 533.4h1.3v1.3h-1.3zM348.3 546.3h1.3v1.3h-1.3zM340.5 532.8h1.3v1.3h-1.3zM332.7 536.3h1.3v1.3h-1.3zM368.1 535.9h1.3v1.3h-1.3zM331.3 528.2h1.3v1.3h-1.3zM339.8 537.3h1.3v1.3h-1.3zM354.0 550.5h1.3v1.3h-1.3zM346.1 547.9h1.3v1.3h-1.3zM350.5 548.3h1.3v1.3h-1.3zM362.1 549.7h1.3v1.3h-1.3zM334.1 549.1h1.3v1.3h-1.3zM355.8 539.4h1.3v1.3h-1.3zM356.5 544.7h1.3v1.3h-1.3zM358.0 542.8h1.3v1.3h-1.3zM371.9 535.3h1.3v1.3h-1.3zM352.1 542.7h1.3v1.3h-1.3zM368.0 554.5h1.3v1.3h-1.3zM345.5 553.6h1.3v1.3h-1.3zM344.5 550.1h1.3v1.3h-1.3zM361.6 546.1h1.3v1.3h-1.3zM345.6 536.2h1.3v1.3h-1.3zM359.0 543.2h1.3v1.3h-1.3zM330.8 534.2h1.3v1.3h-1.3zM339.5 534.9h1.3v1.3h-1.3zM338.5 553.2h1.3v1.3h-1.3zM363.2 539.9h1.3v1.3h-1.3zM343.5 532.4h1.3v1.3h-1.3zM361.3 546.7h1.3v1.3h-1.3zM363.7 536.0h1.3v1.3h-1.3zM346.0 546.4h1.3v1.3h-1.3zM339.4 553.9h1.3v1.3h-1.3zM345.4 529.4h1.3v1.3h-1.3zM361.1 539.0h1.3v1.3h-1.3zM348.4 555.6h1.3v1.3h-1.3zM366.4 535.3h1.3v1.3h-1.3zM363.8 527.3h1.3v1.3h-1.3zM366.3 544.0h1.3v1.3h-1.3zM351.9 557.1h1.3v1.3h-1.3zM355.2 551.0h1.3v1.3h-1.3zM347.7 529.7h1.3v1.3h-1.3zM335.1 537.1h1.3v1.3h-1.3zM345.2 543.8h1.3v1.3h-1.3zM368.9 537.1h1.3v1.3h-1.3zM338.0 542.4h1.3v1.3h-1.3zM353.5 549.0h1.3v1.3h-1.3zM366.1 546.9h1.3v1.3h-1.3zM354.7 534.8h1.3v1.3h-1.3zM355.3 552.0h1.3v1.3h-1.3zM351.6 549.8h1.3v1.3h-1.3zM334.3 553.1h1.3v1.3h-1.3zM350.3 537.2h1.3v1.3h-1.3zM353.7 544.5h1.3v1.3h-1.3zM344.0 529.3h1.3v1.3h-1.3zM355.8 549.0h1.3v1.3h-1.3zM353.5 539.4h1.3v1.3h-1.3zM346.3 534.8h1.3v1.3h-1.3zM337.8 537.0h1.3v1.3h-1.3zM332.0 528.4h1.3v1.3h-1.3zM366.8 539.6h1.3v1.3h-1.3zM346.1 542.4h1.3v1.3h-1.3zM340.5 542.8h1.3v1.3h-1.3zM346.3 531.6h1.3v1.3h-1.3zM351.9 548.7h1.3v1.3h-1.3zM351.4 529.0h1.3v1.3h-1.3zM352.4 535.5h1.3v1.3h-1.3zM346.6 543.7h1.3v1.3h-1.3zM356.0 550.2h1.3v1.3h-1.3zM361.4 549.4h1.3v1.3h-1.3zM369.8 553.5h1.3v1.3h-1.3zM368.0 553.9h1.3v1.3h-1.3zM347.5 550.6h1.3v1.3h-1.3zM363.5 550.1h1.3v1.3h-1.3zM365.5 548.5h1.3v1.3h-1.3zM343.3 540.4h1.3v1.3h-1.3zM341.8 529.3h1.3v1.3h-1.3zM372.8 550.8h1.3v1.3h-1.3zM364.8 529.4h1.3v1.3h-1.3zM360.0 537.8h1.3v1.3h-1.3zM359.2 549.7h1.3v1.3h-1.3zM365.2 534.5h1.3v1.3h-1.3zM365.0 552.6h1.3v1.3h-1.3zM355.7 531.6h1.3v1.3h-1.3zM335.1 550.1h1.3v1.3h-1.3zM334.8 534.5h1.3v1.3h-1.3zM354.9 537.4h1.3v1.3h-1.3zM356.8 554.3h1.3v1.3h-1.3zM346.4 548.9h1.3v1.3h-1.3zM362.9 542.0h1.3v1.3h-1.3zM362.3 541.9h1.3v1.3h-1.3zM353.7 551.4h1.3v1.3h-1.3zM349.5 540.6h1.3v1.3h-1.3zM357.7 552.7h1.3v1.3h-1.3zM340.9 553.6h1.3v1.3h-1.3zM354.1 544.6h1.3v1.3h-1.3zM366.4 533.3h1.3v1.3h-1.3zM342.7 531.3h1.3v1.3h-1.3zM353.6 547.3h1.3v1.3h-1.3zM336.5 547.1h1.3v1.3h-1.3zM339.5 544.7h1.3v1.3h-1.3zM373.9 553.7h1.3v1.3h-1.3zM352.2 551.9h1.3v1.3h-1.3zM343.7 550.1h1.3v1.3h-1.3zM358.0 532.2h1.3v1.3h-1.3zM356.9 546.7h1.3v1.3h-1.3zM351.1 542.7h1.3v1.3h-1.3zM372.0 550.2h1.3v1.3h-1.3zM348.3 550.7h1.3v1.3h-1.3zM354.7 540.8h1.3v1.3h-1.3zM342.4 545.9h1.3v1.3h-1.3zM350.9 526.8h1.3v1.3h-1.3zM333.1 528.1h1.3v1.3h-1.3zM345.7 538.1h1.3v1.3h-1.3zM343.2 541.6h1.3v1.3h-1.3zM367.4 532.3h1.3v1.3h-1.3zM363.7 550.7h1.3v1.3h-1.3zM340.4 528.5h1.3v1.3h-1.3zM359.9 552.5h1.3v1.3h-1.3zM360.1 548.7h1.3v1.3h-1.3zM345.2 549.2h1.3v1.3h-1.3zM340.9 548.5h1.3v1.3h-1.3zM361.4 549.9h1.3v1.3h-1.3zM366.0 549.1h1.3v1.3h-1.3zM363.3 544.6h1.3v1.3h-1.3zM369.8 542.4h1.3v1.3h-1.3zM367.7 536.2h1.3v1.3h-1.3zM340.2 545.1h1.3v1.3h-1.3zM351.6 538.0h1.3v1.3h-1.3zM344.1 551.0h1.3v1.3h-1.3zM356.9 551.8h1.3v1.3h-1.3zM348.1 546.4h1.3v1.3h-1.3zM342.0 536.3h1.3v1.3h-1.3zM360.6 550.8h1.3v1.3h-1.3zM353.6 554.8h1.3v1.3h-1.3zM344.5 556.4h1.3v1.3h-1.3zM350.9 541.6h1.3v1.3h-1.3zM342.4 556.4h1.3v1.3h-1.3zM342.1 556.7h1.3v1.3h-1.3zM351.6 531.5h1.3v1.3h-1.3zM347.1 542.5h1.3v1.3h-1.3zM349.3 549.5h1.3v1.3h-1.3zM339.3 529.6h1.3v1.3h-1.3zM337.9 548.1h1.3v1.3h-1.3zM350.4 543.3h1.3v1.3h-1.3zM330.2 539.1h1.3v1.3h-1.3zM328.8 542.3h1.3v1.3h-1.3zM345.4 547.0h1.3v1.3h-1.3zM357.5 550.9h1.3v1.3h-1.3zM349.6 546.5h1.3v1.3h-1.3zM353.6 531.7h1.3v1.3h-1.3zM352.7 553.7h1.3v1.3h-1.3zM344.2 554.0h1.3v1.3h-1.3zM348.7 555.7h1.3v1.3h-1.3zM352.4 533.9h1.3v1.3h-1.3zM353.9 554.7h1.3v1.3h-1.3zM332.1 532.9h1.3v1.3h-1.3zM356.0 531.7h1.3v1.3h-1.3zM333.0 542.7h1.3v1.3h-1.3zM346.8 539.7h1.3v1.3h-1.3zM347.7 545.4h1.3v1.3h-1.3zM342.7 526.7h1.3v1.3h-1.3zM349.2 539.5h1.3v1.3h-1.3zM349.9 543.1h1.3v1.3h-1.3zM344.4 526.7h1.3v1.3h-1.3zM356.6 557.1h1.3v1.3h-1.3zM357.1 543.7h1.3v1.3h-1.3zM358.1 538.9h1.3v1.3h-1.3zM352.7 531.0h1.3v1.3h-1.3zM341.9 546.4h1.3v1.3h-1.3zM361.9 556.5h1.3v1.3h-1.3zM333.8 539.9h1.3v1.3h-1.3zM343.9 542.9h1.3v1.3h-1.3zM351.2 547.0h1.3v1.3h-1.3zM349.1 530.4h1.3v1.3h-1.3zM345.0 549.0h1.3v1.3h-1.3zM353.0 549.9h1.3v1.3h-1.3zM351.6 554.0h1.3v1.3h-1.3zM341.1 547.4h1.3v1.3h-1.3zM356.5 534.0h1.3v1.3h-1.3zM341.7 534.6h1.3v1.3h-1.3zM364.9 537.6h1.3v1.3h-1.3zM360.5 538.0h1.3v1.3h-1.3zM354.0 548.4h1.3v1.3h-1.3zM353.7 537.5h1.3v1.3h-1.3zM366.6 548.0h1.3v1.3h-1.3zM345.7 546.4h1.3v1.3h-1.3zM371.1 535.4h1.3v1.3h-1.3zM352.8 547.2h1.3v1.3h-1.3zM347.6 540.7h1.3v1.3h-1.3zM360.3 539.0h1.3v1.3h-1.3zM350.1 545.1h1.3v1.3h-1.3zM338.1 542.9h1.3v1.3h-1.3zM362.9 553.1h1.3v1.3h-1.3zM332.1 540.4h1.3v1.3h-1.3zM370.1 532.2h1.3v1.3h-1.3zM342.5 545.5h1.3v1.3h-1.3zM344.5 534.2h1.3v1.3h-1.3zM343.9 544.1h1.3v1.3h-1.3zM354.4 545.7h1.3v1.3h-1.3zM359.7 541.1h1.3v1.3h-1.3zM352.7 546.1h1.3v1.3h-1.3zM366.9 553.4h1.3v1.3h-1.3zM345.8 549.9h1.3v1.3h-1.3zM356.9 556.6h1.3v1.3h-1.3zM341.9 547.8h1.3v1.3h-1.3zM343.8 541.9h1.3v1.3h-1.3zM362.5 535.9h1.3v1.3h-1.3zM331.0 536.4h1.3v1.3h-1.3zM358.0 547.7h1.3v1.3h-1.3zM354.4 553.6h1.3v1.3h-1.3zM354.1 551.6h1.3v1.3h-1.3zM343.9 546.9h1.3v1.3h-1.3zM348.4 530.7h1.3v1.3h-1.3zM354.3 533.1h1.3v1.3h-1.3zM331.2 555.5h1.3v1.3h-1.3zM358.2 538.9h1.3v1.3h-1.3zM331.3 535.6h1.3v1.3h-1.3zM358.8 535.2h1.3v1.3h-1.3zM366.0 543.1h1.3v1.3h-1.3zM343.5 538.6h1.3v1.3h-1.3zM360.9 536.7h1.3v1.3h-1.3zM344.1 540.7h1.3v1.3h-1.3zM350.0 529.7h1.3v1.3h-1.3zM350.5 547.3h1.3v1.3h-1.3zM349.6 531.7h1.3v1.3h-1.3zM355.3 532.1h1.3v1.3h-1.3zM335.7 536.7h1.3v1.3h-1.3zM355.9 537.7h1.3v1.3h-1.3zM360.7 549.4h1.3v1.3h-1.3zM362.1 556.6h1.3v1.3h-1.3zM346.2 549.9h1.3v1.3h-1.3zM358.7 546.1h1.3v1.3h-1.3zM346.1 548.0h1.3v1.3h-1.3zM353.6 549.9h1.3v1.3h-1.3zM350.6 537.0h1.3v1.3h-1.3zM336.3 541.6h1.3v1.3h-1.3zM370.7 544.5h1.3v1.3h-1.3zM351.9 534.5h1.3v1.3h-1.3zM355.3 543.4h1.3v1.3h-1.3zM353.7 539.9h1.3v1.3h-1.3zM340.6 533.7h1.3v1.3h-1.3zM345.2 532.9h1.3v1.3h-1.3zM340.3 545.4h1.3v1.3h-1.3zM351.7 537.4h1.3v1.3h-1.3zM350.1 553.6h1.3v1.3h-1.3zM339.0 549.0h1.3v1.3h-1.3zM370.6 543.9h1.3v1.3h-1.3zM358.4 546.9h1.3v1.3h-1.3zM331.0 552.0h1.3v1.3h-1.3zM359.9 550.8h1.3v1.3h-1.3zM354.6 530.8h1.3v1.3h-1.3zM354.1 534.8h1.3v1.3h-1.3zM345.5 553.2h1.3v1.3h-1.3zM362.0 527.8h1.3v1.3h-1.3zM338.7 532.0h1.3v1.3h-1.3zM364.5 529.0h1.3v1.3h-1.3zM355.1 548.3h1.3v1.3h-1.3zM328.9 556.3h1.3v1.3h-1.3zM346.9 557.1h1.3v1.3h-1.3zM338.8 536.2h1.3v1.3h-1.3zM352.8 547.0h1.3v1.3h-1.3zM359.7 532.7h1.3v1.3h-1.3zM344.9 543.6h1.3v1.3h-1.3zM365.7 534.9h1.3v1.3h-1.3zM358.4 534.5h1.3v1.3h-1.3zM339.0 543.4h1.3v1.3h-1.3zM353.2 543.1h1.3v1.3h-1.3zM343.3 536.7h1.3v1.3h-1.3zM361.2 527.8h1.3v1.3h-1.3zM344.8 530.6h1.3v1.3h-1.3zM352.3 555.2h1.3v1.3h-1.3zM347.4 535.3h1.3v1.3h-1.3zM347.6 542.8h1.3v1.3h-1.3zM346.3 532.6h1.3v1.3h-1.3zM353.7 535.3h1.3v1.3h-1.3zM365.4 542.6h1.3v1.3h-1.3zM355.8 540.7h1.3v1.3h-1.3zM356.1 529.1h1.3v1.3h-1.3zM351.0 540.5h1.3v1.3h-1.3zM349.0 543.8h1.3v1.3h-1.3zM348.2 528.9h1.3v1.3h-1.3zM352.4 536.8h1.3v1.3h-1.3zM361.8 541.0h1.3v1.3h-1.3zM350.0 542.7h1.3v1.3h-1.3zM372.5 553.1h1.3v1.3h-1.3zM355.7 553.1h1.3v1.3h-1.3zM336.5 547.5h1.3v1.3h-1.3zM355.1 536.2h1.3v1.3h-1.3zM341.2 550.7h1.3v1.3h-1.3zM346.7 529.9h1.3v1.3h-1.3zM359.2 543.5h1.3v1.3h-1.3zM345.3 536.7h1.3v1.3h-1.3zM343.5 538.6h1.3v1.3h-1.3zM367.3 538.8h1.3v1.3h-1.3zM359.1 535.2h1.3v1.3h-1.3zM364.1 554.9h1.3v1.3h-1.3zM337.9 535.7h1.3v1.3h-1.3zM359.9 543.5h1.3v1.3h-1.3zM354.3 544.5h1.3v1.3h-1.3zM347.8 541.3h1.3v1.3h-1.3zM345.4 542.2h1.3v1.3h-1.3zM366.3 540.8h1.3v1.3h-1.3zM346.5 537.9h1.3v1.3h-1.3zM331.9 551.6h1.3v1.3h-1.3zM360.7 546.3h1.3v1.3h-1.3zM351.8 549.1h1.3v1.3h-1.3zM361.5 555.2h1.3v1.3h-1.3zM344.3 556.1h1.3v1.3h-1.3zM339.6 554.9h1.3v1.3h-1.3zM350.6 543.7h1.3v1.3h-1.3zM346.2 540.8h1.3v1.3h-1.3zM353.0 535.2h1.3v1.3h-1.3zM363.9 545.8h1.3v1.3h-1.3zM338.6 534.7h1.3v1.3h-1.3zM350.7 538.9h1.3v1.3h-1.3zM367.3 531.8h1.3v1.3h-1.3zM351.5 540.9h1.3v1.3h-1.3zM349.7 548.6h1.3v1.3h-1.3zM357.6 536.7h1.3v1.3h-1.3zM345.8 546.1h1.3v1.3h-1.3zM350.9 537.0h1.3v1.3h-1.3zM334.3 545.6h1.3v1.3h-1.3zM346.6 547.5h1.3v1.3h-1.3zM344.7 541.5h1.3v1.3h-1.3zM351.8 545.2h1.3v1.3h-1.3zM350.4 543.1h1.3v1.3h-1.3zM340.8 535.3h1.3v1.3h-1.3zM343.0 537.0h1.3v1.3h-1.3zM337.5 538.5h1.3v1.3h-1.3zM356.6 535.2h1.3v1.3h-1.3zM358.4 550.7h1.3v1.3h-1.3zM360.2 544.6h1.3v1.3h-1.3zM330.9 540.7h1.3v1.3h-1.3zM358.4 536.0h1.3v1.3h-1.3zM358.5 556.0h1.3v1.3h-1.3zM350.8 531.8h1.3v1.3h-1.3zM358.0 529.0h1.3v1.3h-1.3zM351.8 541.4h1.3v1.3h-1.3zM357.2 545.7h1.3v1.3h-1.3zM344.1 539.8h1.3v1.3h-1.3zM356.8 538.9h1.3v1.3h-1.3zM360.5 557.1h1.3v1.3h-1.3zM350.2 541.4h1.3v1.3h-1.3zM358.0 540.4h1.3v1.3h-1.3zM370.3 552.6h1.3v1.3h-1.3zM353.7 537.9h1.3v1.3h-1.3zM329.2 530.9h1.3v1.3h-1.3zM338.2 551.3h1.3v1.3h-1.3zM363.5 527.4h1.3v1.3h-1.3zM335.1 531.0h1.3v1.3h-1.3zM369.3 530.7h1.3v1.3h-1.3zM355.3 550.4h1.3v1.3h-1.3zM350.6 542.0h1.3v1.3h-1.3zM363.6 540.2h1.3v1.3h-1.3zM346.4 541.5h1.3v1.3h-1.3zM327.8 536.7h1.3v1.3h-1.3zM346.0 555.6h1.3v1.3h-1.3zM356.2 531.9h1.3v1.3h-1.3zM336.4 548.6h1.3v1.3h-1.3zM355.7 550.2h1.3v1.3h-1.3zM352.0 545.6h1.3v1.3h-1.3zM351.4 531.8h1.3v1.3h-1.3zM361.0 549.9h1.3v1.3h-1.3zM348.2 555.7h1.3v1.3h-1.3zM357.7 534.6h1.3v1.3h-1.3zM361.5 530.0h1.3v1.3h-1.3zM350.9 538.5h1.3v1.3h-1.3zM355.9 540.2h1.3v1.3h-1.3zM336.3 528.6h1.3v1.3h-1.3zM356.2 537.7h1.3v1.3h-1.3zM370.6 552.8h1.3v1.3h-1.3zM361.5 539.3h1.3v1.3h-1.3zM352.2 535.2h1.3v1.3h-1.3zM346.1 541.6h1.3v1.3h-1.3zM347.4 538.0h1.3v1.3h-1.3zM349.4 543.0h1.3v1.3h-1.3zM365.9 540.1h1.3v1.3h-1.3zM347.6 548.1h1.3v1.3h-1.3zM354.1 530.6h1.3v1.3h-1.3zM348.7 540.8h1.3v1.3h-1.3zM343.7 550.4h1.3v1.3h-1.3zM355.3 536.3h1.3v1.3h-1.3zM363.9 545.8h1.3v1.3h-1.3zM352.1 544.7h1.3v1.3h-1.3zM360.8 549.2h1.3v1.3h-1.3zM344.1 545.5h1.3v1.3h-1.3zM350.5 538.9h1.3v1.3h-1.3zM348.2 553.3h1.3v1.3h-1.3zM345.4 551.4h1.3v1.3h-1.3zM363.6 538.3h1.3v1.3h-1.3zM352.7 553.3h1.3v1.3h-1.3zM371.3 541.0h1.3v1.3h-1.3zM350.0 545.6h1.3v1.3h-1.3zM359.4 538.2h1.3v1.3h-1.3zM361.1 547.1h1.3v1.3h-1.3zM352.4 532.4h1.3v1.3h-1.3zM347.8 539.8h1.3v1.3h-1.3zM347.9 535.1h1.3v1.3h-1.3zM335.5 545.3h1.3v1.3h-1.3zM364.6 545.9h1.3v1.3h-1.3zM357.8 544.8h1.3v1.3h-1.3zM352.5 528.3h1.3v1.3h-1.3zM370.7 550.7h1.3v1.3h-1.3zM357.5 546.8h1.3v1.3h-1.3zM349.6 539.3h1.3v1.3h-1.3zM352.4 533.5h1.3v1.3h-1.3zM355.6 529.0h1.3v1.3h-1.3zM367.7 533.3h1.3v1.3h-1.3zM360.9 548.0h1.3v1.3h-1.3zM362.0 546.5h1.3v1.3h-1.3zM348.9 554.0h1.3v1.3h-1.3zM363.2 529.8h1.3v1.3h-1.3zM352.5 538.7h1.3v1.3h-1.3zM340.7 543.0h1.3v1.3h-1.3zM372.4 542.9h1.3v1.3h-1.3zM350.2 544.3h1.3v1.3h-1.3zM342.0 533.6h1.3v1.3h-1.3zM369.9 537.6h1.3v1.3h-1.3zM333.6 545.4h1.3v1.3h-1.3zM361.3 534.3h1.3v1.3h-1.3zM345.2 555.2h1.3v1.3h-1.3zM361.3 529.3h1.3v1.3h-1.3zM346.9 538.0h1.3v1.3h-1.3zM349.6 528.6h1.3v1.3h-1.3zM349.6 531.1h1.3v1.3h-1.3zM359.3 543.8h1.3v1.3h-1.3zM346.4 538.8h1.3v1.3h-1.3zM346.6 551.1h1.3v1.3h-1.3zM356.8 548.4h1.3v1.3h-1.3zM329.5 548.9h1.3v1.3h-1.3zM350.6 537.4h1.3v1.3h-1.3zM336.7 553.5h1.3v1.3h-1.3zM368.0 542.0h1.3v1.3h-1.3zM349.9 534.6h1.3v1.3h-1.3zM360.5 542.7h1.3v1.3h-1.3zM344.2 555.0h1.3v1.3h-1.3zM357.1 544.8h1.3v1.3h-1.3zM351.0 539.2h1.3v1.3h-1.3zM343.1 536.6h1.3v1.3h-1.3zM346.0 550.8h1.3v1.3h-1.3zM341.4 557.0h1.3v1.3h-1.3zM363.2 535.4h1.3v1.3h-1.3zM360.7 549.1h1.3v1.3h-1.3zM368.9 544.8h1.3v1.3h-1.3zM356.0 538.7h1.3v1.3h-1.3zM338.6 548.5h1.3v1.3h-1.3zM348.1 541.3h1.3v1.3h-1.3zM343.5 546.9h1.3v1.3h-1.3zM333.8 529.3h1.3v1.3h-1.3zM363.0 547.9h1.3v1.3h-1.3zM341.4 544.4h1.3v1.3h-1.3zM355.6 552.3h1.3v1.3h-1.3zM363.1 552.1h1.3v1.3h-1.3zM351.8 548.9h1.3v1.3h-1.3zM357.9 556.9h1.3v1.3h-1.3zM336.6 540.6h1.3v1.3h-1.3zM343.4 551.7h1.3v1.3h-1.3zM367.7 555.2h1.3v1.3h-1.3zM340.8 547.2h1.3v1.3h-1.3zM361.6 549.2h1.3v1.3h-1.3zM360.3 546.2h1.3v1.3h-1.3zM357.7 545.2h1.3v1.3h-1.3zM347.6 542.0h1.3v1.3h-1.3zM342.0 531.9h1.3v1.3h-1.3zM352.5 532.9h1.3v1.3h-1.3zM345.2 535.2h1.3v1.3h-1.3zM358.4 555.6h1.3v1.3h-1.3zM353.8 534.8h1.3v1.3h-1.3zM363.5 545.7h1.3v1.3h-1.3zM337.1 541.1h1.3v1.3h-1.3zM352.2 533.0h1.3v1.3h-1.3zM357.2 527.2h1.3v1.3h-1.3zM351.7 549.3h1.3v1.3h-1.3zM331.7 547.8h1.3v1.3h-1.3zM360.6 533.3h1.3v1.3h-1.3zM339.4 539.9h1.3v1.3h-1.3zM351.5 539.9h1.3v1.3h-1.3zM348.2 530.4h1.3v1.3h-1.3zM332.5 534.4h1.3v1.3h-1.3zM361.3 549.5h1.3v1.3h-1.3zM359.0 539.7h1.3v1.3h-1.3zM345.2 536.6h1.3v1.3h-1.3zM353.2 527.8h1.3v1.3h-1.3zM355.2 546.2h1.3v1.3h-1.3zM345.0 550.9h1.3v1.3h-1.3zM347.2 540.6h1.3v1.3h-1.3zM327.1 548.1h1.3v1.3h-1.3zM361.5 547.1h1.3v1.3h-1.3zM349.9 556.3h1.3v1.3h-1.3zM352.3 544.9h1.3v1.3h-1.3zM356.5 553.2h1.3v1.3h-1.3zM333.7 551.1h1.3v1.3h-1.3zM355.0 556.1h1.3v1.3h-1.3zM353.6 541.0h1.3v1.3h-1.3zM344.3 542.4h1.3v1.3h-1.3zM345.4 547.1h1.3v1.3h-1.3zM351.9 534.3h1.3v1.3h-1.3zM358.6 541.3h1.3v1.3h-1.3zM347.4 555.7h1.3v1.3h-1.3zM356.1 546.3h1.3v1.3h-1.3zM343.7 554.7h1.3v1.3h-1.3zM357.6 530.0h1.3v1.3h-1.3zM348.4 554.5h1.3v1.3h-1.3zM361.5 540.9h1.3v1.3h-1.3zM353.7 543.8h1.3v1.3h-1.3zM327.0 549.1h1.3v1.3h-1.3zM366.6 536.4h1.3v1.3h-1.3zM352.6 551.7h1.3v1.3h-1.3zM354.1 552.5h1.3v1.3h-1.3zM351.8 539.5h1.3v1.3h-1.3zM344.3 541.1h1.3v1.3h-1.3zM337.9 530.0h1.3v1.3h-1.3zM352.4 532.8h1.3v1.3h-1.3zM352.9 541.0h1.3v1.3h-1.3zM349.8 547.4h1.3v1.3h-1.3zM346.6 531.5h1.3v1.3h-1.3zM348.6 539.9h1.3v1.3h-1.3zM365.4 552.1h1.3v1.3h-1.3zM338.6 547.5h1.3v1.3h-1.3zM332.1 550.8h1.3v1.3h-1.3zM348.1 553.2h1.3v1.3h-1.3zM353.9 532.6h1.3v1.3h-1.3zM347.1 543.8h1.3v1.3h-1.3zM363.5 539.2h1.3v1.3h-1.3zM345.3 543.1h1.3v1.3h-1.3zM343.3 547.0h1.3v1.3h-1.3zM355.4 550.7h1.3v1.3h-1.3zM342.4 553.4h1.3v1.3h-1.3zM352.3 540.8h1.3v1.3h-1.3zM335.1 546.6h1.3v1.3h-1.3zM372.9 547.4h1.3v1.3h-1.3zM355.4 541.3h1.3v1.3h-1.3zM351.8 541.1h1.3v1.3h-1.3zM342.2 543.2h1.3v1.3h-1.3zM353.4 538.4h1.3v1.3h-1.3zM350.4 540.1h1.3v1.3h-1.3zM342.2 534.9h1.3v1.3h-1.3zM358.7 528.1h1.3v1.3h-1.3zM341.4 551.3h1.3v1.3h-1.3zM336.1 549.5h1.3v1.3h-1.3zM366.7 539.8h1.3v1.3h-1.3zM359.5 552.1h1.3v1.3h-1.3zM329.5 537.8h1.3v1.3h-1.3zM346.9 551.1h1.3v1.3h-1.3zM346.6 529.2h1.3v1.3h-1.3zM337.3 542.5h1.3v1.3h-1.3zM352.1 546.3h1.3v1.3h-1.3zM339.6 546.8h1.3v1.3h-1.3zM350.1 532.0h1.3v1.3h-1.3zM357.5 538.3h1.3v1.3h-1.3zM357.4 534.8h1.3v1.3h-1.3zM369.3 547.7h1.3v1.3h-1.3zM327.5 538.1h1.3v1.3h-1.3zM348.7 543.2h1.3v1.3h-1.3zM338.9 551.7h1.3v1.3h-1.3zM353.1 556.6h1.3v1.3h-1.3zM353.6 556.7h1.3v1.3h-1.3zM367.9 543.1h1.3v1.3h-1.3zM354.4 551.5h1.3v1.3h-1.3zM356.3 541.1h1.3v1.3h-1.3zM356.7 530.0h1.3v1.3h-1.3zM340.0 540.2h1.3v1.3h-1.3zM339.5 527.5h1.3v1.3h-1.3zM358.0 549.1h1.3v1.3h-1.3zM345.3 541.9h1.3v1.3h-1.3zM363.2 551.1h1.3v1.3h-1.3zM370.7 540.2h1.3v1.3h-1.3zM347.6 550.3h1.3v1.3h-1.3zM370.9 540.6h1.3v1.3h-1.3zM348.0 539.7h1.3v1.3h-1.3zM363.4 554.2h1.3v1.3h-1.3zM341.1 552.9h1.3v1.3h-1.3zM359.7 555.0h1.3v1.3h-1.3zM346.4 541.6h1.3v1.3h-1.3zM357.0 547.5h1.3v1.3h-1.3zM341.2 549.7h1.3v1.3h-1.3zM357.9 539.9h1.3v1.3h-1.3zM355.9 553.6h1.3v1.3h-1.3zM351.7 543.0h1.3v1.3h-1.3zM340.7 541.6h1.3v1.3h-1.3zM344.2 532.3h1.3v1.3h-1.3zM361.6 546.8h1.3v1.3h-1.3zM355.0 544.2h1.3v1.3h-1.3zM367.9 537.6h1.3v1.3h-1.3zM342.1 534.3h1.3v1.3h-1.3zM342.4 540.7h1.3v1.3h-1.3zM359.7 534.0h1.3v1.3h-1.3zM360.0 537.1h1.3v1.3h-1.3zM351.5 556.3h1.3v1.3h-1.3zM348.1 530.9h1.3v1.3h-1.3zM352.3 546.1h1.3v1.3h-1.3zM347.7 538.0h1.3v1.3h-1.3zM358.1 532.9h1.3v1.3h-1.3zM350.1 534.2h1.3v1.3h-1.3zM358.0 537.9h1.3v1.3h-1.3zM355.3 541.8h1.3v1.3h-1.3zM350.8 533.6h1.3v1.3h-1.3zM364.7 536.9h1.3v1.3h-1.3zM350.2 529.5h1.3v1.3h-1.3zM352.4 533.9h1.3v1.3h-1.3zM340.3 552.2h1.3v1.3h-1.3zM359.5 545.0h1.3v1.3h-1.3zM353.6 547.9h1.3v1.3h-1.3zM351.4 544.3h1.3v1.3h-1.3zM341.2 538.4h1.3v1.3h-1.3zM338.9 533.6h1.3v1.3h-1.3zM372.8 526.3h1.3v1.3h-1.3zM331.9 549.0h1.3v1.3h-1.3zM341.1 547.0h1.3v1.3h-1.3zM351.4 550.7h1.3v1.3h-1.3zM349.7 542.6h1.3v1.3h-1.3zM351.7 541.6h1.3v1.3h-1.3zM351.8 539.9h1.3v1.3h-1.3zM353.5 552.1h1.3v1.3h-1.3zM359.1 542.9h1.3v1.3h-1.3zM366.9 547.0h1.3v1.3h-1.3zM355.0 555.6h1.3v1.3h-1.3zM369.0 543.2h1.3v1.3h-1.3zM354.8 540.3h1.3v1.3h-1.3zM372.0 538.6h1.3v1.3h-1.3zM347.2 552.7h1.3v1.3h-1.3zM358.1 542.2h1.3v1.3h-1.3zM360.5 545.2h1.3v1.3h-1.3zM351.5 545.8h1.3v1.3h-1.3zM357.7 544.5h1.3v1.3h-1.3zM356.8 543.9h1.3v1.3h-1.3zM357.3 533.0h1.3v1.3h-1.3zM369.5 552.5h1.3v1.3h-1.3zM355.0 548.3h1.3v1.3h-1.3zM370.8 547.2h1.3v1.3h-1.3zM338.4 546.3h1.3v1.3h-1.3zM331.0 540.6h1.3v1.3h-1.3zM366.9 531.6h1.3v1.3h-1.3zM335.6 538.9h1.3v1.3h-1.3zM349.1 541.8h1.3v1.3h-1.3zM350.1 546.9h1.3v1.3h-1.3zM362.6 541.0h1.3v1.3h-1.3zM342.6 537.7h1.3v1.3h-1.3zM350.9 550.8h1.3v1.3h-1.3zM362.6 537.3h1.3v1.3h-1.3zM348.1 528.6h1.3v1.3h-1.3zM356.5 539.3h1.3v1.3h-1.3zM367.6 546.8h1.3v1.3h-1.3zM338.9 543.0h1.3v1.3h-1.3zM349.4 554.6h1.3v1.3h-1.3zM350.8 543.7h1.3v1.3h-1.3zM330.7 537.6h1.3v1.3h-1.3zM345.6 532.3h1.3v1.3h-1.3zM353.4 539.4h1.3v1.3h-1.3zM353.8 551.3h1.3v1.3h-1.3zM356.0 542.6h1.3v1.3h-1.3zM355.2 531.3h1.3v1.3h-1.3zM347.7 536.7h1.3v1.3h-1.3zM371.5 529.9h1.3v1.3h-1.3zM347.8 547.7h1.3v1.3h-1.3zM346.7 548.8h1.3v1.3h-1.3zM339.7 552.2h1.3v1.3h-1.3zM336.9 529.7h1.3v1.3h-1.3zM349.0 538.7h1.3v1.3h-1.3zM355.1 548.5h1.3v1.3h-1.3zM357.9 546.8h1.3v1.3h-1.3zM343.1 527.6h1.3v1.3h-1.3zM339.0 545.9h1.3v1.3h-1.3zM341.5 530.2h1.3v1.3h-1.3zM342.5 546.1h1.3v1.3h-1.3zM337.8 540.2h1.3v1.3h-1.3zM359.1 550.4h1.3v1.3h-1.3zM333.7 541.8h1.3v1.3h-1.3zM349.0 528.3h1.3v1.3h-1.3zM345.1 541.9h1.3v1.3h-1.3zM346.6 549.3h1.3v1.3h-1.3zM347.5 542.6h1.3v1.3h-1.3zM360.4 542.4h1.3v1.3h-1.3zM346.8 548.9h1.3v1.3h-1.3zM336.8 543.3h1.3v1.3h-1.3zM362.9 531.2h1.3v1.3h-1.3zM371.6 551.9h1.3v1.3h-1.3zM355.6 539.4h1.3v1.3h-1.3zM346.2 555.3h1.3v1.3h-1.3zM334.1 529.4h1.3v1.3h-1.3zM346.0 533.7h1.3v1.3h-1.3zM361.7 538.6h1.3v1.3h-1.3zM369.9 555.5h1.3v1.3h-1.3zM338.6 554.9h1.3v1.3h-1.3zM365.4 530.6h1.3v1.3h-1.3zM348.0 533.8h1.3v1.3h-1.3zM341.0 541.5h1.3v1.3h-1.3zM354.8 533.9h1.3v1.3h-1.3zM334.7 548.4h1.3v1.3h-1.3zM365.5 553.5h1.3v1.3h-1.3zM336.6 537.0h1.3v1.3h-1.3zM348.2 535.2h1.3v1.3h-1.3zM362.7 533.1h1.3v1.3h-1.3zM348.4 545.7h1.3v1.3h-1.3zM352.3 544.6h1.3v1.3h-1.3zM350.1 547.2h1.3v1.3h-1.3zM354.9 542.6h1.3v1.3h-1.3zM357.4 546.2h1.3v1.3h-1.3zM358.9 546.8h1.3v1.3h-1.3zM356.3 545.6h1.3v1.3h-1.3zM342.6 537.3h1.3v1.3h-1.3zM348.4 535.4h1.3v1.3h-1.3zM346.5 535.4h1.3v1.3h-1.3zM344.3 545.3h1.3v1.3h-1.3zM351.5 542.7h1.3v1.3h-1.3zM348.8 539.7h1.3v1.3h-1.3zM357.5 546.3h1.3v1.3h-1.3zM354.5 551.2h1.3v1.3h-1.3zM346.9 549.4h1.3v1.3h-1.3zM353.3 532.3h1.3v1.3h-1.3zM364.7 532.8h1.3v1.3h-1.3zM359.9 534.9h1.3v1.3h-1.3zM344.3 553.3h1.3v1.3h-1.3zM355.8 542.0h1.3v1.3h-1.3zM346.4 540.3h1.3v1.3h-1.3zM360.8 541.9h1.3v1.3h-1.3zM362.0 536.6h1.3v1.3h-1.3zM361.1 550.3h1.3v1.3h-1.3zM349.0 550.3h1.3v1.3h-1.3zM369.0 528.4h1.3v1.3h-1.3zM337.9 535.3h1.3v1.3h-1.3zM345.6 532.6h1.3v1.3h-1.3zM353.1 528.4h1.3v1.3h-1.3zM370.4 541.2h1.3v1.3h-1.3zM353.7 540.2h1.3v1.3h-1.3zM345.6 543.2h1.3v1.3h-1.3zM350.1 545.7h1.3v1.3h-1.3zM359.4 533.9h1.3v1.3h-1.3zM333.1 535.4h1.3v1.3h-1.3zM356.2 543.0h1.3v1.3h-1.3zM337.7 544.1h1.3v1.3h-1.3zM361.2 541.1h1.3v1.3h-1.3zM356.6 547.7h1.3v1.3h-1.3zM363.8 553.8h1.3v1.3h-1.3zM343.9 539.9h1.3v1.3h-1.3zM351.9 532.2h1.3v1.3h-1.3zM352.8 545.7h1.3v1.3h-1.3zM352.6 541.8h1.3v1.3h-1.3zM359.8 550.8h1.3v1.3h-1.3zM341.7 541.0h1.3v1.3h-1.3zM353.2 549.7h1.3v1.3h-1.3zM363.6 540.2h1.3v1.3h-1.3zM336.3 549.8h1.3v1.3h-1.3zM353.4 533.6h1.3v1.3h-1.3zM351.9 553.8h1.3v1.3h-1.3zM350.9 534.1h1.3v1.3h-1.3zM355.9 539.2h1.3v1.3h-1.3zM352.6 551.8h1.3v1.3h-1.3zM354.0 546.8h1.3v1.3h-1.3zM351.0 543.2h1.3v1.3h-1.3zM340.9 534.5h1.3v1.3h-1.3zM362.2 554.9h1.3v1.3h-1.3zM340.2 548.6h1.3v1.3h-1.3zM360.8 534.2h1.3v1.3h-1.3zM358.8 547.7h1.3v1.3h-1.3zM351.8 545.8h1.3v1.3h-1.3zM342.5 544.7h1.3v1.3h-1.3zM352.0 539.9h1.3v1.3h-1.3zM353.0 550.6h1.3v1.3h-1.3zM361.3 549.5h1.3v1.3h-1.3zM370.2 528.1h1.3v1.3h-1.3zM350.2 541.2h1.3v1.3h-1.3zM347.6 537.7h1.3v1.3h-1.3zM337.3 538.9h1.3v1.3h-1.3zM364.3 537.7h1.3v1.3h-1.3zM351.4 546.2h1.3v1.3h-1.3zM351.6 532.7h1.3v1.3h-1.3zM346.4 553.5h1.3v1.3h-1.3zM344.7 530.0h1.3v1.3h-1.3zM371.4 543.4h1.3v1.3h-1.3zM344.0 529.2h1.3v1.3h-1.3zM350.2 551.1h1.3v1.3h-1.3zM359.8 538.5h1.3v1.3h-1.3zM358.4 537.9h1.3v1.3h-1.3zM343.4 532.7h1.3v1.3h-1.3zM362.0 542.6h1.3v1.3h-1.3zM360.7 551.5h1.3v1.3h-1.3zM359.6 540.9h1.3v1.3h-1.3zM373.1 532.3h1.3v1.3h-1.3zM350.0 536.1h1.3v1.3h-1.3zM360.5 552.8h1.3v1.3h-1.3zM357.6 535.9h1.3v1.3h-1.3zM353.4 527.8h1.3v1.3h-1.3zM363.0 553.2h1.3v1.3h-1.3zM349.9 547.9h1.3v1.3h-1.3zM348.8 542.7h1.3v1.3h-1.3zM353.5 540.1h1.3v1.3h-1.3zM362.4 533.4h1.3v1.3h-1.3zM354.7 541.8h1.3v1.3h-1.3zM343.3 550.2h1.3v1.3h-1.3zM359.9 555.0h1.3v1.3h-1.3zM356.2 532.1h1.3v1.3h-1.3zM360.4 545.1h1.3v1.3h-1.3zM350.2 543.1h1.3v1.3h-1.3zM362.7 530.6h1.3v1.3h-1.3zM363.5 545.0h1.3v1.3h-1.3zM329.7 532.0h1.3v1.3h-1.3zM343.1 546.6h1.3v1.3h-1.3zM347.0 541.2h1.3v1.3h-1.3zM343.9 546.9h1.3v1.3h-1.3zM336.5 534.9h1.3v1.3h-1.3zM345.6 537.6h1.3v1.3h-1.3zM350.3 548.3h1.3v1.3h-1.3zM345.3 535.8h1.3v1.3h-1.3zM364.8 555.5h1.3v1.3h-1.3zM344.1 555.2h1.3v1.3h-1.3zM359.3 541.3h1.3v1.3h-1.3zM358.3 535.8h1.3v1.3h-1.3zM340.2 539.6h1.3v1.3h-1.3zM336.1 538.1h1.3v1.3h-1.3zM352.6 532.3h1.3v1.3h-1.3zM339.7 541.3h1.3v1.3h-1.3zM345.0 543.4h1.3v1.3h-1.3zM345.1 537.1h1.3v1.3h-1.3zM349.2 550.7h1.3v1.3h-1.3zM343.7 530.6h1.3v1.3h-1.3zM354.7 537.8h1.3v1.3h-1.3zM351.0 548.2h1.3v1.3h-1.3zM358.1 549.8h1.3v1.3h-1.3zM356.8 556.9h1.3v1.3h-1.3zM355.9 552.2h1.3v1.3h-1.3zM356.9 547.3h1.3v1.3h-1.3zM358.1 527.4h1.3v1.3h-1.3zM329.6 542.8h1.3v1.3h-1.3zM358.2 547.4h1.3v1.3h-1.3zM349.0 537.3h1.3v1.3h-1.3zM341.0 545.4h1.3v1.3h-1.3zM355.3 549.2h1.3v1.3h-1.3zM350.6 554.5h1.3v1.3h-1.3zM344.3 553.0h1.3v1.3h-1.3zM343.5 556.1h1.3v1.3h-1.3zM362.0 532.4h1.3v1.3h-1.3zM357.4 532.4h1.3v1.3h-1.3zM370.8 552.8h1.3v1.3h-1.3zM352.8 545.7h1.3v1.3h-1.3zM351.4 537.5h1.3v1.3h-1.3zM340.4 541.3h1.3v1.3h-1.3zM362.4 545.5h1.3v1.3h-1.3zM363.8 552.2h1.3v1.3h-1.3zM357.5 533.3h1.3v1.3h-1.3zM341.7 538.4h1.3v1.3h-1.3zM328.9 526.8h1.3v1.3h-1.3zM352.7 555.4h1.3v1.3h-1.3zM361.9 545.6h1.3v1.3h-1.3zM342.7 551.3h1.3v1.3h-1.3zM351.5 548.3h1.3v1.3h-1.3zM332.5 538.9h1.3v1.3h-1.3zM362.1 540.0h1.3v1.3h-1.3zM351.8 550.8h1.3v1.3h-1.3zM367.3 555.7h1.3v1.3h-1.3zM353.4 536.8h1.3v1.3h-1.3zM362.0 535.8h1.3v1.3h-1.3zM339.1 534.2h1.3v1.3h-1.3zM351.4 535.1h1.3v1.3h-1.3zM343.4 552.0h1.3v1.3h-1.3zM340.0 530.3h1.3v1.3h-1.3zM352.6 548.5h1.3v1.3h-1.3zM346.5 532.6h1.3v1.3h-1.3zM365.6 530.3h1.3v1.3h-1.3zM369.3 547.8h1.3v1.3h-1.3zM354.9 536.8h1.3v1.3h-1.3zM368.9 555.8h1.3v1.3h-1.3zM353.0 544.8h1.3v1.3h-1.3zM345.5 549.3h1.3v1.3h-1.3zM349.3 548.1h1.3v1.3h-1.3zM332.0 547.2h1.3v1.3h-1.3zM363.2 544.5h1.3v1.3h-1.3zM369.2 535.2h1.3v1.3h-1.3zM364.9 544.3h1.3v1.3h-1.3zM353.6 547.4h1.3v1.3h-1.3zM353.4 542.0h1.3v1.3h-1.3zM361.0 542.9h1.3v1.3h-1.3zM348.0 545.4h1.3v1.3h-1.3zM361.6 536.2h1.3v1.3h-1.3zM354.7 541.7h1.3v1.3h-1.3zM346.7 542.9h1.3v1.3h-1.3zM373.5 538.3h1.3v1.3h-1.3zM358.8 548.2h1.3v1.3h-1.3zM365.4 539.7h1.3v1.3h-1.3zM339.9 550.1h1.3v1.3h-1.3zM331.6 545.5h1.3v1.3h-1.3zM363.1 549.1h1.3v1.3h-1.3zM353.7 540.7h1.3v1.3h-1.3zM347.5 551.7h1.3v1.3h-1.3zM335.3 531.1h1.3v1.3h-1.3zM347.2 540.9h1.3v1.3h-1.3zM357.9 540.2h1.3v1.3h-1.3zM353.3 537.4h1.3v1.3h-1.3zM363.8 551.1h1.3v1.3h-1.3zM335.1 553.4h1.3v1.3h-1.3zM356.1 543.7h1.3v1.3h-1.3zM361.4 547.4h1.3v1.3h-1.3zM354.6 547.2h1.3v1.3h-1.3zM334.1 546.9h1.3v1.3h-1.3zM354.2 532.2h1.3v1.3h-1.3zM346.8 548.3h1.3v1.3h-1.3zM347.9 533.0h1.3v1.3h-1.3zM350.0 537.2h1.3v1.3h-1.3zM353.7 554.4h1.3v1.3h-1.3zM373.9 542.7h1.3v1.3h-1.3zM357.6 533.0h1.3v1.3h-1.3zM359.8 547.7h1.3v1.3h-1.3zM345.9 549.7h1.3v1.3h-1.3zM346.1 544.1h1.3v1.3h-1.3zM355.4 543.5h1.3v1.3h-1.3zM355.9 547.1h1.3v1.3h-1.3zM346.4 544.8h1.3v1.3h-1.3zM359.9 552.5h1.3v1.3h-1.3zM343.7 538.7h1.3v1.3h-1.3zM347.9 530.1h1.3v1.3h-1.3zM346.3 539.7h1.3v1.3h-1.3zM348.2 542.0h1.3v1.3h-1.3zM341.9 549.4h1.3v1.3h-1.3zM362.6 544.2h1.3v1.3h-1.3zM356.6 541.3h1.3v1.3h-1.3zM354.9 535.2h1.3v1.3h-1.3zM342.0 535.1h1.3v1.3h-1.3zM352.7 548.5h1.3v1.3h-1.3zM372.6 540.2h1.3v1.3h-1.3zM335.0 551.7h1.3v1.3h-1.3zM348.3 532.8h1.3v1.3h-1.3zM346.9 547.5h1.3v1.3h-1.3zM366.0 530.6h1.3v1.3h-1.3zM353.9 554.0h1.3v1.3h-1.3zM361.4 556.3h1.3v1.3h-1.3zM359.7 536.6h1.3v1.3h-1.3zM361.3 536.2h1.3v1.3h-1.3zM333.6 528.4h1.3v1.3h-1.3zM352.7 542.2h1.3v1.3h-1.3zM346.5 553.5h1.3v1.3h-1.3zM350.9 535.3h1.3v1.3h-1.3zM352.2 542.3h1.3v1.3h-1.3zM358.6 542.2h1.3v1.3h-1.3zM361.8 538.4h1.3v1.3h-1.3zM350.9 548.3h1.3v1.3h-1.3zM344.2 544.7h1.3v1.3h-1.3zM354.2 552.7h1.3v1.3h-1.3zM326.7 555.2h1.3v1.3h-1.3zM348.7 543.4h1.3v1.3h-1.3zM367.0 547.8h1.3v1.3h-1.3zM337.6 539.7h1.3v1.3h-1.3zM360.0 539.8h1.3v1.3h-1.3zM356.2 551.3h1.3v1.3h-1.3zM372.8 536.0h1.3v1.3h-1.3zM335.6 535.4h1.3v1.3h-1.3zM347.5 552.4h1.3v1.3h-1.3zM354.9 555.1h1.3v1.3h-1.3zM354.3 529.5h1.3v1.3h-1.3zM356.4 536.2h1.3v1.3h-1.3zM355.6 526.8h1.3v1.3h-1.3zM360.3 532.5h1.3v1.3h-1.3zM348.0 551.3h1.3v1.3h-1.3zM349.8 533.9h1.3v1.3h-1.3zM367.6 539.4h1.3v1.3h-1.3zM362.4 541.8h1.3v1.3h-1.3zM333.5 540.7h1.3v1.3h-1.3zM356.3 541.2h1.3v1.3h-1.3zM344.6 548.9h1.3v1.3h-1.3zM364.0 551.1h1.3v1.3h-1.3zM342.3 546.0h1.3v1.3h-1.3zM358.9 550.1h1.3v1.3h-1.3zM351.1 545.5h1.3v1.3h-1.3zM356.2 544.1h1.3v1.3h-1.3zM359.3 542.9h1.3v1.3h-1.3zM346.3 553.8h1.3v1.3h-1.3zM362.0 535.4h1.3v1.3h-1.3zM358.5 534.2h1.3v1.3h-1.3zM355.6 535.8h1.3v1.3h-1.3zM345.9 546.8h1.3v1.3h-1.3zM342.8 550.1h1.3v1.3h-1.3zM369.0 540.3h1.3v1.3h-1.3zM344.4 546.6h1.3v1.3h-1.3zM349.8 527.9h1.3v1.3h-1.3zM371.4 551.4h1.3v1.3h-1.3zM359.3 546.6h1.3v1.3h-1.3zM348.9 548.9h1.3v1.3h-1.3zM346.1 546.6h1.3v1.3h-1.3zM343.2 543.1h1.3v1.3h-1.3zM356.1 543.5h1.3v1.3h-1.3zM355.4 547.8h1.3v1.3h-1.3zM370.3 537.7h1.3v1.3h-1.3zM354.4 542.8h1.3v1.3h-1.3zM355.4 533.7h1.3v1.3h-1.3zM359.9 535.9h1.3v1.3h-1.3zM336.5 532.2h1.3v1.3h-1.3zM352.3 529.2h1.3v1.3h-1.3zM348.2 547.2h1.3v1.3h-1.3zM328.4 554.7h1.3v1.3h-1.3zM373.0 541.1h1.3v1.3h-1.3zM351.2 540.2h1.3v1.3h-1.3zM336.4 541.1h1.3v1.3h-1.3zM341.0 534.0h1.3v1.3h-1.3zM344.5 532.4h1.3v1.3h-1.3zM329.2 554.2h1.3v1.3h-1.3zM340.7 551.5h1.3v1.3h-1.3zM359.9 539.6h1.3v1.3h-1.3zM352.6 543.1h1.3v1.3h-1.3zM357.4 546.6h1.3v1.3h-1.3zM349.2 542.2h1.3v1.3h-1.3zM362.7 534.6h1.3v1.3h-1.3zM348.3 552.0h1.3v1.3h-1.3zM373.7 536.8h1.3v1.3h-1.3zM353.8 534.1h1.3v1.3h-1.3zM353.2 540.8h1.3v1.3h-1.3zM361.4 550.3h1.3v1.3h-1.3zM356.5 543.3h1.3v1.3h-1.3zM361.1 540.6h1.3v1.3h-1.3zM365.4 557.0h1.3v1.3h-1.3zM345.6 547.4h1.3v1.3h-1.3zM354.8 535.4h1.3v1.3h-1.3zM355.5 541.1h1.3v1.3h-1.3zM356.9 544.0h1.3v1.3h-1.3zM359.4 539.5h1.3v1.3h-1.3zM352.1 551.5h1.3v1.3h-1.3zM365.5 544.3h1.3v1.3h-1.3zM334.0 551.5h1.3v1.3h-1.3zM358.7 532.1h1.3v1.3h-1.3zM331.6 527.1h1.3v1.3h-1.3zM347.5 541.1h1.3v1.3h-1.3zM359.8 557.0h1.3v1.3h-1.3zM353.7 541.9h1.3v1.3h-1.3zM362.8 555.6h1.3v1.3h-1.3zM354.8 537.2h1.3v1.3h-1.3zM341.0 551.0h1.3v1.3h-1.3zM342.1 537.1h1.3v1.3h-1.3zM329.6 530.6h1.3v1.3h-1.3zM358.4 537.0h1.3v1.3h-1.3zM360.0 541.1h1.3v1.3h-1.3zM346.4 551.6h1.3v1.3h-1.3zM353.4 539.4h1.3v1.3h-1.3zM367.7 533.0h1.3v1.3h-1.3zM340.3 542.8h1.3v1.3h-1.3zM348.9 540.1h1.3v1.3h-1.3zM342.9 544.6h1.3v1.3h-1.3zM329.8 546.8h1.3v1.3h-1.3zM338.4 551.9h1.3v1.3h-1.3zM343.5 526.6h1.3v1.3h-1.3zM351.7 534.6h1.3v1.3h-1.3zM345.7 534.2h1.3v1.3h-1.3zM356.7 540.8h1.3v1.3h-1.3zM356.2 544.8h1.3v1.3h-1.3zM356.4 543.0h1.3v1.3h-1.3zM339.4 549.1h1.3v1.3h-1.3zM347.9 543.1h1.3v1.3h-1.3zM353.3 543.8h1.3v1.3h-1.3zM344.9 536.7h1.3v1.3h-1.3zM342.3 539.5h1.3v1.3h-1.3zM359.3 533.7h1.3v1.3h-1.3zM337.1 543.1h1.3v1.3h-1.3zM355.1 540.2h1.3v1.3h-1.3zM346.1 549.7h1.3v1.3h-1.3zM350.7 544.8h1.3v1.3h-1.3zM340.3 554.6h1.3v1.3h-1.3zM372.1 539.7h1.3v1.3h-1.3zM356.2 537.2h1.3v1.3h-1.3zM364.6 546.7h1.3v1.3h-1.3zM354.3 541.5h1.3v1.3h-1.3zM341.8 544.7h1.3v1.3h-1.3zM367.9 543.7h1.3v1.3h-1.3zM357.0 535.0h1.3v1.3h-1.3zM370.8 546.2h1.3v1.3h-1.3zM353.1 540.9h1.3v1.3h-1.3zM343.2 538.9h1.3v1.3h-1.3zM348.6 530.7h1.3v1.3h-1.3zM363.3 527.1h1.3v1.3h-1.3zM356.2 554.9h1.3v1.3h-1.3zM354.5 546.0h1.3v1.3h-1.3zM347.5 532.4h1.3v1.3h-1.3zM370.1 528.2h1.3v1.3h-1.3zM356.3 531.6h1.3v1.3h-1.3zM357.6 548.8h1.3v1.3h-1.3zM364.0 542.7h1.3v1.3h-1.3zM352.3 539.4h1.3v1.3h-1.3zM352.2 541.8h1.3v1.3h-1.3zM360.4 540.6h1.3v1.3h-1.3zM339.8 543.7h1.3v1.3h-1.3zM366.7 544.5h1.3v1.3h-1.3zM362.9 549.1h1.3v1.3h-1.3zM336.8 551.6h1.3v1.3h-1.3zM348.5 527.8h1.3v1.3h-1.3zM357.0 532.4h1.3v1.3h-1.3zM350.1 545.4h1.3v1.3h-1.3zM336.6 550.2h1.3v1.3h-1.3zM359.9 543.6h1.3v1.3h-1.3zM361.4 541.6h1.3v1.3h-1.3zM367.6 538.3h1.3v1.3h-1.3zM354.1 549.3h1.3v1.3h-1.3zM356.9 527.4h1.3v1.3h-1.3zM348.8 553.7h1.3v1.3h-1.3zM346.6 527.9h1.3v1.3h-1.3zM356.5 532.9h1.3v1.3h-1.3zM365.0 536.2h1.3v1.3h-1.3zM327.0 530.3h1.3v1.3h-1.3zM340.7 535.5h1.3v1.3h-1.3zM354.9 543.0h1.3v1.3h-1.3zM361.3 534.3h1.3v1.3h-1.3zM346.8 546.0h1.3v1.3h-1.3zM356.9 550.5h1.3v1.3h-1.3zM336.4 544.1h1.3v1.3h-1.3zM356.2 547.4h1.3v1.3h-1.3zM348.7 544.7h1.3v1.3h-1.3zM334.1 532.4h1.3v1.3h-1.3zM363.5 533.8h1.3v1.3h-1.3zM335.0 532.4h1.3v1.3h-1.3zM353.1 545.1h1.3v1.3h-1.3zM353.2 543.8h1.3v1.3h-1.3zM339.2 539.2h1.3v1.3h-1.3zM361.9 531.7h1.3v1.3h-1.3zM349.7 542.0h1.3v1.3h-1.3zM361.0 535.6h1.3v1.3h-1.3zM365.4 545.1h1.3v1.3h-1.3zM354.5 540.0h1.3v1.3h-1.3zM345.1 530.6h1.3v1.3h-1.3zM359.6 542.0h1.3v1.3h-1.3zM360.3 549.6h1.3v1.3h-1.3zM342.7 543.4h1.3v1.3h-1.3zM361.8 543.2h1.3v1.3h-1.3zM352.7 554.1h1.3v1.3h-1.3zM340.0 553.5h1.3v1.3h-1.3zM346.6 545.6h1.3v1.3h-1.3zM352.5 534.0h1.3v1.3h-1.3zM336.9 552.5h1.3v1.3h-1.3zM347.4 546.0h1.3v1.3h-1.3zM346.9 544.4h1.3v1.3h-1.3zM349.8 541.5h1.3v1.3h-1.3zM341.6 536.5h1.3v1.3h-1.3zM355.7 538.9h1.3v1.3h-1.3zM350.9 549.8h1.3v1.3h-1.3zM351.7 532.1h1.3v1.3h-1.3zM360.7 543.9h1.3v1.3h-1.3zM356.4 543.7h1.3v1.3h-1.3zM332.8 554.4h1.3v1.3h-1.3zM344.1 553.5h1.3v1.3h-1.3zM339.2 543.1h1.3v1.3h-1.3zM354.7 536.4h1.3v1.3h-1.3zM356.3 547.5h1.3v1.3h-1.3zM346.2 548.5h1.3v1.3h-1.3zM352.7 548.6h1.3v1.3h-1.3zM343.6 536.3h1.3v1.3h-1.3zM347.0 537.4h1.3v1.3h-1.3zM347.7 547.5h1.3v1.3h-1.3zM355.4 535.0h1.3v1.3h-1.3zM349.8 546.9h1.3v1.3h-1.3zM343.8 538.8h1.3v1.3h-1.3zM347.1 532.9h1.3v1.3h-1.3zM341.1 534.8h1.3v1.3h-1.3zM358.6 538.6h1.3v1.3h-1.3zM355.6 536.8h1.3v1.3h-1.3zM336.5 537.0h1.3v1.3h-1.3zM360.4 543.1h1.3v1.3h-1.3zM346.4 545.2h1.3v1.3h-1.3zM351.5 537.1h1.3v1.3h-1.3zM345.5 545.1h1.3v1.3h-1.3zM347.3 527.1h1.3v1.3h-1.3zM354.8 530.2h1.3v1.3h-1.3zM333.6 528.6h1.3v1.3h-1.3zM329.5 554.3h1.3v1.3h-1.3zM348.8 552.0h1.3v1.3h-1.3zM354.9 539.1h1.3v1.3h-1.3zM335.7 547.4h1.3v1.3h-1.3zM349.4 540.8h1.3v1.3h-1.3zM337.5 555.1h1.3v1.3h-1.3zM342.8 545.4h1.3v1.3h-1.3zM368.5 546.8h1.3v1.3h-1.3zM349.0 553.2h1.3v1.3h-1.3zM360.7 526.3h1.3v1.3h-1.3zM352.3 535.9h1.3v1.3h-1.3zM343.5 538.9h1.3v1.3h-1.3zM343.0 547.7h1.3v1.3h-1.3zM361.1 527.7h1.3v1.3h-1.3zM335.4 548.5h1.3v1.3h-1.3zM354.3 534.4h1.3v1.3h-1.3zM356.0 553.3h1.3v1.3h-1.3zM367.3 547.7h1.3v1.3h-1.3zM345.4 550.6h1.3v1.3h-1.3zM357.2 537.2h1.3v1.3h-1.3zM367.2 556.2h1.3v1.3h-1.3zM348.5 540.5h1.3v1.3h-1.3zM353.0 534.2h1.3v1.3h-1.3zM359.7 546.7h1.3v1.3h-1.3zM362.4 537.0h1.3v1.3h-1.3zM348.8 540.7h1.3v1.3h-1.3zM366.4 541.4h1.3v1.3h-1.3zM354.8 538.3h1.3v1.3h-1.3zM356.6 548.2h1.3v1.3h-1.3zM352.2 538.7h1.3v1.3h-1.3zM371.5 533.4h1.3v1.3h-1.3zM344.5 549.5h1.3v1.3h-1.3zM341.6 533.0h1.3v1.3h-1.3zM356.6 551.4h1.3v1.3h-1.3zM339.5 540.9h1.3v1.3h-1.3zM336.5 556.1h1.3v1.3h-1.3zM346.0 544.4h1.3v1.3h-1.3zM348.1 544.6h1.3v1.3h-1.3zM348.6 549.2h1.3v1.3h-1.3zM362.7 539.0h1.3v1.3h-1.3zM351.6 539.9h1.3v1.3h-1.3zM334.6 554.4h1.3v1.3h-1.3zM358.1 552.8h1.3v1.3h-1.3zM340.1 541.0h1.3v1.3h-1.3zM373.2 529.6h1.3v1.3h-1.3zM331.0 528.6h1.3v1.3h-1.3zM348.8 550.8h1.3v1.3h-1.3zM360.6 540.8h1.3v1.3h-1.3zM355.4 541.7h1.3v1.3h-1.3zM347.7 555.6h1.3v1.3h-1.3zM353.0 540.6h1.3v1.3h-1.3zM352.2 544.1h1.3v1.3h-1.3zM356.7 553.0h1.3v1.3h-1.3zM352.0 547.0h1.3v1.3h-1.3zM348.8 537.1h1.3v1.3h-1.3zM372.0 538.4h1.3v1.3h-1.3zM370.1 528.1h1.3v1.3h-1.3zM369.9 531.5h1.3v1.3h-1.3zM351.3 543.3h1.3v1.3h-1.3zM352.2 542.5h1.3v1.3h-1.3zM344.7 550.4h1.3v1.3h-1.3zM349.0 532.2h1.3v1.3h-1.3zM360.7 547.2h1.3v1.3h-1.3zM345.2 529.8h1.3v1.3h-1.3zM362.3 543.7h1.3v1.3h-1.3zM350.3 535.9h1.3v1.3h-1.3zM340.2 556.0h1.3v1.3h-1.3zM356.3 535.2h1.3v1.3h-1.3zM358.3 545.3h1.3v1.3h-1.3zM357.4 549.1h1.3v1.3h-1.3zM340.8 547.5h1.3v1.3h-1.3zM349.7 544.5h1.3v1.3h-1.3zM341.3 550.0h1.3v1.3h-1.3zM352.1 541.7h1.3v1.3h-1.3zM355.1 532.3h1.3v1.3h-1.3zM358.7 542.3h1.3v1.3h-1.3zM342.8 544.5h1.3v1.3h-1.3zM351.5 539.5h1.3v1.3h-1.3zM346.7 541.5h1.3v1.3h-1.3zM358.7 543.2h1.3v1.3h-1.3zM355.8 545.1h1.3v1.3h-1.3zM359.5 541.1h1.3v1.3h-1.3zM352.1 552.0h1.3v1.3h-1.3zM337.0 543.9h1.3v1.3h-1.3zM344.8 544.9h1.3v1.3h-1.3zM355.5 546.5h1.3v1.3h-1.3zM342.3 549.4h1.3v1.3h-1.3zM362.2 544.2h1.3v1.3h-1.3zM353.3 557.2h1.3v1.3h-1.3zM361.8 538.0h1.3v1.3h-1.3zM364.1 547.1h1.3v1.3h-1.3zM342.4 536.4h1.3v1.3h-1.3zM333.1 534.6h1.3v1.3h-1.3zM352.2 551.5h1.3v1.3h-1.3zM351.4 538.3h1.3v1.3h-1.3zM349.0 536.3h1.3v1.3h-1.3zM353.0 531.7h1.3v1.3h-1.3zM351.1 535.8h1.3v1.3h-1.3zM340.9 534.0h1.3v1.3h-1.3zM370.5 533.8h1.3v1.3h-1.3zM343.8 541.0h1.3v1.3h-1.3zM358.2 546.9h1.3v1.3h-1.3zM348.4 540.8h1.3v1.3h-1.3zM366.2 535.8h1.3v1.3h-1.3zM358.7 533.5h1.3v1.3h-1.3zM350.8 540.9h1.3v1.3h-1.3zM336.1 542.5h1.3v1.3h-1.3zM353.2 550.1h1.3v1.3h-1.3zM337.2 552.1h1.3v1.3h-1.3zM358.0 540.5h1.3v1.3h-1.3zM366.2 537.0h1.3v1.3h-1.3zM363.2 555.7h1.3v1.3h-1.3zM350.8 544.5h1.3v1.3h-1.3zM347.4 544.6h1.3v1.3h-1.3zM357.0 538.1h1.3v1.3h-1.3zM351.7 545.9h1.3v1.3h-1.3zM339.1 543.3h1.3v1.3h-1.3zM357.0 539.4h1.3v1.3h-1.3zM351.0 548.6h1.3v1.3h-1.3zM341.8 547.2h1.3v1.3h-1.3zM343.5 552.2h1.3v1.3h-1.3zM362.9 534.9h1.3v1.3h-1.3zM360.4 550.2h1.3v1.3h-1.3zM339.5 539.3h1.3v1.3h-1.3zM351.2 551.8h1.3v1.3h-1.3zM345.1 553.8h1.3v1.3h-1.3zM362.8 541.3h1.3v1.3h-1.3zM349.2 545.0h1.3v1.3h-1.3zM356.6 547.8h1.3v1.3h-1.3zM337.5 537.2h1.3v1.3h-1.3zM336.7 554.1h1.3v1.3h-1.3zM361.3 541.1h1.3v1.3h-1.3zM358.8 532.1h1.3v1.3h-1.3zM352.1 547.4h1.3v1.3h-1.3zM335.8 543.2h1.3v1.3h-1.3zM340.1 552.0h1.3v1.3h-1.3zM350.9 539.1h1.3v1.3h-1.3zM341.2 552.4h1.3v1.3h-1.3zM353.4 537.1h1.3v1.3h-1.3zM346.1 534.7h1.3v1.3h-1.3zM364.1 538.3h1.3v1.3h-1.3zM370.0 539.0h1.3v1.3h-1.3zM342.5 540.1h1.3v1.3h-1.3zM350.7 549.8h1.3v1.3h-1.3zM358.7 529.1h1.3v1.3h-1.3zM337.0 540.5h1.3v1.3h-1.3zM362.0 544.4h1.3v1.3h-1.3zM328.6 552.7h1.3v1.3h-1.3zM339.3 537.0h1.3v1.3h-1.3zM337.3 548.1h1.3v1.3h-1.3zM372.5 545.0h1.3v1.3h-1.3zM361.3 535.9h1.3v1.3h-1.3zM339.4 545.7h1.3v1.3h-1.3zM334.4 534.2h1.3v1.3h-1.3zM353.0 532.8h1.3v1.3h-1.3zM360.8 556.1h1.3v1.3h-1.3zM343.6 540.6h1.3v1.3h-1.3zM351.5 547.5h1.3v1.3h-1.3zM340.1 535.7h1.3v1.3h-1.3zM362.6 548.9h1.3v1.3h-1.3zM356.3 536.2h1.3v1.3h-1.3zM345.1 533.4h1.3v1.3h-1.3zM361.2 552.6h1.3v1.3h-1.3zM367.3 537.8h1.3v1.3h-1.3zM365.0 537.2h1.3v1.3h-1.3zM352.4 537.0h1.3v1.3h-1.3zM356.7 544.4h1.3v1.3h-1.3zM356.5 551.8h1.3v1.3h-1.3zM361.8 530.5h1.3v1.3h-1.3zM330.7 555.4h1.3v1.3h-1.3zM352.1 538.7h1.3v1.3h-1.3zM340.8 535.5h1.3v1.3h-1.3zM340.2 535.2h1.3v1.3h-1.3zM369.6 554.9h1.3v1.3h-1.3zM333.6 544.4h1.3v1.3h-1.3zM353.6 551.3h1.3v1.3h-1.3zM367.2 536.7h1.3v1.3h-1.3zM347.5 551.7h1.3v1.3h-1.3zM339.2 529.8h1.3v1.3h-1.3zM349.8 543.1h1.3v1.3h-1.3zM346.4 548.5h1.3v1.3h-1.3zM344.7 547.9h1.3v1.3h-1.3zM360.8 544.2h1.3v1.3h-1.3zM343.2 539.0h1.3v1.3h-1.3zM341.9 528.2h1.3v1.3h-1.3zM341.4 554.1h1.3v1.3h-1.3zM348.0 552.1h1.3v1.3h-1.3zM353.4 537.6h1.3v1.3h-1.3zM339.6 538.8h1.3v1.3h-1.3zM352.1 534.9h1.3v1.3h-1.3zM344.3 531.5h1.3v1.3h-1.3zM366.2 527.0h1.3v1.3h-1.3zM356.6 530.5h1.3v1.3h-1.3zM343.7 546.6h1.3v1.3h-1.3zM343.7 526.6h1.3v1.3h-1.3zM338.5 527.2h1.3v1.3h-1.3zM363.8 544.8h1.3v1.3h-1.3zM349.3 533.9h1.3v1.3h-1.3zM356.0 539.4h1.3v1.3h-1.3zM345.9 544.6h1.3v1.3h-1.3zM340.5 527.5h1.3v1.3h-1.3zM331.1 547.4h1.3v1.3h-1.3zM335.5 536.1h1.3v1.3h-1.3zM347.4 551.5h1.3v1.3h-1.3zM333.3 556.7h1.3v1.3h-1.3zM359.5 531.4h1.3v1.3h-1.3zM362.4 531.5h1.3v1.3h-1.3zM350.1 544.2h1.3v1.3h-1.3zM332.0 528.2h1.3v1.3h-1.3zM353.2 547.2h1.3v1.3h-1.3zM344.9 530.3h1.3v1.3h-1.3zM339.7 537.1h1.3v1.3h-1.3zM330.5 545.5h1.3v1.3h-1.3zM364.7 555.7h1.3v1.3h-1.3zM333.4 544.8h1.3v1.3h-1.3zM356.6 537.5h1.3v1.3h-1.3zM369.9 548.8h1.3v1.3h-1.3zM365.2 543.2h1.3v1.3h-1.3zM358.1 550.0h1.3v1.3h-1.3zM351.8 532.0h1.3v1.3h-1.3zM361.3 531.2h1.3v1.3h-1.3zM356.5 529.0h1.3v1.3h-1.3zM372.4 544.4h1.3v1.3h-1.3zM338.5 542.0h1.3v1.3h-1.3zM339.3 545.4h1.3v1.3h-1.3zM342.2 538.3h1.3v1.3h-1.3zM366.7 554.3h1.3v1.3h-1.3zM353.1 546.4h1.3v1.3h-1.3zM368.4 545.8h1.3v1.3h-1.3zM335.3 544.2h1.3v1.3h-1.3zM338.0 534.0h1.3v1.3h-1.3zM351.7 541.4h1.3v1.3h-1.3zM350.2 549.7h1.3v1.3h-1.3zM348.6 544.3h1.3v1.3h-1.3zM359.0 537.0h1.3v1.3h-1.3zM348.4 539.0h1.3v1.3h-1.3zM339.0 533.7h1.3v1.3h-1.3zM356.0 543.0h1.3v1.3h-1.3zM335.6 549.2h1.3v1.3h-1.3zM359.0 551.4h1.3v1.3h-1.3zM364.4 543.3h1.3v1.3h-1.3zM357.5 540.1h1.3v1.3h-1.3zM340.3 541.1h1.3v1.3h-1.3zM356.0 544.6h1.3v1.3h-1.3zM344.5 535.0h1.3v1.3h-1.3zM344.7 537.9h1.3v1.3h-1.3zM348.0 547.3h1.3v1.3h-1.3zM359.0 537.3h1.3v1.3h-1.3zM361.8 539.8h1.3v1.3h-1.3zM350.4 527.6h1.3v1.3h-1.3zM366.6 537.3h1.3v1.3h-1.3zM361.9 545.9h1.3v1.3h-1.3zM371.4 544.0h1.3v1.3h-1.3zM351.6 537.1h1.3v1.3h-1.3zM333.5 546.5h1.3v1.3h-1.3zM343.8 552.0h1.3v1.3h-1.3zM364.1 544.9h1.3v1.3h-1.3zM360.2 534.7h1.3v1.3h-1.3zM358.6 541.3h1.3v1.3h-1.3zM366.8 541.5h1.3v1.3h-1.3zM328.1 551.2h1.3v1.3h-1.3zM363.5 530.0h1.3v1.3h-1.3zM351.1 546.1h1.3v1.3h-1.3zM359.9 532.7h1.3v1.3h-1.3zM342.9 537.1h1.3v1.3h-1.3zM346.2 536.1h1.3v1.3h-1.3zM353.5 528.3h1.3v1.3h-1.3zM355.6 532.4h1.3v1.3h-1.3zM345.7 535.5h1.3v1.3h-1.3zM359.8 543.7h1.3v1.3h-1.3zM345.7 545.7h1.3v1.3h-1.3zM340.5 544.3h1.3v1.3h-1.3zM353.3 542.6h1.3v1.3h-1.3zM337.7 545.6h1.3v1.3h-1.3zM357.3 545.9h1.3v1.3h-1.3zM346.4 552.2h1.3v1.3h-1.3zM370.6 554.1h1.3v1.3h-1.3zM342.3 535.4h1.3v1.3h-1.3zM344.8 540.7h1.3v1.3h-1.3zM354.7 539.0h1.3v1.3h-1.3zM340.6 538.8h1.3v1.3h-1.3zM356.4 532.2h1.3v1.3h-1.3zM336.1 537.5h1.3v1.3h-1.3zM354.2 536.1h1.3v1.3h-1.3zM347.9 535.7h1.3v1.3h-1.3zM356.1 536.4h1.3v1.3h-1.3zM341.9 535.7h1.3v1.3h-1.3zM346.1 537.7h1.3v1.3h-1.3zM326.6 531.7h1.3v1.3h-1.3zM348.2 549.7h1.3v1.3h-1.3zM340.7 530.7h1.3v1.3h-1.3zM347.8 528.7h1.3v1.3h-1.3zM331.1 542.3h1.3v1.3h-1.3zM354.9 537.7h1.3v1.3h-1.3zM355.8 547.1h1.3v1.3h-1.3zM359.6 539.6h1.3v1.3h-1.3zM356.7 536.4h1.3v1.3h-1.3zM353.3 550.5h1.3v1.3h-1.3zM369.4 546.2h1.3v1.3h-1.3zM346.3 536.6h1.3v1.3h-1.3zM339.1 549.8h1.3v1.3h-1.3zM364.3 534.5h1.3v1.3h-1.3zM346.7 540.4h1.3v1.3h-1.3zM335.7 529.8h1.3v1.3h-1.3zM356.9 535.3h1.3v1.3h-1.3zM357.5 545.7h1.3v1.3h-1.3zM366.0 535.4h1.3v1.3h-1.3zM366.3 537.7h1.3v1.3h-1.3zM351.6 554.8h1.3v1.3h-1.3zM346.1 530.7h1.3v1.3h-1.3zM358.7 538.9h1.3v1.3h-1.3zM334.8 554.9h1.3v1.3h-1.3zM344.1 549.8h1.3v1.3h-1.3zM350.6 534.2h1.3v1.3h-1.3zM352.5 528.3h1.3v1.3h-1.3zM363.1 532.0h1.3v1.3h-1.3zM348.8 542.0h1.3v1.3h-1.3zM353.8 544.2h1.3v1.3h-1.3zM336.1 538.0h1.3v1.3h-1.3zM349.8 537.7h1.3v1.3h-1.3zM355.1 550.4h1.3v1.3h-1.3zM338.4 554.6h1.3v1.3h-1.3zM346.0 538.5h1.3v1.3h-1.3zM353.1 540.6h1.3v1.3h-1.3zM358.1 531.3h1.3v1.3h-1.3zM352.4 530.2h1.3v1.3h-1.3zM365.8 554.2h1.3v1.3h-1.3zM348.9 540.4h1.3v1.3h-1.3zM349.8 546.7h1.3v1.3h-1.3zM357.3 546.5h1.3v1.3h-1.3zM359.4 545.3h1.3v1.3h-1.3zM342.1 548.1h1.3v1.3h-1.3zM345.2 531.4h1.3v1.3h-1.3zM355.1 539.8h1.3v1.3h-1.3zM351.4 546.4h1.3v1.3h-1.3zM337.8 539.8h1.3v1.3h-1.3zM344.8 541.2h1.3v1.3h-1.3zM363.1 532.6h1.3v1.3h-1.3zM347.3 538.1h1.3v1.3h-1.3zM354.9 526.2h1.3v1.3h-1.3zM358.1 536.0h1.3v1.3h-1.3zM366.0 553.9h1.3v1.3h-1.3zM348.0 535.7h1.3v1.3h-1.3zM346.7 534.9h1.3v1.3h-1.3zM338.1 533.8h1.3v1.3h-1.3zM352.8 544.1h1.3v1.3h-1.3zM355.8 529.3h1.3v1.3h-1.3zM359.7 538.5h1.3v1.3h-1.3zM357.8 539.8h1.3v1.3h-1.3zM336.5 550.9h1.3v1.3h-1.3zM349.0 536.1h1.3v1.3h-1.3zM336.9 537.9h1.3v1.3h-1.3zM364.1 554.0h1.3v1.3h-1.3zM358.7 536.3h1.3v1.3h-1.3zM352.9 544.2h1.3v1.3h-1.3zM345.1 538.3h1.3v1.3h-1.3zM353.6 532.5h1.3v1.3h-1.3zM348.5 530.9h1.3v1.3h-1.3zM344.6 536.9h1.3v1.3h-1.3zM355.3 547.5h1.3v1.3h-1.3zM343.9 543.1h1.3v1.3h-1.3zM349.9 527.2h1.3v1.3h-1.3zM364.2 546.7h1.3v1.3h-1.3zM356.5 545.3h1.3v1.3h-1.3zM334.0 553.6h1.3v1.3h-1.3zM348.4 540.3h1.3v1.3h-1.3zM335.7 542.6h1.3v1.3h-1.3zM333.8 526.4h1.3v1.3h-1.3zM368.8 542.8h1.3v1.3h-1.3zM360.5 550.4h1.3v1.3h-1.3zM340.1 538.8h1.3v1.3h-1.3zM358.2 541.2h1.3v1.3h-1.3zM330.9 543.7h1.3v1.3h-1.3zM350.8 538.9h1.3v1.3h-1.3zM354.7 536.8h1.3v1.3h-1.3zM343.6 547.5h1.3v1.3h-1.3zM362.2 530.1h1.3v1.3h-1.3zM360.8 538.3h1.3v1.3h-1.3zM366.2 551.7h1.3v1.3h-1.3zM342.2 539.2h1.3v1.3h-1.3zM353.3 530.0h1.3v1.3h-1.3zM335.3 538.1h1.3v1.3h-1.3zM359.1 556.1h1.3v1.3h-1.3zM356.4 543.9h1.3v1.3h-1.3zM347.0 555.5h1.3v1.3h-1.3zM336.8 547.3h1.3v1.3h-1.3zM362.7 555.9h1.3v1.3h-1.3zM342.7 532.3h1.3v1.3h-1.3zM347.4 549.9h1.3v1.3h-1.3zM356.2 541.6h1.3v1.3h-1.3zM361.0 541.7h1.3v1.3h-1.3zM347.5 545.1h1.3v1.3h-1.3zM343.9 546.9h1.3v1.3h-1.3zM345.1 549.2h1.3v1.3h-1.3zM349.0 541.6h1.3v1.3h-1.3zM361.5 538.3h1.3v1.3h-1.3zM348.0 550.0h1.3v1.3h-1.3zM360.4 546.2h1.3v1.3h-1.3zM352.3 553.3h1.3v1.3h-1.3zM358.3 553.6h1.3v1.3h-1.3zM341.6 547.3h1.3v1.3h-1.3zM343.1 526.3h1.3v1.3h-1.3zM369.9 549.1h1.3v1.3h-1.3zM367.7 535.4h1.3v1.3h-1.3zM350.7 535.1h1.3v1.3h-1.3zM364.6 536.5h1.3v1.3h-1.3zM345.3 538.2h1.3v1.3h-1.3zM346.3 535.6h1.3v1.3h-1.3zM370.7 530.9h1.3v1.3h-1.3zM342.2 528.6h1.3v1.3h-1.3zM363.7 533.2h1.3v1.3h-1.3zM359.4 556.3h1.3v1.3h-1.3zM360.7 527.6h1.3v1.3h-1.3zM358.0 538.3h1.3v1.3h-1.3zM367.0 529.2h1.3v1.3h-1.3zM361.5 527.0h1.3v1.3h-1.3zM338.6 553.7h1.3v1.3h-1.3zM352.5 535.7h1.3v1.3h-1.3zM346.9 535.0h1.3v1.3h-1.3zM352.0 530.3h1.3v1.3h-1.3zM347.3 531.6h1.3v1.3h-1.3zM367.7 530.8h1.3v1.3h-1.3zM365.8 552.8h1.3v1.3h-1.3zM348.1 541.0h1.3v1.3h-1.3zM345.5 544.2h1.3v1.3h-1.3zM346.6 542.1h1.3v1.3h-1.3zM357.8 546.9h1.3v1.3h-1.3zM363.1 542.3h1.3v1.3h-1.3zM360.9 541.9h1.3v1.3h-1.3zM337.7 535.7h1.3v1.3h-1.3zM355.5 556.5h1.3v1.3h-1.3zM345.7 545.7h1.3v1.3h-1.3zM338.9 549.9h1.3v1.3h-1.3zM350.0 534.0h1.3v1.3h-1.3zM361.8 542.6h1.3v1.3h-1.3zM362.3 535.8h1.3v1.3h-1.3zM347.3 530.5h1.3v1.3h-1.3zM346.8 538.9h1.3v1.3h-1.3zM353.3 534.4h1.3v1.3h-1.3zM367.8 550.9h1.3v1.3h-1.3zM356.8 543.6h1.3v1.3h-1.3zM338.0 529.1h1.3v1.3h-1.3zM347.3 536.7h1.3v1.3h-1.3zM355.5 535.8h1.3v1.3h-1.3zM345.3 546.4h1.3v1.3h-1.3zM349.6 548.9h1.3v1.3h-1.3zM358.5 536.6h1.3v1.3h-1.3zM354.1 542.6h1.3v1.3h-1.3zM351.7 528.6h1.3v1.3h-1.3zM344.3 541.8h1.3v1.3h-1.3zM359.6 541.9h1.3v1.3h-1.3zM348.4 532.8h1.3v1.3h-1.3zM343.2 542.0h1.3v1.3h-1.3zM365.8 553.8h1.3v1.3h-1.3zM351.5 542.9h1.3v1.3h-1.3zM353.6 549.7h1.3v1.3h-1.3zM362.6 550.4h1.3v1.3h-1.3zM351.0 552.1h1.3v1.3h-1.3zM330.9 530.9h1.3v1.3h-1.3zM356.1 549.9h1.3v1.3h-1.3zM343.1 551.4h1.3v1.3h-1.3zM348.9 540.3h1.3v1.3h-1.3zM350.5 537.3h1.3v1.3h-1.3zM362.2 537.6h1.3v1.3h-1.3zM343.9 549.4h1.3v1.3h-1.3zM339.3 541.4h1.3v1.3h-1.3zM342.8 540.6h1.3v1.3h-1.3zM335.0 537.4h1.3v1.3h-1.3zM333.6 544.1h1.3v1.3h-1.3zM353.0 531.9h1.3v1.3h-1.3zM336.1 533.2h1.3v1.3h-1.3zM341.8 556.4h1.3v1.3h-1.3zM359.1 534.5h1.3v1.3h-1.3zM359.3 544.7h1.3v1.3h-1.3zM343.6 528.7h1.3v1.3h-1.3zM343.0 535.9h1.3v1.3h-1.3zM371.7 536.7h1.3v1.3h-1.3zM340.5 533.4h1.3v1.3h-1.3zM340.5 552.9h1.3v1.3h-1.3zM342.8 547.0h1.3v1.3h-1.3zM339.0 540.9h1.3v1.3h-1.3zM365.3 550.1h1.3v1.3h-1.3zM338.8 549.4h1.3v1.3h-1.3zM351.2 538.0h1.3v1.3h-1.3zM372.2 534.3h1.3v1.3h-1.3zM358.5 537.4h1.3v1.3h-1.3zM343.5 527.4h1.3v1.3h-1.3zM356.3 544.2h1.3v1.3h-1.3zM369.1 533.1h1.3v1.3h-1.3zM364.9 536.7h1.3v1.3h-1.3zM337.6 544.2h1.3v1.3h-1.3zM360.5 538.9h1.3v1.3h-1.3zM367.7 544.0h1.3v1.3h-1.3zM354.4 537.7h1.3v1.3h-1.3zM339.1 546.9h1.3v1.3h-1.3zM370.7 547.2h1.3v1.3h-1.3zM341.5 543.8h1.3v1.3h-1.3zM347.3 546.2h1.3v1.3h-1.3zM354.4 538.0h1.3v1.3h-1.3zM354.4 538.3h1.3v1.3h-1.3zM341.2 555.7h1.3v1.3h-1.3zM348.0 537.5h1.3v1.3h-1.3zM362.7 549.5h1.3v1.3h-1.3zM362.2 534.7h1.3v1.3h-1.3zM348.1 548.9h1.3v1.3h-1.3zM344.4 531.2h1.3v1.3h-1.3zM340.9 535.4h1.3v1.3h-1.3zM335.9 535.4h1.3v1.3h-1.3zM345.8 550.4h1.3v1.3h-1.3zM340.1 539.7h1.3v1.3h-1.3zM346.3 533.1h1.3v1.3h-1.3zM339.3 540.7h1.3v1.3h-1.3zM357.9 541.7h1.3v1.3h-1.3zM336.6 552.6h1.3v1.3h-1.3zM351.9 540.6h1.3v1.3h-1.3zM335.9 537.7h1.3v1.3h-1.3zM370.5 544.5h1.3v1.3h-1.3zM363.9 538.8h1.3v1.3h-1.3zM341.5 532.0h1.3v1.3h-1.3zM349.5 535.1h1.3v1.3h-1.3zM357.7 533.5h1.3v1.3h-1.3zM361.8 529.4h1.3v1.3h-1.3zM334.0 553.2h1.3v1.3h-1.3zM340.9 543.9h1.3v1.3h-1.3zM357.5 543.2h1.3v1.3h-1.3zM363.9 548.5h1.3v1.3h-1.3zM351.5 541.6h1.3v1.3h-1.3zM365.5 541.7h1.3v1.3h-1.3zM361.0 549.1h1.3v1.3h-1.3zM344.9 547.2h1.3v1.3h-1.3zM348.6 537.4h1.3v1.3h-1.3zM356.7 543.4h1.3v1.3h-1.3zM337.5 529.6h1.3v1.3h-1.3zM350.3 535.0h1.3v1.3h-1.3zM348.8 543.1h1.3v1.3h-1.3zM351.1 556.0h1.3v1.3h-1.3zM354.7 545.3h1.3v1.3h-1.3zM343.0 555.6h1.3v1.3h-1.3zM363.3 543.4h1.3v1.3h-1.3zM349.5 546.0h1.3v1.3h-1.3zM363.3 551.7h1.3v1.3h-1.3zM344.8 550.5h1.3v1.3h-1.3zM351.3 534.9h1.3v1.3h-1.3zM348.1 549.5h1.3v1.3h-1.3zM370.7 538.5h1.3v1.3h-1.3zM346.0 542.9h1.3v1.3h-1.3zM347.0 528.7h1.3v1.3h-1.3zM364.4 532.0h1.3v1.3h-1.3zM347.9 542.4h1.3v1.3h-1.3zM349.1 549.3h1.3v1.3h-1.3zM340.0 528.7h1.3v1.3h-1.3zM354.2 540.7h1.3v1.3h-1.3zM339.3 549.0h1.3v1.3h-1.3zM353.8 547.0h1.3v1.3h-1.3zM358.8 534.5h1.3v1.3h-1.3zM349.3 540.7h1.3v1.3h-1.3zM356.7 534.2h1.3v1.3h-1.3zM350.2 538.2h1.3v1.3h-1.3zM349.9 533.9h1.3v1.3h-1.3zM355.2 551.2h1.3v1.3h-1.3zM365.5 540.8h1.3v1.3h-1.3zM355.1 542.1h1.3v1.3h-1.3zM355.3 531.1h1.3v1.3h-1.3zM333.4 556.1h1.3v1.3h-1.3zM360.9 544.6h1.3v1.3h-1.3zM365.2 531.3h1.3v1.3h-1.3zM352.0 538.9h1.3v1.3h-1.3zM372.2 550.3h1.3v1.3h-1.3zM343.4 547.1h1.3v1.3h-1.3zM350.2 528.6h1.3v1.3h-1.3zM346.4 550.8h1.3v1.3h-1.3zM329.7 557.1h1.3v1.3h-1.3zM358.9 550.5h1.3v1.3h-1.3zM331.1 547.6h1.3v1.3h-1.3zM342.4 526.5h1.3v1.3h-1.3zM343.2 544.8h1.3v1.3h-1.3zM363.6 556.3h1.3v1.3h-1.3zM358.9 544.3h1.3v1.3h-1.3zM348.0 530.4h1.3v1.3h-1.3zM356.5 541.4h1.3v1.3h-1.3zM352.1 528.9h1.3v1.3h-1.3zM343.2 540.5h1.3v1.3h-1.3zM347.4 545.0h1.3v1.3h-1.3zM366.6 545.6h1.3v1.3h-1.3zM356.1 538.3h1.3v1.3h-1.3zM337.0 545.2h1.3v1.3h-1.3zM351.6 535.1h1.3v1.3h-1.3zM343.4 549.5h1.3v1.3h-1.3zM357.7 541.0h1.3v1.3h-1.3zM360.0 526.6h1.3v1.3h-1.3zM350.5 555.6h1.3v1.3h-1.3zM347.9 544.5h1.3v1.3h-1.3zM348.9 545.4h1.3v1.3h-1.3zM341.0 527.4h1.3v1.3h-1.3zM360.9 546.7h1.3v1.3h-1.3zM361.6 532.5h1.3v1.3h-1.3zM354.0 540.2h1.3v1.3h-1.3zM329.3 528.1h1.3v1.3h-1.3zM340.5 548.0h1.3v1.3h-1.3zM348.0 530.4h1.3v1.3h-1.3zM360.4 535.2h1.3v1.3h-1.3zM356.4 550.7h1.3v1.3h-1.3zM344.3 535.0h1.3v1.3h-1.3zM350.3 540.9h1.3v1.3h-1.3zM370.3 548.2h1.3v1.3h-1.3zM344.8 543.3h1.3v1.3h-1.3zM349.4 540.8h1.3v1.3h-1.3zM361.4 547.3h1.3v1.3h-1.3zM348.2 549.7h1.3v1.3h-1.3zM361.9 547.5h1.3v1.3h-1.3zM345.4 557.0h1.3v1.3h-1.3zM367.2 533.6h1.3v1.3h-1.3zM360.7 549.5h1.3v1.3h-1.3zM357.0 549.1h1.3v1.3h-1.3zM349.2 539.6h1.3v1.3h-1.3zM359.4 542.7h1.3v1.3h-1.3zM361.3 555.6h1.3v1.3h-1.3zM352.9 546.8h1.3v1.3h-1.3zM366.3 532.9h1.3v1.3h-1.3zM336.3 546.9h1.3v1.3h-1.3zM367.7 538.2h1.3v1.3h-1.3zM356.1 537.6h1.3v1.3h-1.3zM351.3 540.8h1.3v1.3h-1.3zM345.0 528.8h1.3v1.3h-1.3zM358.0 540.8h1.3v1.3h-1.3zM350.5 542.5h1.3v1.3h-1.3zM351.4 538.6h1.3v1.3h-1.3zM347.2 542.8h1.3v1.3h-1.3zM345.7 537.8h1.3v1.3h-1.3zM358.5 548.8h1.3v1.3h-1.3zM362.0 553.2h1.3v1.3h-1.3zM357.0 544.3h1.3v1.3h-1.3zM329.3 553.1h1.3v1.3h-1.3zM356.2 540.7h1.3v1.3h-1.3zM334.9 539.0h1.3v1.3h-1.3zM341.0 540.8h1.3v1.3h-1.3zM354.5 541.0h1.3v1.3h-1.3zM349.9 540.3h1.3v1.3h-1.3zM373.3 532.3h1.3v1.3h-1.3zM357.8 533.2h1.3v1.3h-1.3zM348.2 553.4h1.3v1.3h-1.3zM340.9 541.3h1.3v1.3h-1.3zM339.5 556.4h1.3v1.3h-1.3zM355.1 549.4h1.3v1.3h-1.3zM350.6 552.6h1.3v1.3h-1.3zM338.1 547.5h1.3v1.3h-1.3zM328.7 554.5h1.3v1.3h-1.3zM345.2 537.3h1.3v1.3h-1.3zM365.6 541.6h1.3v1.3h-1.3zM357.5 536.9h1.3v1.3h-1.3zM347.0 551.9h1.3v1.3h-1.3zM344.7 536.5h1.3v1.3h-1.3zM357.7 538.7h1.3v1.3h-1.3zM335.6 540.0h1.3v1.3h-1.3zM368.9 534.7h1.3v1.3h-1.3zM335.6 550.7h1.3v1.3h-1.3zM346.3 536.2h1.3v1.3h-1.3zM373.7 543.3h1.3v1.3h-1.3zM339.8 547.9h1.3v1.3h-1.3zM355.6 538.7h1.3v1.3h-1.3zM346.5 540.9h1.3v1.3h-1.3zM344.0 549.4h1.3v1.3h-1.3zM351.4 547.6h1.3v1.3h-1.3zM351.4 552.3h1.3v1.3h-1.3zM362.0 543.1h1.3v1.3h-1.3zM344.9 552.1h1.3v1.3h-1.3zM344.4 535.6h1.3v1.3h-1.3zM349.1 544.0h1.3v1.3h-1.3zM345.7 539.3h1.3v1.3h-1.3zM353.8 553.2h1.3v1.3h-1.3zM344.1 533.0h1.3v1.3h-1.3zM337.4 539.3h1.3v1.3h-1.3zM353.3 547.8h1.3v1.3h-1.3zM347.0 529.5h1.3v1.3h-1.3zM338.3 551.7h1.3v1.3h-1.3zM358.5 549.8h1.3v1.3h-1.3zM361.5 542.7h1.3v1.3h-1.3zM346.3 531.3h1.3v1.3h-1.3zM352.0 539.2h1.3v1.3h-1.3zM339.7 535.7h1.3v1.3h-1.3zM337.7 547.2h1.3v1.3h-1.3zM352.8 555.5h1.3v1.3h-1.3zM352.3 539.5h1.3v1.3h-1.3zM359.3 545.0h1.3v1.3h-1.3zM329.3 541.7h1.3v1.3h-1.3zM336.8 528.6h1.3v1.3h-1.3zM340.2 553.5h1.3v1.3h-1.3zM369.6 537.8h1.3v1.3h-1.3zM357.4 550.0h1.3v1.3h-1.3zM349.8 536.4h1.3v1.3h-1.3zM337.3 533.1h1.3v1.3h-1.3zM337.1 536.0h1.3v1.3h-1.3zM346.6 537.8h1.3v1.3h-1.3zM346.8 548.9h1.3v1.3h-1.3zM349.5 544.2h1.3v1.3h-1.3zM338.9 533.0h1.3v1.3h-1.3zM351.3 528.0h1.3v1.3h-1.3zM356.0 544.2h1.3v1.3h-1.3zM361.1 532.7h1.3v1.3h-1.3zM350.6 540.7h1.3v1.3h-1.3zM368.1 545.5h1.3v1.3h-1.3zM366.3 532.5h1.3v1.3h-1.3zM350.0 547.2h1.3v1.3h-1.3zM357.4 551.3h1.3v1.3h-1.3zM360.9 538.9h1.3v1.3h-1.3zM348.0 538.6h1.3v1.3h-1.3zM359.2 550.3h1.3v1.3h-1.3zM343.9 546.5h1.3v1.3h-1.3zM348.1 536.0h1.3v1.3h-1.3zM352.5 551.7h1.3v1.3h-1.3zM347.8 533.0h1.3v1.3h-1.3zM342.7 538.0h1.3v1.3h-1.3zM351.1 542.5h1.3v1.3h-1.3zM348.5 540.1h1.3v1.3h-1.3zM355.1 527.6h1.3v1.3h-1.3zM344.0 556.5h1.3v1.3h-1.3zM348.1 552.9h1.3v1.3h-1.3zM348.2 536.6h1.3v1.3h-1.3zM338.6 546.0h1.3v1.3h-1.3zM345.3 556.5h1.3v1.3h-1.3zM361.1 548.3h1.3v1.3h-1.3zM342.2 545.1h1.3v1.3h-1.3zM342.7 541.1h1.3v1.3h-1.3zM359.4 553.6h1.3v1.3h-1.3zM334.2 552.8h1.3v1.3h-1.3zM370.5 533.2h1.3v1.3h-1.3zM351.9 551.5h1.3v1.3h-1.3zM351.0 550.9h1.3v1.3h-1.3zM352.4 549.3h1.3v1.3h-1.3zM349.8 534.6h1.3v1.3h-1.3zM355.8 531.8h1.3v1.3h-1.3zM337.4 536.0h1.3v1.3h-1.3zM353.2 537.7h1.3v1.3h-1.3zM353.4 532.2h1.3v1.3h-1.3zM362.5 544.2h1.3v1.3h-1.3zM349.8 533.0h1.3v1.3h-1.3zM349.9 537.9h1.3v1.3h-1.3zM349.0 527.9h1.3v1.3h-1.3zM358.3 542.8h1.3v1.3h-1.3zM369.1 552.2h1.3v1.3h-1.3zM337.3 534.5h1.3v1.3h-1.3zM356.5 545.3h1.3v1.3h-1.3zM353.1 540.8h1.3v1.3h-1.3zM357.9 554.3h1.3v1.3h-1.3zM338.4 541.7h1.3v1.3h-1.3zM339.3 528.3h1.3v1.3h-1.3zM341.9 551.2h1.3v1.3h-1.3zM354.2 539.5h1.3v1.3h-1.3zM350.9 546.5h1.3v1.3h-1.3zM346.5 541.1h1.3v1.3h-1.3zM342.5 537.5h1.3v1.3h-1.3zM352.5 542.7h1.3v1.3h-1.3zM356.6 554.5h1.3v1.3h-1.3zM359.0 548.2h1.3v1.3h-1.3zM343.9 551.5h1.3v1.3h-1.3zM374.0 538.6h1.3v1.3h-1.3zM363.7 550.2h1.3v1.3h-1.3zM352.2 540.3h1.3v1.3h-1.3zM366.5 537.1h1.3v1.3h-1.3zM358.8 539.6h1.3v1.3h-1.3zM359.8 554.8h1.3v1.3h-1.3zM359.0 553.1h1.3v1.3h-1.3zM348.9 547.3h1.3v1.3h-1.3zM354.1 545.7h1.3v1.3h-1.3zM345.6 546.2h1.3v1.3h-1.3zM334.6 539.4h1.3v1.3h-1.3zM365.8 535.8h1.3v1.3h-1.3zM348.6 549.3h1.3v1.3h-1.3zM343.5 545.3h1.3v1.3h-1.3zM340.9 538.3h1.3v1.3h-1.3zM364.1 529.4h1.3v1.3h-1.3zM358.2 537.1h1.3v1.3h-1.3zM347.7 536.7h1.3v1.3h-1.3zM329.7 529.1h1.3v1.3h-1.3zM345.6 529.9h1.3v1.3h-1.3zM357.6 530.8h1.3v1.3h-1.3zM348.6 535.0h1.3v1.3h-1.3zM353.4 546.5h1.3v1.3h-1.3zM338.8 554.5h1.3v1.3h-1.3zM341.6 526.6h1.3v1.3h-1.3zM349.5 550.5h1.3v1.3h-1.3zM355.3 538.5h1.3v1.3h-1.3z" fill="#0808f0"/>
<path d="M352.6 535.5h1.2v1.2h-1.2zM356.5 540.9h1.2v1.2h-1.2zM329.3 526.6h1.2v1.2h-1.2zM348.8 533.1h1.2v1.2h-1.2zM340.5 536.9h1.2v1.2h-1.2zM357.1 534.5h1.2v1.2h-1.2zM359.2 527.1h1.2v1.2h-1.2zM332.0 544.3h1.2v1.2h-1.2zM333.0 530.2h1.2v1.2h-1.2zM369.5 528.6h1.2v1.2h-1.2zM341.8 546.0h1.2v1.2h-1.2zM357.6 532.2h1.2v1.2h-1.2zM347.7 545.4h1.2v1.2h-1.2zM361.4 529.8h1.2v1.2h-1.2zM361.5 552.3h1.2v1.2h-1.2zM363.7 527.3h1.2v1.2h-1.2zM357.3 549.3h1.2v1.2h-1.2zM340.6 528.7h1.2v1.2h-1.2zM352.6 550.2h1.2v1.2h-1.2zM349.7 537.5h1.2v1.2h-1.2zM353.9 529.5h1.2v1.2h-1.2zM327.9 539.5h1.2v1.2h-1.2zM339.6 531.8h1.2v1.2h-1.2zM371.9 557.1h1.2v1.2h-1.2zM372.5 537.2h1.2v1.2h-1.2zM340.4 551.7h1.2v1.2h-1.2zM328.8 542.8h1.2v1.2h-1.2zM356.6 546.3h1.2v1.2h-1.2zM340.2 536.8h1.2v1.2h-1.2zM332.9 540.3h1.2v1.2h-1.2zM335.0 547.9h1.2v1.2h-1.2zM355.8 540.4h1.2v1.2h-1.2zM353.3 543.3h1.2v1.2h-1.2zM367.3 555.3h1.2v1.2h-1.2zM358.2 552.4h1.2v1.2h-1.2zM372.7 536.8h1.2v1.2h-1.2zM333.4 553.5h1.2v1.2h-1.2zM369.1 540.2h1.2v1.2h-1.2zM344.4 544.6h1.2v1.2h-1.2zM357.6 556.9h1.2v1.2h-1.2zM368.1 549.8h1.2v1.2h-1.2zM346.8 537.9h1.2v1.2h-1.2zM338.1 537.9h1.2v1.2h-1.2zM372.6 543.0h1.2v1.2h-1.2zM339.8 541.2h1.2v1.2h-1.2zM349.4 547.1h1.2v1.2h-1.2zM370.5 547.5h1.2v1.2h-1.2zM352.7 534.1h1.2v1.2h-1.2zM354.3 544.3h1.2v1.2h-1.2zM334.3 541.9h1.2v1.2h-1.2zM343.8 550.3h1.2v1.2h-1.2zM354.9 542.2h1.2v1.2h-1.2zM352.8 552.0h1.2v1.2h-1.2zM355.4 536.8h1.2v1.2h-1.2zM340.7 534.6h1.2v1.2h-1.2zM346.7 541.2h1.2v1.2h-1.2zM340.3 544.9h1.2v1.2h-1.2zM364.6 550.4h1.2v1.2h-1.2zM337.5 549.6h1.2v1.2h-1.2zM351.6 555.3h1.2v1.2h-1.2zM347.9 543.7h1.2v1.2h-1.2zM352.5 543.2h1.2v1.2h-1.2zM332.5 549.6h1.2v1.2h-1.2zM342.4 556.5h1.2v1.2h-1.2zM348.4 528.7h1.2v1.2h-1.2zM366.5 542.2h1.2v1.2h-1.2zM371.2 551.3h1.2v1.2h-1.2zM363.2 527.5h1.2v1.2h-1.2zM353.4 529.9h1.2v1.2h-1.2zM357.4 536.5h1.2v1.2h-1.2zM327.0 544.5h1.2v1.2h-1.2zM354.3 547.2h1.2v1.2h-1.2zM345.7 548.5h1.2v1.2h-1.2zM339.5 547.3h1.2v1.2h-1.2zM327.0 547.7h1.2v1.2h-1.2zM329.9 555.7h1.2v1.2h-1.2zM337.7 547.5h1.2v1.2h-1.2zM329.8 548.5h1.2v1.2h-1.2zM334.9 553.8h1.2v1.2h-1.2zM354.8 528.2h1.2v1.2h-1.2zM351.6 548.2h1.2v1.2h-1.2zM338.7 547.0h1.2v1.2h-1.2zM364.5 532.3h1.2v1.2h-1.2zM342.4 540.7h1.2v1.2h-1.2zM348.3 530.8h1.2v1.2h-1.2zM340.8 530.4h1.2v1.2h-1.2zM360.3 544.4h1.2v1.2h-1.2zM338.7 545.6h1.2v1.2h-1.2zM336.9 548.8h1.2v1.2h-1.2zM345.3 553.1h1.2v1.2h-1.2zM358.7 544.7h1.2v1.2h-1.2zM343.0 551.8h1.2v1.2h-1.2zM354.9 535.4h1.2v1.2h-1.2zM359.4 535.3h1.2v1.2h-1.2zM349.2 550.4h1.2v1.2h-1.2zM338.9 537.3h1.2v1.2h-1.2zM349.5 553.9h1.2v1.2h-1.2zM335.2 544.4h1.2v1.2h-1.2zM345.8 555.8h1.2v1.2h-1.2zM368.8 551.7h1.2v1.2h-1.2zM348.1 543.7h1.2v1.2h-1.2zM373.1 531.0h1.2v1.2h-1.2zM354.9 552.2h1.2v1.2h-1.2zM331.1 538.1h1.2v1.2h-1.2zM341.1 546.1h1.2v1.2h-1.2zM358.5 552.7h1.2v1.2h-1.2zM344.2 549.3h1.2v1.2h-1.2zM326.7 546.3h1.2v1.2h-1.2zM337.2 549.4h1.2v1.2h-1.2zM347.1 532.0h1.2v1.2h-1.2zM356.7 556.1h1.2v1.2h-1.2zM350.7 532.4h1.2v1.2h-1.2zM371.7 542.2h1.2v1.2h-1.2zM359.1 544.0h1.2v1.2h-1.2zM346.7 538.4h1.2v1.2h-1.2zM344.5 551.5h1.2v1.2h-1.2zM344.1 531.7h1.2v1.2h-1.2zM365.9 529.2h1.2v1.2h-1.2zM368.9 546.2h1.2v1.2h-1.2zM355.4 544.7h1.2v1.2h-1.2zM345.1 535.9h1.2v1.2h-1.2zM332.8 538.8h1.2v1.2h-1.2zM362.0 556.6h1.2v1.2h-1.2zM365.9 527.0h1.2v1.2h-1.2zM352.4 542.9h1.2v1.2h-1.2zM351.1 539.1h1.2v1.2h-1.2zM349.7 549.2h1.2v1.2h-1.2zM336.3 550.3h1.2v1.2h-1.2zM330.3 554.8h1.2v1.2h-1.2zM356.3 540.7h1.2v1.2h-1.2zM351.3 547.4h1.2v1.2h-1.2zM351.8 540.7h1.2v1.2h-1.2zM352.1 547.8h1.2v1.2h-1.2zM347.0 543.7h1.2v1.2h-1.2zM332.1 555.9h1.2v1.2h-1.2zM372.2 546.3h1.2v1.2h-1.2zM366.6 529.3h1.2v1.2h-1.2zM341.1 549.6h1.2v1.2h-1.2zM349.8 542.8h1.2v1.2h-1.2zM350.6 535.0h1.2v1.2h-1.2zM341.1 537.0h1.2v1.2h-1.2zM358.5 554.4h1.2v1.2h-1.2zM332.8 555.2h1.2v1.2h-1.2zM329.9 527.9h1.2v1.2h-1.2zM364.6 547.4h1.2v1.2h-1.2zM331.2 542.3h1.2v1.2h-1.2zM353.7 527.5h1.2v1.2h-1.2zM351.4 543.3h1.2v1.2h-1.2zM371.1 539.4h1.2v1.2h-1.2zM355.8 543.9h1.2v1.2h-1.2zM349.8 531.1h1.2v1.2h-1.2zM343.5 526.5h1.2v1.2h-1.2zM330.2 550.5h1.2v1.2h-1.2zM360.3 541.3h1.2v1.2h-1.2zM346.2 543.7h1.2v1.2h-1.2zM365.2 544.7h1.2v1.2h-1.2zM351.1 536.8h1.2v1.2h-1.2zM332.4 543.8h1.2v1.2h-1.2zM368.8 540.0h1.2v1.2h-1.2zM357.0 528.2h1.2v1.2h-1.2zM341.2 532.0h1.2v1.2h-1.2zM346.4 544.3h1.2v1.2h-1.2zM356.4 538.3h1.2v1.2h-1.2zM364.7 541.8h1.2v1.2h-1.2zM349.4 539.7h1.2v1.2h-1.2zM360.4 536.8h1.2v1.2h-1.2zM366.2 529.9h1.2v1.2h-1.2zM359.7 549.2h1.2v1.2h-1.2zM344.8 538.6h1.2v1.2h-1.2zM345.5 548.7h1.2v1.2h-1.2zM371.6 538.6h1.2v1.2h-1.2zM349.4 546.1h1.2v1.2h-1.2zM336.9 530.2h1.2v1.2h-1.2zM346.7 543.5h1.2v1.2h-1.2zM351.2 542.7h1.2v1.2h-1.2zM362.0 547.0h1.2v1.2h-1.2zM367.9 554.1h1.2v1.2h-1.2zM351.0 527.5h1.2v1.2h-1.2z" fill="#0808f0"/>
<path d="M350.8 561.3h1.2v1.2h-1.2zM365.6 560.3h1.2v1.2h-1.2zM344.9 560.6h1.2v1.2h-1.2zM342.5 557.4h1.2v1.2h-1.2zM364.4 558.6h1.2v1.2h-1.2zM363.0 558.3h1.2v1.2h-1.2zM353.3 557.8h1.2v1.2h-1.2zM358.7 561.7h1.2v1.2h-1.2zM351.5 559.0h1.2v1.2h-1.2zM361.5 558.7h1.2v1.2h-1.2zM342.8 560.7h1.2v1.2h-1.2zM349.4 560.0h1.2v1.2h-1.2zM342.0 560.1h1.2v1.2h-1.2zM337.3 559.7h1.2v1.2h-1.2zM350.5 560.5h1.2v1.2h-1.2zM342.5 559.6h1.2v1.2h-1.2zM360.3 558.9h1.2v1.2h-1.2zM350.2 560.0h1.2v1.2h-1.2zM350.8 560.6h1.2v1.2h-1.2zM342.7 560.5h1.2v1.2h-1.2zM362.9 557.9h1.2v1.2h-1.2zM343.8 558.4h1.2v1.2h-1.2zM348.1 557.5h1.2v1.2h-1.2zM353.0 560.5h1.2v1.2h-1.2zM360.2 558.0h1.2v1.2h-1.2zM343.8 561.6h1.2v1.2h-1.2zM352.7 559.8h1.2v1.2h-1.2zM334.4 558.9h1.2v1.2h-1.2zM353.4 560.3h1.2v1.2h-1.2zM350.2 561.0h1.2v1.2h-1.2zM360.6 559.3h1.2v1.2h-1.2zM357.0 561.8h1.2v1.2h-1.2zM357.5 561.6h1.2v1.2h-1.2zM358.5 557.9h1.2v1.2h-1.2zM353.4 559.5h1.2v1.2h-1.2zM352.4 559.5h1.2v1.2h-1.2zM341.1 559.3h1.2v1.2h-1.2zM353.4 560.7h1.2v1.2h-1.2zM360.4 559.7h1.2v1.2h-1.2zM353.9 558.6h1.2v1.2h-1.2zM350.9 559.6h1.2v1.2h-1.2zM340.3 561.1h1.2v1.2h-1.2zM344.2 562.2h1.2v1.2h-1.2zM362.8 559.5h1.2v1.2h-1.2zM355.0 559.7h1.2v1.2h-1.2zM350.0 557.7h1.2v1.2h-1.2zM356.3 559.4h1.2v1.2h-1.2zM343.3 560.3h1.2v1.2h-1.2zM360.8 559.4h1.2v1.2h-1.2zM339.0 560.5h1.2v1.2h-1.2zM360.8 560.3h1.2v1.2h-1.2zM369.4 558.4h1.2v1.2h-1.2zM342.7 560.2h1.2v1.2h-1.2zM342.6 560.0h1.2v1.2h-1.2zM350.9 560.7h1.2v1.2h-1.2zM355.7 559.6h1.2v1.2h-1.2zM345.2 558.4h1.2v1.2h-1.2zM356.5 559.9h1.2v1.2h-1.2zM350.6 559.4h1.2v1.2h-1.2zM346.3 561.0h1.2v1.2h-1.2zM346.9 560.9h1.2v1.2h-1.2zM364.0 559.7h1.2v1.2h-1.2zM349.6 560.1h1.2v1.2h-1.2zM362.2 560.0h1.2v1.2h-1.2zM350.5 561.5h1.2v1.2h-1.2zM354.4 557.4h1.2v1.2h-1.2zM350.4 558.8h1.2v1.2h-1.2zM359.2 558.5h1.2v1.2h-1.2zM350.3 560.8h1.2v1.2h-1.2zM345.9 559.1h1.2v1.2h-1.2zM359.4 560.1h1.2v1.2h-1.2zM355.4 559.2h1.2v1.2h-1.2zM341.5 559.7h1.2v1.2h-1.2zM361.3 557.5h1.2v1.2h-1.2zM350.5 560.4h1.2v1.2h-1.2zM353.2 559.6h1.2v1.2h-1.2zM356.6 561.7h1.2v1.2h-1.2zM345.6 558.8h1.2v1.2h-1.2zM358.4 558.2h1.2v1.2h-1.2zM345.7 562.9h1.2v1.2h-1.2zM360.6 557.8h1.2v1.2h-1.2zM352.1 560.7h1.2v1.2h-1.2zM361.6 560.8h1.2v1.2h-1.2zM344.2 558.6h1.2v1.2h-1.2zM359.0 559.6h1.2v1.2h-1.2zM344.9 560.3h1.2v1.2h-1.2zM354.1 558.1h1.2v1.2h-1.2zM346.3 559.9h1.2v1.2h-1.2zM357.5 559.8h1.2v1.2h-1.2zM344.6 557.6h1.2v1.2h-1.2zM350.2 557.9h1.2v1.2h-1.2zM353.2 561.5h1.2v1.2h-1.2zM349.6 558.0h1.2v1.2h-1.2zM353.0 562.4h1.2v1.2h-1.2zM347.7 557.7h1.2v1.2h-1.2zM361.1 559.5h1.2v1.2h-1.2zM339.6 558.5h1.2v1.2h-1.2zM360.1 557.5h1.2v1.2h-1.2zM344.6 561.4h1.2v1.2h-1.2zM347.1 557.5h1.2v1.2h-1.2zM350.2 561.2h1.2v1.2h-1.2zM337.3 561.2h1.2v1.2h-1.2zM353.0 560.2h1.2v1.2h-1.2zM356.2 559.3h1.2v1.2h-1.2zM335.6 559.4h1.2v1.2h-1.2zM356.3 562.7h1.2v1.2h-1.2zM346.5 557.8h1.2v1.2h-1.2zM357.9 557.7h1.2v1.2h-1.2zM348.1 558.4h1.2v1.2h-1.2zM345.5 558.9h1.2v1.2h-1.2zM344.5 560.4h1.2v1.2h-1.2zM350.7 558.0h1.2v1.2h-1.2zM346.4 560.7h1.2v1.2h-1.2zM359.0 560.8h1.2v1.2h-1.2zM347.7 560.3h1.2v1.2h-1.2zM352.2 559.7h1.2v1.2h-1.2zM356.3 559.9h1.2v1.2h-1.2zM349.1 558.6h1.2v1.2h-1.2zM347.7 560.5h1.2v1.2h-1.2zM359.3 559.5h1.2v1.2h-1.2zM345.0 559.3h1.2v1.2h-1.2zM341.9 559.3h1.2v1.2h-1.2zM358.7 559.2h1.2v1.2h-1.2zM369.9 560.1h1.2v1.2h-1.2zM344.8 559.3h1.2v1.2h-1.2zM341.2 559.5h1.2v1.2h-1.2zM344.1 561.6h1.2v1.2h-1.2zM357.5 560.2h1.2v1.2h-1.2zM347.2 558.2h1.2v1.2h-1.2zM344.4 561.5h1.2v1.2h-1.2zM340.5 559.8h1.2v1.2h-1.2zM347.6 559.5h1.2v1.2h-1.2zM355.3 560.7h1.2v1.2h-1.2zM357.5 559.8h1.2v1.2h-1.2z" fill="#262626"/>
<path d="M344.6 563.8h1.2v1.2h-1.2zM346.2 565.5h1.2v1.2h-1.2zM356.0 565.3h1.2v1.2h-1.2zM356.3 565.1h1.2v1.2h-1.2zM343.9 563.9h1.2v1.2h-1.2zM359.5 565.5h1.2v1.2h-1.2zM351.5 564.7h1.2v1.2h-1.2zM353.2 565.3h1.2v1.2h-1.2zM346.2 565.0h1.2v1.2h-1.2zM346.2 564.2h1.2v1.2h-1.2zM350.8 563.6h1.2v1.2h-1.2zM355.2 564.5h1.2v1.2h-1.2zM356.5 563.7h1.2v1.2h-1.2zM343.8 567.5h1.2v1.2h-1.2zM360.4 565.4h1.2v1.2h-1.2zM360.6 565.7h1.2v1.2h-1.2zM353.3 565.4h1.2v1.2h-1.2zM361.0 566.3h1.2v1.2h-1.2zM341.8 565.2h1.2v1.2h-1.2zM338.2 564.5h1.2v1.2h-1.2zM348.4 566.0h1.2v1.2h-1.2zM356.2 564.5h1.2v1.2h-1.2zM350.2 566.6h1.2v1.2h-1.2zM350.4 564.3h1.2v1.2h-1.2zM348.5 566.9h1.2v1.2h-1.2zM350.8 565.3h1.2v1.2h-1.2zM350.1 565.7h1.2v1.2h-1.2zM349.6 566.6h1.2v1.2h-1.2zM360.0 565.4h1.2v1.2h-1.2zM339.3 566.6h1.2v1.2h-1.2z" fill="#78d030"/>
<path d="M388.1 541.0h1.2v1.2h-1.2zM389.9 503.7h1.2v1.2h-1.2zM400.2 544.8h1.2v1.2h-1.2zM384.4 532.7h1.2v1.2h-1.2zM400.8 548.5h1.2v1.2h-1.2zM380.5 524.5h1.2v1.2h-1.2zM391.8 535.6h1.2v1.2h-1.2zM403.9 552.0h1.2v1.2h-1.2zM387.8 547.6h1.2v1.2h-1.2zM389.7 528.9h1.2v1.2h-1.2zM391.0 553.7h1.2v1.2h-1.2zM381.5 535.5h1.2v1.2h-1.2zM389.9 538.0h1.2v1.2h-1.2zM397.6 550.4h1.2v1.2h-1.2zM395.8 543.6h1.2v1.2h-1.2zM385.4 556.8h1.2v1.2h-1.2zM390.8 546.3h1.2v1.2h-1.2zM398.9 531.5h1.2v1.2h-1.2zM389.5 552.5h1.2v1.2h-1.2zM384.4 535.0h1.2v1.2h-1.2zM380.9 539.2h1.2v1.2h-1.2zM382.5 556.2h1.2v1.2h-1.2zM409.3 538.8h1.2v1.2h-1.2zM386.9 536.8h1.2v1.2h-1.2zM388.8 531.7h1.2v1.2h-1.2zM385.2 532.5h1.2v1.2h-1.2zM385.2 532.6h1.2v1.2h-1.2zM393.0 527.3h1.2v1.2h-1.2zM399.1 542.0h1.2v1.2h-1.2zM375.3 524.0h1.2v1.2h-1.2zM379.3 521.7h1.2v1.2h-1.2zM384.9 548.4h1.2v1.2h-1.2zM387.9 538.0h1.2v1.2h-1.2zM402.7 545.8h1.2v1.2h-1.2zM374.7 541.1h1.2v1.2h-1.2zM375.0 537.9h1.2v1.2h-1.2zM387.7 555.7h1.2v1.2h-1.2zM388.1 531.9h1.2v1.2h-1.2zM388.0 545.2h1.2v1.2h-1.2zM380.0 538.7h1.2v1.2h-1.2zM390.5 531.5h1.2v1.2h-1.2zM394.3 532.1h1.2v1.2h-1.2zM379.8 538.2h1.2v1.2h-1.2zM389.3 540.8h1.2v1.2h-1.2z" fill="#262626"/>
<path d="M430.1 485.6h1.2v1.2h-1.2zM430.3 488.8h1.2v1.2h-1.2zM415.8 490.1h1.2v1.2h-1.2zM417.2 492.7h1.2v1.2h-1.2zM422.6 491.3h1.2v1.2h-1.2zM415.6 490.3h1.2v1.2h-1.2zM413.8 487.0h1.2v1.2h-1.2zM410.3 488.0h1.2v1.2h-1.2zM406.4 485.5h1.2v1.2h-1.2zM428.2 491.1h1.2v1.2h-1.2zM439.8 492.5h1.2v1.2h-1.2zM436.7 490.7h1.2v1.2h-1.2zM416.0 486.4h1.2v1.2h-1.2zM431.0 492.1h1.2v1.2h-1.2zM413.9 492.1h1.2v1.2h-1.2zM424.4 490.3h1.2v1.2h-1.2zM409.8 488.1h1.2v1.2h-1.2zM430.7 488.3h1.2v1.2h-1.2zM435.6 485.4h1.2v1.2h-1.2zM439.8 489.9h1.2v1.2h-1.2zM417.5 487.7h1.2v1.2h-1.2zM432.6 486.0h1.2v1.2h-1.2zM410.8 489.0h1.2v1.2h-1.2zM429.4 488.4h1.2v1.2h-1.2zM420.5 492.4h1.2v1.2h-1.2zM423.0 489.1h1.2v1.2h-1.2zM440.6 494.0h1.2v1.2h-1.2zM413.9 486.0h1.2v1.2h-1.2zM411.6 490.8h1.2v1.2h-1.2zM429.2 488.2h1.2v1.2h-1.2zM421.5 486.8h1.2v1.2h-1.2zM425.6 491.9h1.2v1.2h-1.2zM409.3 487.1h1.2v1.2h-1.2zM430.8 489.9h1.2v1.2h-1.2zM420.5 488.6h1.2v1.2h-1.2zM419.7 488.2h1.2v1.2h-1.2zM415.1 488.2h1.2v1.2h-1.2zM422.6 485.5h1.2v1.2h-1.2zM422.9 489.0h1.2v1.2h-1.2zM422.8 489.9h1.2v1.2h-1.2zM430.3 495.1h1.2v1.2h-1.2zM424.2 491.1h1.2v1.2h-1.2zM420.2 489.9h1.2v1.2h-1.2zM419.1 488.9h1.2v1.2h-1.2zM443.6 490.4h1.2v1.2h-1.2zM413.1 492.6h1.2v1.2h-1.2zM420.8 485.8h1.2v1.2h-1.2zM409.6 491.4h1.2v1.2h-1.2zM423.2 491.0h1.2v1.2h-1.2zM407.6 485.0h1.2v1.2h-1.2zM421.2 490.8h1.2v1.2h-1.2zM418.6 492.8h1.2v1.2h-1.2zM421.6 485.9h1.2v1.2h-1.2zM428.6 491.0h1.2v1.2h-1.2zM427.4 489.9h1.2v1.2h-1.2zM408.7 490.5h1.2v1.2h-1.2zM423.0 488.7h1.2v1.2h-1.2zM416.1 490.8h1.2v1.2h-1.2zM416.1 486.0h1.2v1.2h-1.2zM436.2 490.0h1.2v1.2h-1.2zM433.8 492.4h1.2v1.2h-1.2zM426.2 493.2h1.2v1.2h-1.2zM442.1 485.2h1.2v1.2h-1.2zM417.4 487.0h1.2v1.2h-1.2zM420.4 487.3h1.2v1.2h-1.2zM425.5 488.5h1.2v1.2h-1.2zM429.5 488.3h1.2v1.2h-1.2zM419.2 489.8h1.2v1.2h-1.2zM412.2 488.2h1.2v1.2h-1.2zM427.8 487.6h1.2v1.2h-1.2zM432.0 488.2h1.2v1.2h-1.2zM422.4 489.8h1.2v1.2h-1.2zM424.6 489.1h1.2v1.2h-1.2zM417.3 487.3h1.2v1.2h-1.2zM427.0 486.2h1.2v1.2h-1.2zM419.9 487.8h1.2v1.2h-1.2zM408.0 489.0h1.2v1.2h-1.2zM435.7 489.4h1.2v1.2h-1.2zM422.1 488.4h1.2v1.2h-1.2zM422.9 491.1h1.2v1.2h-1.2zM425.0 494.1h1.2v1.2h-1.2zM437.0 490.1h1.2v1.2h-1.2zM412.6 494.6h1.2v1.2h-1.2zM423.0 486.6h1.2v1.2h-1.2zM412.4 492.8h1.2v1.2h-1.2zM422.6 491.8h1.2v1.2h-1.2zM412.4 490.4h1.2v1.2h-1.2zM415.4 492.0h1.2v1.2h-1.2zM406.8 492.1h1.2v1.2h-1.2zM414.1 488.1h1.2v1.2h-1.2zM410.9 493.4h1.2v1.2h-1.2zM422.2 489.0h1.2v1.2h-1.2zM415.6 487.7h1.2v1.2h-1.2zM422.4 488.6h1.2v1.2h-1.2zM420.6 489.9h1.2v1.2h-1.2zM433.4 490.9h1.2v1.2h-1.2zM424.7 489.3h1.2v1.2h-1.2zM414.0 491.4h1.2v1.2h-1.2zM410.4 487.3h1.2v1.2h-1.2zM419.6 489.2h1.2v1.2h-1.2zM426.6 491.9h1.2v1.2h-1.2zM425.6 498.2h1.2v1.2h-1.2zM415.9 487.0h1.2v1.2h-1.2zM414.4 490.2h1.2v1.2h-1.2zM436.2 490.4h1.2v1.2h-1.2zM421.6 491.0h1.2v1.2h-1.2zM430.4 493.2h1.2v1.2h-1.2zM406.6 489.6h1.2v1.2h-1.2zM434.6 489.8h1.2v1.2h-1.2zM411.3 491.1h1.2v1.2h-1.2zM418.1 489.8h1.2v1.2h-1.2zM445.8 487.7h1.2v1.2h-1.2zM418.9 490.9h1.2v1.2h-1.2zM415.4 490.4h1.2v1.2h-1.2zM413.5 490.3h1.2v1.2h-1.2zM433.8 489.6h1.2v1.2h-1.2zM441.4 490.1h1.2v1.2h-1.2zM423.3 486.6h1.2v1.2h-1.2zM425.2 487.4h1.2v1.2h-1.2zM426.3 490.5h1.2v1.2h-1.2zM429.9 485.5h1.2v1.2h-1.2zM431.1 487.6h1.2v1.2h-1.2zM414.2 486.3h1.2v1.2h-1.2zM414.8 491.1h1.2v1.2h-1.2zM413.6 485.5h1.2v1.2h-1.2zM419.8 489.1h1.2v1.2h-1.2zM419.6 491.4h1.2v1.2h-1.2zM418.4 489.6h1.2v1.2h-1.2zM420.8 494.1h1.2v1.2h-1.2zM427.5 492.9h1.2v1.2h-1.2zM428.6 486.8h1.2v1.2h-1.2zM421.5 489.8h1.2v1.2h-1.2zM423.6 487.5h1.2v1.2h-1.2zM426.6 488.0h1.2v1.2h-1.2zM427.4 485.9h1.2v1.2h-1.2zM412.0 488.5h1.2v1.2h-1.2zM429.4 486.9h1.2v1.2h-1.2zM416.2 486.0h1.2v1.2h-1.2zM427.0 489.5h1.2v1.2h-1.2zM443.1 491.0h1.2v1.2h-1.2zM432.9 490.2h1.2v1.2h-1.2zM441.0 489.8h1.2v1.2h-1.2zM430.5 489.8h1.2v1.2h-1.2zM417.0 484.8h1.2v1.2h-1.2zM435.2 491.0h1.2v1.2h-1.2zM439.9 486.5h1.2v1.2h-1.2zM412.2 486.6h1.2v1.2h-1.2zM407.7 489.0h1.2v1.2h-1.2zM414.8 489.5h1.2v1.2h-1.2zM438.7 490.2h1.2v1.2h-1.2zM429.3 493.3h1.2v1.2h-1.2zM412.7 489.1h1.2v1.2h-1.2zM428.8 490.3h1.2v1.2h-1.2zM419.5 490.9h1.2v1.2h-1.2zM427.0 487.5h1.2v1.2h-1.2z" fill="#ee1010"/>
<path d="M440.8 504.7h1.2v1.2h-1.2zM443.4 508.7h1.2v1.2h-1.2zM434.3 517.1h1.2v1.2h-1.2zM436.1 508.1h1.2v1.2h-1.2zM436.6 512.5h1.2v1.2h-1.2zM433.9 501.8h1.2v1.2h-1.2zM440.8 497.5h1.2v1.2h-1.2zM437.3 509.9h1.2v1.2h-1.2zM447.3 497.9h1.2v1.2h-1.2zM429.7 502.2h1.2v1.2h-1.2zM440.8 510.7h1.2v1.2h-1.2zM435.2 512.9h1.2v1.2h-1.2zM434.4 508.7h1.2v1.2h-1.2zM436.5 515.8h1.2v1.2h-1.2zM445.7 512.5h1.2v1.2h-1.2zM435.0 497.3h1.2v1.2h-1.2zM435.6 503.2h1.2v1.2h-1.2zM434.0 502.1h1.2v1.2h-1.2zM435.7 508.8h1.2v1.2h-1.2zM444.8 511.9h1.2v1.2h-1.2zM446.6 494.5h1.2v1.2h-1.2zM441.7 519.7h1.2v1.2h-1.2zM444.0 510.8h1.2v1.2h-1.2zM443.2 505.5h1.2v1.2h-1.2zM436.5 503.3h1.2v1.2h-1.2zM435.3 504.8h1.2v1.2h-1.2zM434.3 514.7h1.2v1.2h-1.2zM441.6 511.5h1.2v1.2h-1.2zM447.6 507.8h1.2v1.2h-1.2zM443.7 502.4h1.2v1.2h-1.2zM440.3 510.2h1.2v1.2h-1.2zM431.5 510.3h1.2v1.2h-1.2zM438.5 503.5h1.2v1.2h-1.2zM445.9 507.0h1.2v1.2h-1.2zM437.9 511.1h1.2v1.2h-1.2zM434.9 498.4h1.2v1.2h-1.2zM443.0 512.3h1.2v1.2h-1.2zM435.1 507.8h1.2v1.2h-1.2zM438.4 507.8h1.2v1.2h-1.2zM444.1 507.1h1.2v1.2h-1.2zM442.3 511.0h1.2v1.2h-1.2zM436.5 508.4h1.2v1.2h-1.2zM436.1 505.6h1.2v1.2h-1.2zM445.5 502.0h1.2v1.2h-1.2zM442.5 505.5h1.2v1.2h-1.2zM435.6 507.2h1.2v1.2h-1.2zM435.0 497.5h1.2v1.2h-1.2zM444.2 510.6h1.2v1.2h-1.2zM435.7 499.4h1.2v1.2h-1.2zM432.8 516.0h1.2v1.2h-1.2zM433.0 502.6h1.2v1.2h-1.2zM449.2 495.0h1.2v1.2h-1.2zM431.9 500.9h1.2v1.2h-1.2zM435.0 494.5h1.2v1.2h-1.2zM439.1 499.0h1.2v1.2h-1.2zM430.6 508.1h1.2v1.2h-1.2zM432.9 508.6h1.2v1.2h-1.2zM433.7 515.4h1.2v1.2h-1.2zM431.6 507.9h1.2v1.2h-1.2zM431.9 514.1h1.2v1.2h-1.2zM427.8 504.5h1.2v1.2h-1.2zM439.0 504.1h1.2v1.2h-1.2zM437.2 503.5h1.2v1.2h-1.2zM435.2 507.9h1.2v1.2h-1.2zM448.8 509.0h1.2v1.2h-1.2zM440.8 502.9h1.2v1.2h-1.2zM433.3 506.8h1.2v1.2h-1.2zM434.4 515.6h1.2v1.2h-1.2zM438.1 515.2h1.2v1.2h-1.2zM437.0 512.9h1.2v1.2h-1.2zM429.9 516.2h1.2v1.2h-1.2zM431.3 507.6h1.2v1.2h-1.2zM437.3 505.6h1.2v1.2h-1.2zM442.7 501.3h1.2v1.2h-1.2zM441.0 497.7h1.2v1.2h-1.2zM430.0 510.7h1.2v1.2h-1.2zM445.8 500.7h1.2v1.2h-1.2zM441.4 504.4h1.2v1.2h-1.2zM447.3 508.4h1.2v1.2h-1.2zM448.4 504.2h1.2v1.2h-1.2zM448.9 503.0h1.2v1.2h-1.2zM448.0 510.4h1.2v1.2h-1.2zM430.0 512.4h1.2v1.2h-1.2zM439.5 511.4h1.2v1.2h-1.2zM433.4 504.2h1.2v1.2h-1.2zM431.1 515.4h1.2v1.2h-1.2zM438.1 493.1h1.2v1.2h-1.2zM442.7 507.3h1.2v1.2h-1.2zM441.1 504.2h1.2v1.2h-1.2zM420.9 511.9h1.2v1.2h-1.2zM435.4 510.6h1.2v1.2h-1.2zM438.6 493.6h1.2v1.2h-1.2zM437.6 511.4h1.2v1.2h-1.2zM443.9 511.9h1.2v1.2h-1.2zM435.4 499.4h1.2v1.2h-1.2zM440.5 500.3h1.2v1.2h-1.2zM445.9 505.3h1.2v1.2h-1.2zM442.6 508.4h1.2v1.2h-1.2zM443.2 508.8h1.2v1.2h-1.2zM440.8 507.5h1.2v1.2h-1.2zM433.8 497.2h1.2v1.2h-1.2zM428.9 513.1h1.2v1.2h-1.2zM434.3 508.7h1.2v1.2h-1.2zM427.5 504.2h1.2v1.2h-1.2zM450.9 517.6h1.2v1.2h-1.2zM442.2 507.8h1.2v1.2h-1.2zM442.3 518.3h1.2v1.2h-1.2zM431.6 506.7h1.2v1.2h-1.2zM435.6 489.8h1.2v1.2h-1.2zM439.0 512.3h1.2v1.2h-1.2zM435.1 500.2h1.2v1.2h-1.2zM446.1 503.1h1.2v1.2h-1.2zM436.9 503.6h1.2v1.2h-1.2zM436.9 507.5h1.2v1.2h-1.2zM443.4 508.8h1.2v1.2h-1.2zM450.6 500.0h1.2v1.2h-1.2zM439.9 505.3h1.2v1.2h-1.2zM451.7 497.2h1.2v1.2h-1.2zM437.9 511.9h1.2v1.2h-1.2zM433.9 506.7h1.2v1.2h-1.2zM439.2 509.0h1.2v1.2h-1.2zM439.5 499.9h1.2v1.2h-1.2zM443.0 492.7h1.2v1.2h-1.2zM432.8 501.5h1.2v1.2h-1.2zM437.3 507.3h1.2v1.2h-1.2zM438.0 508.1h1.2v1.2h-1.2zM446.4 509.7h1.2v1.2h-1.2zM437.4 495.2h1.2v1.2h-1.2zM426.3 509.3h1.2v1.2h-1.2zM444.7 505.9h1.2v1.2h-1.2zM452.9 508.2h1.2v1.2h-1.2zM431.6 509.1h1.2v1.2h-1.2zM432.1 513.5h1.2v1.2h-1.2zM436.2 504.1h1.2v1.2h-1.2zM438.0 514.8h1.2v1.2h-1.2zM430.1 513.7h1.2v1.2h-1.2zM447.5 511.4h1.2v1.2h-1.2zM438.2 512.0h1.2v1.2h-1.2zM435.4 501.9h1.2v1.2h-1.2zM445.1 497.9h1.2v1.2h-1.2zM440.6 503.5h1.2v1.2h-1.2zM436.3 506.4h1.2v1.2h-1.2zM435.3 513.8h1.2v1.2h-1.2zM434.0 500.1h1.2v1.2h-1.2zM430.5 506.7h1.2v1.2h-1.2zM439.2 506.1h1.2v1.2h-1.2zM439.1 500.0h1.2v1.2h-1.2zM440.3 511.2h1.2v1.2h-1.2zM429.8 504.9h1.2v1.2h-1.2zM438.1 504.5h1.2v1.2h-1.2zM433.6 502.8h1.2v1.2h-1.2zM432.2 515.6h1.2v1.2h-1.2zM430.9 500.4h1.2v1.2h-1.2zM429.5 507.4h1.2v1.2h-1.2zM432.4 509.8h1.2v1.2h-1.2zM438.7 508.5h1.2v1.2h-1.2zM442.5 506.2h1.2v1.2h-1.2zM435.8 506.8h1.2v1.2h-1.2zM443.7 501.3h1.2v1.2h-1.2zM436.7 515.7h1.2v1.2h-1.2zM440.3 513.6h1.2v1.2h-1.2zM442.1 496.6h1.2v1.2h-1.2zM435.9 499.0h1.2v1.2h-1.2zM439.6 505.7h1.2v1.2h-1.2zM442.3 507.8h1.2v1.2h-1.2zM436.0 512.9h1.2v1.2h-1.2zM430.6 496.7h1.2v1.2h-1.2zM443.4 508.8h1.2v1.2h-1.2zM442.0 501.1h1.2v1.2h-1.2zM442.0 510.1h1.2v1.2h-1.2zM438.4 506.5h1.2v1.2h-1.2zM437.1 508.9h1.2v1.2h-1.2zM430.2 514.0h1.2v1.2h-1.2zM432.8 500.4h1.2v1.2h-1.2zM445.2 506.0h1.2v1.2h-1.2zM429.1 507.4h1.2v1.2h-1.2zM435.0 508.6h1.2v1.2h-1.2zM431.2 505.8h1.2v1.2h-1.2zM435.8 515.7h1.2v1.2h-1.2zM432.4 512.2h1.2v1.2h-1.2zM443.5 508.5h1.2v1.2h-1.2zM436.5 509.3h1.2v1.2h-1.2zM433.5 512.3h1.2v1.2h-1.2zM428.3 514.3h1.2v1.2h-1.2zM435.8 503.0h1.2v1.2h-1.2zM439.7 516.0h1.2v1.2h-1.2zM437.8 518.0h1.2v1.2h-1.2zM437.5 508.5h1.2v1.2h-1.2zM430.4 506.3h1.2v1.2h-1.2zM437.6 502.9h1.2v1.2h-1.2zM430.3 503.2h1.2v1.2h-1.2zM440.1 510.3h1.2v1.2h-1.2zM448.3 494.7h1.2v1.2h-1.2zM448.3 511.5h1.2v1.2h-1.2zM437.9 513.6h1.2v1.2h-1.2zM439.9 497.1h1.2v1.2h-1.2zM442.1 498.4h1.2v1.2h-1.2zM442.3 499.0h1.2v1.2h-1.2zM428.5 511.7h1.2v1.2h-1.2zM435.3 502.5h1.2v1.2h-1.2zM448.4 506.5h1.2v1.2h-1.2zM447.1 504.9h1.2v1.2h-1.2zM437.5 494.7h1.2v1.2h-1.2zM445.3 503.7h1.2v1.2h-1.2zM443.8 502.5h1.2v1.2h-1.2zM427.3 508.0h1.2v1.2h-1.2zM444.2 493.2h1.2v1.2h-1.2zM431.3 513.3h1.2v1.2h-1.2zM447.2 504.1h1.2v1.2h-1.2zM439.6 509.6h1.2v1.2h-1.2zM440.5 499.8h1.2v1.2h-1.2zM444.3 516.0h1.2v1.2h-1.2zM438.9 507.1h1.2v1.2h-1.2zM434.6 509.3h1.2v1.2h-1.2zM441.9 503.0h1.2v1.2h-1.2zM428.5 498.0h1.2v1.2h-1.2zM441.1 507.2h1.2v1.2h-1.2zM436.0 494.0h1.2v1.2h-1.2z" fill="#ee1010"/>
<path d="M409.9 498.1h1.2v1.2h-1.2zM430.5 526.1h1.2v1.2h-1.2zM414.7 512.5h1.2v1.2h-1.2zM424.8 516.5h1.2v1.2h-1.2zM415.2 510.6h1.2v1.2h-1.2zM426.1 529.5h1.2v1.2h-1.2zM424.5 488.1h1.2v1.2h-1.2zM409.9 498.6h1.2v1.2h-1.2zM428.0 528.9h1.2v1.2h-1.2zM425.2 495.2h1.2v1.2h-1.2zM416.5 509.0h1.2v1.2h-1.2zM429.0 512.8h1.2v1.2h-1.2zM428.0 504.6h1.2v1.2h-1.2zM439.9 494.6h1.2v1.2h-1.2zM418.9 523.4h1.2v1.2h-1.2zM428.4 496.0h1.2v1.2h-1.2zM413.2 505.7h1.2v1.2h-1.2zM428.9 521.1h1.2v1.2h-1.2zM422.1 523.1h1.2v1.2h-1.2zM426.4 526.4h1.2v1.2h-1.2zM415.6 501.7h1.2v1.2h-1.2zM421.8 513.6h1.2v1.2h-1.2zM444.9 510.6h1.2v1.2h-1.2zM418.4 497.1h1.2v1.2h-1.2zM422.4 504.5h1.2v1.2h-1.2zM426.6 508.5h1.2v1.2h-1.2zM411.4 498.4h1.2v1.2h-1.2zM413.3 509.5h1.2v1.2h-1.2zM418.8 493.3h1.2v1.2h-1.2zM426.4 505.8h1.2v1.2h-1.2zM426.7 512.8h1.2v1.2h-1.2zM415.9 525.7h1.2v1.2h-1.2zM428.8 494.6h1.2v1.2h-1.2zM417.6 493.1h1.2v1.2h-1.2zM413.6 508.3h1.2v1.2h-1.2zM414.4 507.2h1.2v1.2h-1.2zM425.0 523.7h1.2v1.2h-1.2zM425.7 521.8h1.2v1.2h-1.2zM413.6 505.2h1.2v1.2h-1.2zM430.0 503.1h1.2v1.2h-1.2zM424.9 511.4h1.2v1.2h-1.2zM426.0 524.4h1.2v1.2h-1.2zM421.4 503.3h1.2v1.2h-1.2zM411.9 532.0h1.2v1.2h-1.2zM429.3 494.2h1.2v1.2h-1.2zM420.2 502.0h1.2v1.2h-1.2zM420.9 492.3h1.2v1.2h-1.2zM420.7 510.7h1.2v1.2h-1.2zM408.4 493.5h1.2v1.2h-1.2zM413.3 509.3h1.2v1.2h-1.2zM430.5 500.6h1.2v1.2h-1.2zM423.6 530.5h1.2v1.2h-1.2zM410.0 496.3h1.2v1.2h-1.2zM413.4 516.3h1.2v1.2h-1.2zM409.7 522.8h1.2v1.2h-1.2zM413.3 501.7h1.2v1.2h-1.2zM423.9 520.2h1.2v1.2h-1.2zM415.5 508.2h1.2v1.2h-1.2zM428.8 531.7h1.2v1.2h-1.2zM414.4 520.3h1.2v1.2h-1.2zM430.4 517.7h1.2v1.2h-1.2zM421.7 513.1h1.2v1.2h-1.2zM408.7 507.8h1.2v1.2h-1.2zM411.7 503.3h1.2v1.2h-1.2zM423.0 505.1h1.2v1.2h-1.2zM432.3 498.0h1.2v1.2h-1.2zM429.1 500.2h1.2v1.2h-1.2zM418.8 501.5h1.2v1.2h-1.2zM418.3 517.1h1.2v1.2h-1.2zM409.0 515.4h1.2v1.2h-1.2zM426.2 500.0h1.2v1.2h-1.2zM417.0 523.3h1.2v1.2h-1.2zM415.6 518.1h1.2v1.2h-1.2zM419.3 509.3h1.2v1.2h-1.2zM421.4 513.9h1.2v1.2h-1.2zM417.1 523.2h1.2v1.2h-1.2zM420.5 511.5h1.2v1.2h-1.2zM427.8 518.4h1.2v1.2h-1.2zM423.0 524.7h1.2v1.2h-1.2zM427.1 520.1h1.2v1.2h-1.2zM430.9 519.3h1.2v1.2h-1.2zM418.7 527.0h1.2v1.2h-1.2zM413.0 505.5h1.2v1.2h-1.2zM437.3 506.2h1.2v1.2h-1.2zM434.1 500.3h1.2v1.2h-1.2zM419.8 521.9h1.2v1.2h-1.2zM418.6 509.7h1.2v1.2h-1.2zM429.9 497.6h1.2v1.2h-1.2zM436.8 505.6h1.2v1.2h-1.2zM409.1 514.0h1.2v1.2h-1.2zM426.9 520.4h1.2v1.2h-1.2zM425.5 499.6h1.2v1.2h-1.2zM421.7 514.7h1.2v1.2h-1.2zM431.4 521.3h1.2v1.2h-1.2zM408.3 489.8h1.2v1.2h-1.2z" fill="#ee1010"/>
<rect x="326.6" y="526.2" width="47.799999999999955" height="31.0" fill="none" stroke="#5050e0" stroke-width="1.1"/>
<text x="309.0" y="536.4" font-family="Liberation Sans, sans-serif" font-size="13.3" fill="#000">R2</text>
<rect x="324.2" y="563.6" width="53.80000000000001" height="18.399999999999977" fill="none" stroke="#a0dc68" stroke-width="1.1"/>
<text x="378.3" y="577.6" font-family="Liberation Sans, sans-serif" font-size="13.3" fill="#000">R1</text>
<rect x="405.6" y="484.5" width="47.599999999999966" height="47.799999999999955" fill="none" stroke="#e87878" stroke-width="1.1"/>
<text x="452.8" y="494.4" font-family="Liberation Sans, sans-serif" font-size="13.3" fill="#000">R3</text>
<rect x="308" y="466.6" width="169.60000000000002" height="121.29999999999995" fill="none" stroke="#54473a" stroke-width="1.35"/>
<line x1="303.5" y1="587.2" x2="308" y2="587.2" stroke="#544428" stroke-width="0.9"/>
<text transform="translate(301.0,590.2) scale(0.92,1)" font-family="Liberation Sans, sans-serif" font-size="8.5" fill="#544428" text-anchor="end">-1000</text>
<line x1="303.5" y1="574.2" x2="308" y2="574.2" stroke="#544428" stroke-width="0.9"/>
<text transform="translate(301.0,577.2) scale(0.92,1)" font-family="Liberation Sans, sans-serif" font-size="8.5" fill="#544428" text-anchor="end">0</text>
<line x1="303.5" y1="561.2" x2="308" y2="561.2" stroke="#544428" stroke-width="0.9"/>
<text transform="translate(301.0,564.2) scale(0.92,1)" font-family="Liberation Sans, sans-serif" font-size="8.5" fill="#544428" text-anchor="end">1000</text>
<line x1="303.5" y1="530.9" x2="308" y2="530.9" stroke="#544428" stroke-width="0.9"/>
<text transform="translate(301.0,533.9) scale(0.92,1)" font-family="Liberation Sans, sans-serif" font-size="8.5" fill="#544428" text-anchor="end">1e4</text>
<line x1="303.5" y1="501.0" x2="308" y2="501.0" stroke="#544428" stroke-width="0.9"/>
<text transform="translate(301.0,504.0) scale(0.92,1)" font-family="Liberation Sans, sans-serif" font-size="8.5" fill="#544428" text-anchor="end">1e5</text>
<line x1="303.5" y1="469.2" x2="308" y2="469.2" stroke="#544428" stroke-width="0.9"/>
<text transform="translate(301.0,472.2) scale(0.92,1)" font-family="Liberation Sans, sans-serif" font-size="8.5" fill="#544428" text-anchor="end">1e6</text>
<line x1="303.8" y1="552.1" x2="308" y2="552.1" stroke="#544428" stroke-width="0.8"/>
<line x1="303.8" y1="546.7" x2="308" y2="546.7" stroke="#544428" stroke-width="0.8"/>
<line x1="303.8" y1="543.0" x2="308" y2="543.0" stroke="#544428" stroke-width="0.8"/>
<line x1="303.8" y1="540.0" x2="308" y2="540.0" stroke="#544428" stroke-width="0.8"/>
<line x1="303.8" y1="537.6" x2="308" y2="537.6" stroke="#544428" stroke-width="0.8"/>
<line x1="303.8" y1="535.6" x2="308" y2="535.6" stroke="#544428" stroke-width="0.8"/>
<line x1="303.8" y1="533.8" x2="308" y2="533.8" stroke="#544428" stroke-width="0.8"/>
<line x1="303.8" y1="532.3" x2="308" y2="532.3" stroke="#544428" stroke-width="0.8"/>
<line x1="303.8" y1="521.9" x2="308" y2="521.9" stroke="#544428" stroke-width="0.8"/>
<line x1="303.8" y1="516.6" x2="308" y2="516.6" stroke="#544428" stroke-width="0.8"/>
<line x1="303.8" y1="512.9" x2="308" y2="512.9" stroke="#544428" stroke-width="0.8"/>
<line x1="303.8" y1="510.0" x2="308" y2="510.0" stroke="#544428" stroke-width="0.8"/>
<line x1="303.8" y1="507.6" x2="308" y2="507.6" stroke="#544428" stroke-width="0.8"/>
<line x1="303.8" y1="505.6" x2="308" y2="505.6" stroke="#544428" stroke-width="0.8"/>
<line x1="303.8" y1="503.9" x2="308" y2="503.9" stroke="#544428" stroke-width="0.8"/>
<line x1="303.8" y1="502.4" x2="308" y2="502.4" stroke="#544428" stroke-width="0.8"/>
<line x1="303.8" y1="491.4" x2="308" y2="491.4" stroke="#544428" stroke-width="0.8"/>
<line x1="303.8" y1="485.8" x2="308" y2="485.8" stroke="#544428" stroke-width="0.8"/>
<line x1="303.8" y1="481.9" x2="308" y2="481.9" stroke="#544428" stroke-width="0.8"/>
<line x1="303.8" y1="478.8" x2="308" y2="478.8" stroke="#544428" stroke-width="0.8"/>
<line x1="303.8" y1="476.3" x2="308" y2="476.3" stroke="#544428" stroke-width="0.8"/>
<line x1="303.8" y1="474.1" x2="308" y2="474.1" stroke="#544428" stroke-width="0.8"/>
<line x1="303.8" y1="472.3" x2="308" y2="472.3" stroke="#544428" stroke-width="0.8"/>
<line x1="303.8" y1="470.7" x2="308" y2="470.7" stroke="#544428" stroke-width="0.8"/>
<line x1="310.0" y1="587.9" x2="310.0" y2="594.4" stroke="#544428" stroke-width="1"/>
<text transform="translate(310.0,605.7) scale(0.92,1)" font-family="Liberation Sans, sans-serif" font-size="8.5" fill="#544428" text-anchor="middle">-1e4</text>
<line x1="352.2" y1="587.9" x2="352.2" y2="594.4" stroke="#544428" stroke-width="1"/>
<text transform="translate(352.2,605.7) scale(0.92,1)" font-family="Liberation Sans, sans-serif" font-size="8.5" fill="#544428" text-anchor="middle">-1000</text>
<line x1="370.8" y1="587.9" x2="370.8" y2="594.4" stroke="#544428" stroke-width="1"/>
<text transform="translate(370.8,605.7) scale(0.92,1)" font-family="Liberation Sans, sans-serif" font-size="8.5" fill="#544428" text-anchor="middle">0</text>
<line x1="389.4" y1="587.9" x2="389.4" y2="594.4" stroke="#544428" stroke-width="1"/>
<text transform="translate(389.4,605.7) scale(0.92,1)" font-family="Liberation Sans, sans-serif" font-size="8.5" fill="#544428" text-anchor="middle">1000</text>
<line x1="433.3" y1="587.9" x2="433.3" y2="594.4" stroke="#544428" stroke-width="1"/>
<text transform="translate(433.3,605.7) scale(0.92,1)" font-family="Liberation Sans, sans-serif" font-size="8.5" fill="#544428" text-anchor="middle">1e4</text>
<line x1="476.0" y1="587.9" x2="476.0" y2="594.4" stroke="#544428" stroke-width="1"/>
<text transform="translate(476.0,605.7) scale(0.92,1)" font-family="Liberation Sans, sans-serif" font-size="8.5" fill="#544428" text-anchor="middle">1e5</text>
<line x1="339.6" y1="587.9" x2="339.6" y2="594.1" stroke="#544428" stroke-width="0.9"/>
<line x1="332.1" y1="587.9" x2="332.1" y2="594.1" stroke="#544428" stroke-width="0.9"/>
<line x1="326.8" y1="587.9" x2="326.8" y2="594.1" stroke="#544428" stroke-width="0.9"/>
<line x1="322.7" y1="587.9" x2="322.7" y2="594.1" stroke="#544428" stroke-width="0.9"/>
<line x1="319.4" y1="587.9" x2="319.4" y2="594.1" stroke="#544428" stroke-width="0.9"/>
<line x1="316.6" y1="587.9" x2="316.6" y2="594.1" stroke="#544428" stroke-width="0.9"/>
<line x1="314.1" y1="587.9" x2="314.1" y2="594.1" stroke="#544428" stroke-width="0.9"/>
<line x1="311.9" y1="587.9" x2="311.9" y2="594.1" stroke="#544428" stroke-width="0.9"/>
<line x1="402.6" y1="587.9" x2="402.6" y2="594.1" stroke="#544428" stroke-width="0.9"/>
<line x1="410.3" y1="587.9" x2="410.3" y2="594.1" stroke="#544428" stroke-width="0.9"/>
<line x1="415.8" y1="587.9" x2="415.8" y2="594.1" stroke="#544428" stroke-width="0.9"/>
<line x1="420.1" y1="587.9" x2="420.1" y2="594.1" stroke="#544428" stroke-width="0.9"/>
<line x1="423.6" y1="587.9" x2="423.6" y2="594.1" stroke="#544428" stroke-width="0.9"/>
<line x1="426.5" y1="587.9" x2="426.5" y2="594.1" stroke="#544428" stroke-width="0.9"/>
<line x1="429.0" y1="587.9" x2="429.0" y2="594.1" stroke="#544428" stroke-width="0.9"/>
<line x1="431.3" y1="587.9" x2="431.3" y2="594.1" stroke="#544428" stroke-width="0.9"/>
<line x1="446.2" y1="587.9" x2="446.2" y2="594.1" stroke="#544428" stroke-width="0.9"/>
<line x1="453.7" y1="587.9" x2="453.7" y2="594.1" stroke="#544428" stroke-width="0.9"/>
<line x1="459.0" y1="587.9" x2="459.0" y2="594.1" stroke="#544428" stroke-width="0.9"/>
<line x1="463.1" y1="587.9" x2="463.1" y2="594.1" stroke="#544428" stroke-width="0.9"/>
<line x1="466.5" y1="587.9" x2="466.5" y2="594.1" stroke="#544428" stroke-width="0.9"/>
<line x1="469.4" y1="587.9" x2="469.4" y2="594.1" stroke="#544428" stroke-width="0.9"/>
<line x1="471.9" y1="587.9" x2="471.9" y2="594.1" stroke="#544428" stroke-width="0.9"/>
<line x1="474.0" y1="587.9" x2="474.0" y2="594.1" stroke="#544428" stroke-width="0.9"/>
<circle cx="477.8" cy="588.4" r="1.8" fill="#000"/>
<text x="309.8" y="459.2" font-family="Liberation Sans, sans-serif" font-size="15.85" fill="#22190f">TDZD-8 (15min)</text>
<line x1="276.3" y1="308" x2="276.3" y2="599.2" stroke="#000" stroke-width="2.3"/>
<polygon points="276.2,296.5 269.6,310 282.9,310" fill="#000"/>
<line x1="275.3" y1="608.9" x2="470" y2="608.9" stroke="#000" stroke-width="2.5"/>
<polygon points="482.2,609.2 468.6,602.6 468.6,615.8" fill="#000"/>
<text transform="translate(269.0,443.4) rotate(-90) scale(1.09,1)" font-family="Liberation Sans, sans-serif" font-size="12.7" fill="#22190f" text-anchor="middle">YoPro-1 Intensity</text>
<text transform="translate(386.9,623.8) scale(1.04,1)" font-family="Liberation Sans, sans-serif" font-size="13.4" fill="#22190f" text-anchor="middle">7-AAD Intensity</text>
</svg>
</body></html>
